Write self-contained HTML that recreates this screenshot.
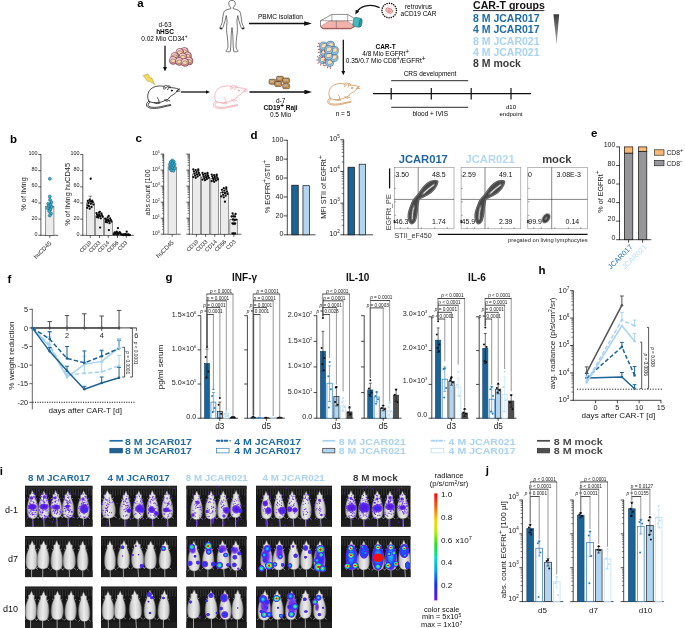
<!DOCTYPE html>
<html><head><meta charset="utf-8"><title>figure</title>
<style>
html,body{margin:0;padding:0;background:#fff;}
body{width:685px;height:628px;overflow:hidden;font-family:"Liberation Sans",sans-serif;}
svg{display:block;font-family:"Liberation Sans",sans-serif;}
</style></head><body>
<svg width="685" height="628" viewBox="0 0 685 628">
<defs>
<linearGradient id="tri" x1="0" y1="0" x2="0" y2="1"><stop offset="0" stop-color="#3a3a3a"/><stop offset="1" stop-color="#b5b5b5"/></linearGradient>
<linearGradient id="cbar" x1="0" y1="0" x2="0" y2="1">
<stop offset="0" stop-color="#ff0000"/><stop offset="0.12" stop-color="#ff5a00"/><stop offset="0.25" stop-color="#ffd000"/><stop offset="0.36" stop-color="#b4f000"/><stop offset="0.48" stop-color="#20e020"/><stop offset="0.6" stop-color="#00e0c0"/><stop offset="0.72" stop-color="#00a0ff"/><stop offset="0.85" stop-color="#1030ff"/><stop offset="1" stop-color="#6a10e0"/></linearGradient>
<marker id="ah" preserveAspectRatio="none" viewBox="0 0 10 10" refX="6.15" refY="5" markerWidth="7.8" markerHeight="4.6" orient="auto-start-reverse" markerUnits="userSpaceOnUse"><path d="M0,0 L10,5 L0,10 z" fill="#111"/></marker>
<g id="mouse" fill="none" stroke-linecap="round" stroke-linejoin="round">
<path d="M2.6,15.6 C0.8,17 -0.4,19 0.6,20.8 C2.2,23.4 9,23.6 15,22.2 C18.6,21.4 22,20.4 24.6,20 M3.8,16.8 C2.2,18 1.4,19.4 2,20.4 C3.4,22.2 9,22.4 14.6,21.2 C18.2,20.4 21.6,19.6 24.4,19.2"/>
<path d="M2.8,15.9 C0.6,12.6 1.2,7 4.4,3.8 C7.4,0.9 12.4,0.2 16,0.6 C17.2,0.8 18,1.1 18.6,1.5"/>
<path d="M17.8,4 C16.6,1.8 18.2,-0.4 20.2,0 C22.2,0.4 22.8,2.8 21.4,4.4 M19,3.2 C18.8,2.2 19.6,1.4 20.4,1.8"/>
<path d="M21.8,0.6 C23.2,-0.2 24.8,1 24,2.4"/>
<path d="M22.6,2.2 C26,2 29.8,2.8 32.4,3.6 C32.9,4 32.7,4.6 32,4.8 C30.6,5.6 30.4,6.6 29.6,7.4 C28.2,8.8 26.4,9.6 25,10.4 C24,11 23.2,11.8 22.8,12.6"/>
<path d="M30.4,5.4 L33.4,3.4 M30.6,6 L33.8,5.6"/>
<path d="M22.8,12.6 C22.4,13.6 21.6,14.2 20.4,14.4 L23.6,15.4 M20.4,14.4 L18,14.6 L21,16"/>
<path d="M2.8,15.9 C5,17.6 9,17.5 12.6,17 C14.4,16.8 16.4,16.4 18,15.6 M12.6,17 C13.2,15 12.4,13.2 11,12.2 M8,17.5 L11,18.2 L13.8,17.7"/>
<circle cx="25.6" cy="5.2" r="0.75" stroke-width="0.5" fill="currentColor"/>
</g>
<linearGradient id="mg" x1="0" y1="0" x2="1" y2="0"><stop offset="0" stop-color="#969696"/><stop offset="0.2" stop-color="#d0d0d0"/><stop offset="0.5" stop-color="#ececec"/><stop offset="0.8" stop-color="#d0d0d0"/><stop offset="1" stop-color="#969696"/></linearGradient>
<radialGradient id="gv"><stop offset="0" stop-color="#5218e6" stop-opacity="0.95"/><stop offset="0.55" stop-color="#6424ea" stop-opacity="0.85"/><stop offset="1" stop-color="#7a3cf0" stop-opacity="0"/></radialGradient>
<radialGradient id="gb"><stop offset="0" stop-color="#1648ff"/><stop offset="0.45" stop-color="#3626f2" stop-opacity="0.97"/><stop offset="0.75" stop-color="#5a22ea" stop-opacity="0.85"/><stop offset="1" stop-color="#6a2be8" stop-opacity="0"/></radialGradient>
<radialGradient id="gc"><stop offset="0" stop-color="#38ecff"/><stop offset="0.28" stop-color="#1a98ff"/><stop offset="0.55" stop-color="#2238ff"/><stop offset="0.8" stop-color="#5a22ea" stop-opacity="0.85"/><stop offset="1" stop-color="#6a2be8" stop-opacity="0"/></radialGradient>
<radialGradient id="gg"><stop offset="0" stop-color="#f4f020"/><stop offset="0.18" stop-color="#48e23c"/><stop offset="0.38" stop-color="#1ed4e4"/><stop offset="0.62" stop-color="#2048ff"/><stop offset="0.82" stop-color="#5a22ea" stop-opacity="0.85"/><stop offset="1" stop-color="#6a2be8" stop-opacity="0"/></radialGradient>
<radialGradient id="gr"><stop offset="0" stop-color="#ff0808"/><stop offset="0.2" stop-color="#ff2c00"/><stop offset="0.32" stop-color="#f4e41c"/><stop offset="0.45" stop-color="#34e048"/><stop offset="0.6" stop-color="#1ecaf0"/><stop offset="0.78" stop-color="#2444ff"/><stop offset="0.9" stop-color="#5a22ea" stop-opacity="0.85"/><stop offset="1" stop-color="#6a2be8" stop-opacity="0"/></radialGradient>
<filter id="bl" x="-5%" y="-5%" width="110%" height="110%"><feGaussianBlur stdDeviation="0.45"/></filter>
<g id="ms"><path d="M0,-0.8 C0.7,0.6 1.1,2 1.6,3.4 C2.6,2.9 3.6,3.9 2.9,5.4 C2.9,6.6 3,7.6 3.5,8.8 C4.5,10.6 5.3,13.6 5.6,17 C5.9,20.6 5.7,24.2 4.5,26.6 C3.5,28.4 1.4,28.9 0,28.9 C-1.4,28.9 -3.5,28.4 -4.5,26.6 C-5.7,24.2 -5.9,20.6 -5.6,17 C-5.3,13.6 -4.5,10.6 -3.5,8.8 C-3,7.6 -2.9,6.6 -2.9,5.4 C-3.6,3.9 -2.6,2.9 -1.6,3.4 C-1.1,2 -0.7,0.6 0,-0.8 Z" fill="url(#mg)" stroke="#707070" stroke-width="0.5"/><path d="M-4.2,27 L-6.2,28.8 M4.2,27 L6.2,28.8 M-3.3,8.8 L-4.9,7.4 M3.3,8.8 L4.9,7.4" stroke="#a8a8a8" stroke-width="0.7" fill="none"/><path d="M0,28.6 L0.3,41" stroke="#b4b4b4" stroke-width="0.85" fill="none"/></g>
<radialGradient id="gB"><stop offset="0" stop-color="#1a60ff"/><stop offset="0.6" stop-color="#2040ff"/><stop offset="0.85" stop-color="#4a24ee" stop-opacity="0.95"/><stop offset="1" stop-color="#6a2be8" stop-opacity="0"/></radialGradient>
<radialGradient id="gC"><stop offset="0" stop-color="#22c4f2"/><stop offset="0.45" stop-color="#1a8cff"/><stop offset="0.75" stop-color="#2444ff"/><stop offset="0.92" stop-color="#4a24ee" stop-opacity="0.9"/><stop offset="1" stop-color="#6a2be8" stop-opacity="0"/></radialGradient>
<filter id="bl2" x="-10%" y="-10%" width="120%" height="120%"><feGaussianBlur stdDeviation="0.3"/></filter>
<marker id="ahs" preserveAspectRatio="none" viewBox="0 0 10 10" refX="5" refY="5" markerWidth="4.6" markerHeight="4.1" orient="auto-start-reverse" markerUnits="userSpaceOnUse"><path d="M0,0 L10,5 L0,10 z" fill="#111"/></marker>
<radialGradient id="gV"><stop offset="0" stop-color="#4c16e4"/><stop offset="0.62" stop-color="#5a1ee8" stop-opacity="0.96"/><stop offset="0.85" stop-color="#6a2cec" stop-opacity="0.7"/><stop offset="1" stop-color="#7a3cf0" stop-opacity="0"/></radialGradient>

</defs>
<g opacity="0.999">
<text x="137.30" y="6.60" font-size="11.5" text-anchor="start" fill="#000" font-weight="bold">a</text>
<text x="10.00" y="142.60" font-size="11.5" text-anchor="start" fill="#000" font-weight="bold">b</text>
<text x="135.60" y="142.40" font-size="11.5" text-anchor="start" fill="#000" font-weight="bold">c</text>
<text x="250.50" y="139.40" font-size="11.5" text-anchor="start" fill="#000" font-weight="bold">d</text>
<text x="591.00" y="137.20" font-size="11.5" text-anchor="start" fill="#000" font-weight="bold">e</text>
<text x="7.60" y="283.20" font-size="11.5" text-anchor="start" fill="#000" font-weight="bold">f</text>
<text x="165.40" y="280.60" font-size="11.5" text-anchor="start" fill="#000" font-weight="bold">g</text>
<text x="538.40" y="273.60" font-size="11.5" text-anchor="start" fill="#000" font-weight="bold">h</text>
<text x="-0.30" y="474.60" font-size="11.5" text-anchor="start" fill="#000" font-weight="bold">i</text>
<text x="485.80" y="473.60" font-size="11.5" text-anchor="start" fill="#000" font-weight="bold">j</text>
<text x="165.00" y="27.20" font-size="6.5" text-anchor="middle" fill="#000">d-63</text>
<text x="165.00" y="34.20" font-size="6.5" text-anchor="middle" fill="#000" font-weight="bold">hHSC</text>
<text x="164.40" y="41.20" font-size="6.5" text-anchor="middle" fill="#000">0.02 Mio CD34<tspan baseline-shift="2.6" font-size="4.8">+</tspan></text>
<line x1="165.00" y1="45.80" x2="165.00" y2="69.20" stroke="#111" stroke-width="1.3" marker-end="url(#ahs)"/>
<circle cx="184.50" cy="51.40" r="3.9" fill="#e98e9b" stroke="#3a2226" stroke-width="0.5"/>
<circle cx="184.00" cy="50.90" r="2.9" fill="#f6c9ce"/>
<ellipse cx="184.30" cy="51.70" rx="2.5" ry="1.85" fill="#f1d4aa" stroke="#4a3524" stroke-width="0.4"/>
<circle cx="179.90" cy="52.30" r="3.9" fill="#e98e9b" stroke="#3a2226" stroke-width="0.5"/>
<circle cx="179.40" cy="51.80" r="2.9" fill="#f6c9ce"/>
<ellipse cx="179.70" cy="52.60" rx="2.5" ry="1.85" fill="#f1d4aa" stroke="#4a3524" stroke-width="0.4"/>
<circle cx="187.60" cy="55.90" r="3.9" fill="#e98e9b" stroke="#3a2226" stroke-width="0.5"/>
<circle cx="187.10" cy="55.40" r="2.9" fill="#f6c9ce"/>
<ellipse cx="187.40" cy="56.20" rx="2.5" ry="1.85" fill="#f1d4aa" stroke="#4a3524" stroke-width="0.4"/>
<circle cx="174.80" cy="56.40" r="3.9" fill="#e98e9b" stroke="#3a2226" stroke-width="0.5"/>
<circle cx="174.30" cy="55.90" r="2.9" fill="#f6c9ce"/>
<ellipse cx="174.60" cy="56.70" rx="2.5" ry="1.85" fill="#f1d4aa" stroke="#4a3524" stroke-width="0.4"/>
<circle cx="183.00" cy="56.90" r="3.9" fill="#e98e9b" stroke="#3a2226" stroke-width="0.5"/>
<circle cx="182.50" cy="56.40" r="2.9" fill="#f6c9ce"/>
<ellipse cx="182.80" cy="57.20" rx="2.5" ry="1.85" fill="#f1d4aa" stroke="#4a3524" stroke-width="0.4"/>
<circle cx="189.10" cy="61.00" r="3.9" fill="#e98e9b" stroke="#3a2226" stroke-width="0.5"/>
<circle cx="188.60" cy="60.50" r="2.9" fill="#f6c9ce"/>
<ellipse cx="188.90" cy="61.30" rx="2.5" ry="1.85" fill="#f1d4aa" stroke="#4a3524" stroke-width="0.4"/>
<circle cx="173.30" cy="60.50" r="3.9" fill="#e98e9b" stroke="#3a2226" stroke-width="0.5"/>
<circle cx="172.80" cy="60.00" r="2.9" fill="#f6c9ce"/>
<ellipse cx="173.10" cy="60.80" rx="2.5" ry="1.85" fill="#f1d4aa" stroke="#4a3524" stroke-width="0.4"/>
<circle cx="179.40" cy="61.50" r="3.9" fill="#e98e9b" stroke="#3a2226" stroke-width="0.5"/>
<circle cx="178.90" cy="61.00" r="2.9" fill="#f6c9ce"/>
<ellipse cx="179.20" cy="61.80" rx="2.5" ry="1.85" fill="#f1d4aa" stroke="#4a3524" stroke-width="0.4"/>
<circle cx="185.00" cy="62.50" r="3.9" fill="#e98e9b" stroke="#3a2226" stroke-width="0.5"/>
<circle cx="184.50" cy="62.00" r="2.9" fill="#f6c9ce"/>
<ellipse cx="184.80" cy="62.80" rx="2.5" ry="1.85" fill="#f1d4aa" stroke="#4a3524" stroke-width="0.4"/>
<path d="M143.2,75.6 L147.9,73.9 L150.5,78.2 L151.8,77.8 L154.5,84.5 L149.3,81 L147.9,81.6 Z" fill="#f7dc55" stroke="#8a7420" stroke-width="0.4"/>
<use href="#mouse" x="0" y="0" transform="translate(146.2,85.4)" stroke="#111" stroke-width="0.75" color="#111"/>
<line x1="181.00" y1="92.00" x2="207.80" y2="92.00" stroke="#111" stroke-width="1.3" marker-end="url(#ahs)"/>
<use href="#mouse" transform="translate(213.2,85.4)" stroke="#f2a3ab" stroke-width="0.75" color="#f2a3ab"/>
<line x1="249.50" y1="92.00" x2="309.20" y2="92.00" stroke="#111" stroke-width="1.3" marker-end="url(#ah)"/>
<use href="#mouse" transform="translate(327.4,83) scale(0.96)" stroke="#c98c4e" stroke-width="0.75" color="#c98c4e"/>
<rect x="276.60" y="76.30" width="6.80" height="5.00" fill="#e09a4e" stroke="#2e2012" stroke-width="0.5" rx="1.2"/>
<rect x="277.10" y="76.70" width="4.80" height="3.40" fill="#f6d6ac" stroke="#3a2a18" stroke-width="0.35" rx="0.9"/>
<rect x="278.10" y="77.50" width="2.80" height="1.80" fill="#ecc190" stroke="#4a3620" stroke-width="0.3" rx="0.6"/>
<rect x="282.70" y="78.00" width="6.80" height="5.00" fill="#e09a4e" stroke="#2e2012" stroke-width="0.5" rx="1.2"/>
<rect x="283.20" y="78.40" width="4.80" height="3.40" fill="#f6d6ac" stroke="#3a2a18" stroke-width="0.35" rx="0.9"/>
<rect x="284.20" y="79.20" width="2.80" height="1.80" fill="#ecc190" stroke="#4a3620" stroke-width="0.3" rx="0.6"/>
<rect x="269.10" y="79.30" width="6.80" height="5.00" fill="#e09a4e" stroke="#2e2012" stroke-width="0.5" rx="1.2"/>
<rect x="269.60" y="79.70" width="4.80" height="3.40" fill="#f6d6ac" stroke="#3a2a18" stroke-width="0.35" rx="0.9"/>
<rect x="270.60" y="80.50" width="2.80" height="1.80" fill="#ecc190" stroke="#4a3620" stroke-width="0.3" rx="0.6"/>
<rect x="274.80" y="81.50" width="6.80" height="5.00" fill="#e09a4e" stroke="#2e2012" stroke-width="0.5" rx="1.2"/>
<rect x="275.30" y="81.90" width="4.80" height="3.40" fill="#f6d6ac" stroke="#3a2a18" stroke-width="0.35" rx="0.9"/>
<rect x="276.30" y="82.70" width="2.80" height="1.80" fill="#ecc190" stroke="#4a3620" stroke-width="0.3" rx="0.6"/>
<rect x="282.70" y="83.70" width="6.80" height="5.00" fill="#e09a4e" stroke="#2e2012" stroke-width="0.5" rx="1.2"/>
<rect x="283.20" y="84.10" width="4.80" height="3.40" fill="#f6d6ac" stroke="#3a2a18" stroke-width="0.35" rx="0.9"/>
<rect x="284.20" y="84.90" width="2.80" height="1.80" fill="#ecc190" stroke="#4a3620" stroke-width="0.3" rx="0.6"/>
<text x="280.60" y="103.40" font-size="6.5" text-anchor="middle" fill="#000">d-7</text>
<text x="280.60" y="110.30" font-size="6.5" text-anchor="middle" fill="#000" font-weight="bold">CD19<tspan baseline-shift="2.0" font-size="6.4">+</tspan> Raji</text>
<text x="280.60" y="117.40" font-size="6.5" text-anchor="middle" fill="#000">0.5 Mio</text>
<g transform="translate(232 0) scale(1.26 1.0) translate(-232 0)">
<path d="M232,0.4 C230.2,0.4 229.3,1.8 229.4,3.6 C229.5,5.4 230.2,6.8 231,7.4 L231,8.6 C229.4,9.4 226.6,9.8 225.8,11.4 C224.8,14 224.6,19 224.2,22.6 C224,24.4 222.6,26.4 222.4,27.6 C222.3,28.6 223.2,29.6 224,29 C224.8,28 225,26.6 225.4,25.2 C226.2,22.4 227,18.6 227.4,15.6 C227.8,18 228.2,20.4 228,23 C227.6,27.4 227.6,32 228.2,36 C228.6,39.6 228.8,43.4 228.8,47 C228.8,48.6 227.6,50 227.2,51 C227,51.8 229.6,52 230.6,51.6 C231,48 231.2,44 231.2,40 C231.2,36 231.6,31 232,27.6 C232.4,31 232.8,36 232.8,40 C232.8,44 233,48 233.4,51.6 C234.4,52 237,51.8 236.8,51 C236.4,50 235.2,48.6 235.2,47 C235.2,43.4 235.4,39.6 235.8,36 C236.4,32 236.4,27.4 236,23 C235.8,20.4 236.2,18 236.6,15.6 C237,18.6 237.8,22.4 238.6,25.2 C239,26.6 239.2,28 240,29 C240.8,29.6 241.7,28.6 241.6,27.6 C241.4,26.4 240,24.4 239.8,22.6 C239.4,19 239.2,14 238.2,11.4 C237.4,9.8 234.6,9.4 233,8.6 L233,7.4 C233.8,6.8 234.5,5.4 234.6,3.6 C234.7,1.8 233.8,0.4 232,0.4 Z" fill="#fff" stroke="#222" stroke-width="0.55"/>
<circle cx="223.20" cy="28.30" r="0.9" fill="#222" stroke="none" stroke-width="0.4"/>
<circle cx="240.80" cy="28.30" r="0.9" fill="#222" stroke="none" stroke-width="0.4"/>
</g>
<text x="280.50" y="18.70" font-size="6.6" text-anchor="middle" fill="#000">PBMC isolation</text>
<line x1="249.00" y1="23.50" x2="308.90" y2="23.50" stroke="#111" stroke-width="1.3" marker-end="url(#ah)"/>
<path d="M320.5,20.7 L331.9,14.4 L347.7,14.4 L355.2,18.9 L354.7,26.3 L350.6,28.4 L323.1,28.4 L320.5,26.6 Z" fill="#fff" stroke="#333" stroke-width="0.55"/>
<path d="M320.9,26.3 L328.4,21.4 L347.7,21.4 L354.1,25.4 L350.6,28.2 L323.1,28.2 Z" fill="#f2b3ad" stroke="#b8605c" stroke-width="0.45"/>
<path d="M320.5,26.9 L323.1,28.8 L350.6,28.8 L354.7,26.6" fill="none" stroke="#8c2f2f" stroke-width="0.7"/>
<path d="M320.5,20.7 L352.6,20.7 M331.9,14.4 L331.9,21.4 M336.3,20.7 L336.3,28.6 M347.7,14.4 L347.7,21.4" fill="none" stroke="#444" stroke-width="0.45"/>
<g transform="rotate(10 357.4 22.4)"><rect x="353.2" y="17.8" width="8" height="9.2" rx="2" fill="#45b9bd" stroke="#1d5e63" stroke-width="0.55"/><ellipse cx="360.6" cy="22.4" rx="1.5" ry="4.2" fill="#2e979d" stroke="#1d5e63" stroke-width="0.45"/></g>
<path d="M379.6,7.6 C370,3.2 360.2,5.8 356.4,12.6" fill="none" stroke="#111" stroke-width="1.3" marker-end="url(#ahs)"/>
<circle cx="389.20" cy="10.50" r="6.9" fill="#fdf4f4" stroke="none" stroke-width="0.4"/>
<circle cx="389.2" cy="10.5" r="7.3" fill="none" stroke="#1a1a1a" stroke-width="1.5" stroke-dasharray="0.1 2.19" stroke-linecap="round"/>
<ellipse cx="389.2" cy="10.6" rx="3.6" ry="2.3" fill="#f7d3d3" stroke="#b24a4a" stroke-width="0.5" transform="rotate(28 389.2 10.6)"/>
<path d="M387.2,9.6 L391,11.8 M388.2,8.8 L391.6,10.8 M387.6,10.8 L389.8,12.2" fill="none" stroke="#b03a3a" stroke-width="0.4"/>
<text x="418.50" y="9.00" font-size="6.5" text-anchor="middle" fill="#000">retrovirus</text>
<text x="418.50" y="15.90" font-size="6.5" text-anchor="middle" fill="#000">aCD19 CAR</text>
<line x1="343.30" y1="39.80" x2="343.30" y2="73.00" stroke="#111" stroke-width="1.3" marker-end="url(#ahs)"/>
<line x1="323.51" y1="63.64" x2="323.82" y2="65.41" stroke="#b5302a" stroke-width="0.55"/>
<circle cx="323.82" cy="65.41" r="0.5" fill="#b5302a" stroke="none" stroke-width="0.4"/>
<line x1="321.26" y1="63.40" x2="320.59" y2="65.07" stroke="#b5302a" stroke-width="0.55"/>
<circle cx="320.59" cy="65.07" r="0.5" fill="#b5302a" stroke="none" stroke-width="0.4"/>
<line x1="319.48" y1="62.01" x2="318.03" y2="63.07" stroke="#b5302a" stroke-width="0.55"/>
<circle cx="318.03" cy="63.07" r="0.5" fill="#b5302a" stroke="none" stroke-width="0.4"/>
<line x1="318.71" y1="59.89" x2="316.91" y2="60.01" stroke="#b5302a" stroke-width="0.55"/>
<circle cx="316.91" cy="60.01" r="0.5" fill="#b5302a" stroke="none" stroke-width="0.4"/>
<line x1="319.18" y1="57.68" x2="317.59" y2="56.83" stroke="#b5302a" stroke-width="0.55"/>
<circle cx="317.59" cy="56.83" r="0.5" fill="#b5302a" stroke="none" stroke-width="0.4"/>
<circle cx="322.80" cy="59.60" r="4.1" fill="#93c4e8" stroke="#26557e" stroke-width="0.5"/>
<ellipse cx="323.10" cy="59.40" rx="2.79" ry="2.13" fill="#f3e0bf" stroke="#5a4a32" stroke-width="0.35" transform="rotate(-20 322.8 59.6)"/>
<line x1="330.31" y1="66.44" x2="330.62" y2="68.21" stroke="#b5302a" stroke-width="0.55"/>
<circle cx="330.62" cy="68.21" r="0.5" fill="#b5302a" stroke="none" stroke-width="0.4"/>
<line x1="328.06" y1="66.20" x2="327.39" y2="67.87" stroke="#b5302a" stroke-width="0.55"/>
<circle cx="327.39" cy="67.87" r="0.5" fill="#b5302a" stroke="none" stroke-width="0.4"/>
<line x1="326.28" y1="64.81" x2="324.83" y2="65.87" stroke="#b5302a" stroke-width="0.55"/>
<circle cx="324.83" cy="65.87" r="0.5" fill="#b5302a" stroke="none" stroke-width="0.4"/>
<line x1="325.51" y1="62.69" x2="323.71" y2="62.81" stroke="#b5302a" stroke-width="0.55"/>
<circle cx="323.71" cy="62.81" r="0.5" fill="#b5302a" stroke="none" stroke-width="0.4"/>
<line x1="325.98" y1="60.48" x2="324.39" y2="59.63" stroke="#b5302a" stroke-width="0.55"/>
<circle cx="324.39" cy="59.63" r="0.5" fill="#b5302a" stroke="none" stroke-width="0.4"/>
<circle cx="329.60" cy="62.40" r="4.1" fill="#93c4e8" stroke="#26557e" stroke-width="0.5"/>
<ellipse cx="329.90" cy="62.20" rx="2.79" ry="2.13" fill="#f3e0bf" stroke="#5a4a32" stroke-width="0.35" transform="rotate(-20 329.6 62.4)"/>
<line x1="324.91" y1="56.04" x2="325.22" y2="57.81" stroke="#b5302a" stroke-width="0.55"/>
<circle cx="325.22" cy="57.81" r="0.5" fill="#b5302a" stroke="none" stroke-width="0.4"/>
<line x1="322.66" y1="55.80" x2="321.99" y2="57.47" stroke="#b5302a" stroke-width="0.55"/>
<circle cx="321.99" cy="57.47" r="0.5" fill="#b5302a" stroke="none" stroke-width="0.4"/>
<line x1="320.88" y1="54.41" x2="319.43" y2="55.47" stroke="#b5302a" stroke-width="0.55"/>
<circle cx="319.43" cy="55.47" r="0.5" fill="#b5302a" stroke="none" stroke-width="0.4"/>
<line x1="320.11" y1="52.29" x2="318.31" y2="52.41" stroke="#b5302a" stroke-width="0.55"/>
<circle cx="318.31" cy="52.41" r="0.5" fill="#b5302a" stroke="none" stroke-width="0.4"/>
<line x1="320.58" y1="50.08" x2="318.99" y2="49.23" stroke="#b5302a" stroke-width="0.55"/>
<circle cx="318.99" cy="49.23" r="0.5" fill="#b5302a" stroke="none" stroke-width="0.4"/>
<circle cx="324.20" cy="52.00" r="4.1" fill="#93c4e8" stroke="#26557e" stroke-width="0.5"/>
<ellipse cx="324.50" cy="51.80" rx="2.79" ry="2.13" fill="#f3e0bf" stroke="#5a4a32" stroke-width="0.35" transform="rotate(-20 324.2 52.0)"/>
<circle cx="334.00" cy="57.60" r="4.1" fill="#93c4e8" stroke="#26557e" stroke-width="0.5"/>
<ellipse cx="334.30" cy="57.40" rx="2.79" ry="2.13" fill="#f3e0bf" stroke="#5a4a32" stroke-width="0.35" transform="rotate(-20 334.0 57.6)"/>
<circle cx="328.60" cy="55.80" r="4.1" fill="#93c4e8" stroke="#26557e" stroke-width="0.5"/>
<ellipse cx="328.90" cy="55.60" rx="2.79" ry="2.13" fill="#f3e0bf" stroke="#5a4a32" stroke-width="0.35" transform="rotate(-20 328.6 55.8)"/>
<line x1="324.31" y1="50.04" x2="324.62" y2="51.81" stroke="#b5302a" stroke-width="0.55"/>
<circle cx="324.62" cy="51.81" r="0.5" fill="#b5302a" stroke="none" stroke-width="0.4"/>
<line x1="322.06" y1="49.80" x2="321.39" y2="51.47" stroke="#b5302a" stroke-width="0.55"/>
<circle cx="321.39" cy="51.47" r="0.5" fill="#b5302a" stroke="none" stroke-width="0.4"/>
<line x1="320.28" y1="48.41" x2="318.83" y2="49.47" stroke="#b5302a" stroke-width="0.55"/>
<circle cx="318.83" cy="49.47" r="0.5" fill="#b5302a" stroke="none" stroke-width="0.4"/>
<line x1="319.51" y1="46.29" x2="317.71" y2="46.41" stroke="#b5302a" stroke-width="0.55"/>
<circle cx="317.71" cy="46.41" r="0.5" fill="#b5302a" stroke="none" stroke-width="0.4"/>
<line x1="319.98" y1="44.08" x2="318.39" y2="43.23" stroke="#b5302a" stroke-width="0.55"/>
<circle cx="318.39" cy="43.23" r="0.5" fill="#b5302a" stroke="none" stroke-width="0.4"/>
<circle cx="323.60" cy="46.00" r="4.1" fill="#93c4e8" stroke="#26557e" stroke-width="0.5"/>
<ellipse cx="323.90" cy="45.80" rx="2.79" ry="2.13" fill="#f3e0bf" stroke="#5a4a32" stroke-width="0.35" transform="rotate(-20 323.6 46.0)"/>
<circle cx="330.40" cy="45.20" r="4.1" fill="#93c4e8" stroke="#26557e" stroke-width="0.5"/>
<ellipse cx="330.70" cy="45.00" rx="2.79" ry="2.13" fill="#f3e0bf" stroke="#5a4a32" stroke-width="0.35" transform="rotate(-20 330.4 45.2)"/>
<circle cx="334.40" cy="50.40" r="4.1" fill="#93c4e8" stroke="#26557e" stroke-width="0.5"/>
<ellipse cx="334.70" cy="50.20" rx="2.79" ry="2.13" fill="#f3e0bf" stroke="#5a4a32" stroke-width="0.35" transform="rotate(-20 334.4 50.4)"/>
<circle cx="328.80" cy="49.60" r="4.1" fill="#93c4e8" stroke="#26557e" stroke-width="0.5"/>
<ellipse cx="329.10" cy="49.40" rx="2.79" ry="2.13" fill="#f3e0bf" stroke="#5a4a32" stroke-width="0.35" transform="rotate(-20 328.8 49.6)"/>
<text x="385.60" y="49.40" font-size="6.5" text-anchor="middle" fill="#000" font-weight="bold">CAR-T</text>
<text x="385.60" y="56.30" font-size="6.5" text-anchor="middle" fill="#000">4/8 Mio EGFRt<tspan baseline-shift="2.0" font-size="6.4">+</tspan></text>
<text x="385.60" y="63.20" font-size="6.5" text-anchor="middle" fill="#000">0.35/0.7 Mio CD8<tspan baseline-shift="2.0" font-size="6.4">+</tspan>/EGFRt<tspan baseline-shift="2.0" font-size="6.4">+</tspan></text>
<text x="343.00" y="115.60" font-size="6.5" text-anchor="middle" fill="#000">n = 5</text>
<line x1="373.00" y1="93.60" x2="531.00" y2="93.60" stroke="#111" stroke-width="1.3"/>
<line x1="391.20" y1="88.00" x2="391.20" y2="99.40" stroke="#111" stroke-width="1.2"/>
<line x1="431.30" y1="88.00" x2="431.30" y2="99.40" stroke="#111" stroke-width="1.2"/>
<line x1="471.20" y1="88.00" x2="471.20" y2="99.40" stroke="#111" stroke-width="1.2"/>
<line x1="511.00" y1="88.00" x2="511.00" y2="99.40" stroke="#111" stroke-width="1.2"/>
<line x1="391.20" y1="80.70" x2="468.20" y2="80.70" stroke="#111" stroke-width="0.9"/>
<line x1="391.20" y1="107.30" x2="468.20" y2="107.30" stroke="#111" stroke-width="0.9"/>
<text x="430.00" y="76.40" font-size="6.5" text-anchor="middle" fill="#000">CRS development</text>
<text x="430.20" y="116.30" font-size="6.5" text-anchor="middle" fill="#000">blood + IVIS</text>
<text x="511.00" y="108.80" font-size="6" text-anchor="middle" fill="#000">d10</text>
<text x="511.00" y="115.80" font-size="6" text-anchor="middle" fill="#000">endpoint</text>
<text x="473.00" y="8.80" font-size="10.6" text-anchor="start" fill="#111" font-weight="bold">CAR-T groups</text>
<line x1="473.00" y1="10.60" x2="544.40" y2="10.60" stroke="#111" stroke-width="0.9"/>
<text x="473.00" y="22.00" font-size="10.5" text-anchor="start" fill="#1f6ca3" font-weight="bold">8 M JCAR017</text>
<text x="473.00" y="33.40" font-size="10.5" text-anchor="start" fill="#1f6ca3" font-weight="bold">4 M JCAR017</text>
<text x="473.00" y="44.80" font-size="10.5" text-anchor="start" fill="#a9d3f0" font-weight="bold">8 M JCAR021</text>
<text x="473.00" y="56.10" font-size="10.5" text-anchor="start" fill="#a9d3f0" font-weight="bold">4 M JCAR021</text>
<text x="473.00" y="67.30" font-size="10.5" text-anchor="start" fill="#3c3c3c" font-weight="bold">8 M mock</text>
<path d="M553.4,14.2 L559.2,14.2 L556.6,44.8 Z" fill="url(#tri)" stroke="none" stroke-width="0.8"/>
<line x1="40.90" y1="154.20" x2="40.90" y2="235.60" stroke="#1a1a1a" stroke-width="0.7"/>
<line x1="38.30" y1="235.30" x2="40.90" y2="235.30" stroke="#1a1a1a" stroke-width="0.7"/>
<text x="37.50" y="235.74" font-size="5.4" text-anchor="end" fill="#1a1a1a">0</text>
<line x1="38.30" y1="219.14" x2="40.90" y2="219.14" stroke="#1a1a1a" stroke-width="0.7"/>
<text x="37.50" y="219.58" font-size="5.4" text-anchor="end" fill="#1a1a1a">20</text>
<line x1="38.30" y1="202.98" x2="40.90" y2="202.98" stroke="#1a1a1a" stroke-width="0.7"/>
<text x="37.50" y="203.42" font-size="5.4" text-anchor="end" fill="#1a1a1a">40</text>
<line x1="38.30" y1="186.82" x2="40.90" y2="186.82" stroke="#1a1a1a" stroke-width="0.7"/>
<text x="37.50" y="187.26" font-size="5.4" text-anchor="end" fill="#1a1a1a">60</text>
<line x1="38.30" y1="170.66" x2="40.90" y2="170.66" stroke="#1a1a1a" stroke-width="0.7"/>
<text x="37.50" y="171.10" font-size="5.4" text-anchor="end" fill="#1a1a1a">80</text>
<line x1="38.30" y1="154.50" x2="40.90" y2="154.50" stroke="#1a1a1a" stroke-width="0.7"/>
<text x="37.50" y="154.94" font-size="5.4" text-anchor="end" fill="#1a1a1a">100</text>
<line x1="40.60" y1="235.30" x2="58.20" y2="235.30" stroke="#1a1a1a" stroke-width="0.7"/>
<line x1="49.80" y1="235.30" x2="49.80" y2="237.90" stroke="#1a1a1a" stroke-width="0.7"/>
<rect x="45.65" y="206.21" width="8.30" height="29.09" fill="#ebebeb" stroke="#333" stroke-width="0.5"/>
<line x1="49.80" y1="203.38" x2="49.80" y2="208.64" stroke="#222" stroke-width="0.5"/>
<line x1="48.20" y1="203.38" x2="51.40" y2="203.38" stroke="#222" stroke-width="0.5"/>
<line x1="48.20" y1="208.64" x2="51.40" y2="208.64" stroke="#222" stroke-width="0.5"/>
<circle cx="49.80" cy="178.74" r="1.55" fill="#2fb4d6" stroke="#174a5c" stroke-width="0.45"/>
<circle cx="49.80" cy="196.52" r="1.55" fill="#2fb4d6" stroke="#174a5c" stroke-width="0.45"/>
<circle cx="50.00" cy="199.75" r="1.55" fill="#2fb4d6" stroke="#174a5c" stroke-width="0.45"/>
<circle cx="51.40" cy="202.17" r="1.55" fill="#2fb4d6" stroke="#174a5c" stroke-width="0.45"/>
<circle cx="48.20" cy="203.79" r="1.55" fill="#2fb4d6" stroke="#174a5c" stroke-width="0.45"/>
<circle cx="50.60" cy="205.00" r="1.55" fill="#2fb4d6" stroke="#174a5c" stroke-width="0.45"/>
<circle cx="48.60" cy="206.21" r="1.55" fill="#2fb4d6" stroke="#174a5c" stroke-width="0.45"/>
<circle cx="51.60" cy="207.02" r="1.55" fill="#2fb4d6" stroke="#174a5c" stroke-width="0.45"/>
<circle cx="47.90" cy="208.23" r="1.55" fill="#2fb4d6" stroke="#174a5c" stroke-width="0.45"/>
<circle cx="50.20" cy="209.44" r="1.55" fill="#2fb4d6" stroke="#174a5c" stroke-width="0.45"/>
<circle cx="49.20" cy="211.06" r="1.55" fill="#2fb4d6" stroke="#174a5c" stroke-width="0.45"/>
<circle cx="51.00" cy="213.48" r="1.55" fill="#2fb4d6" stroke="#174a5c" stroke-width="0.45"/>
<circle cx="49.80" cy="215.50" r="1.55" fill="#2fb4d6" stroke="#174a5c" stroke-width="0.45"/>
<text x="51.80" y="243.60" font-size="6.0" text-anchor="end" fill="#1a1a1a" transform="rotate(-45 51.80 243.60)">huCD45</text>
<text x="26.00" y="194.00" font-size="7.4" text-anchor="middle" fill="#1a1a1a" transform="rotate(-90 26.00 194.00)">% of living</text>
<line x1="82.80" y1="154.20" x2="82.80" y2="235.60" stroke="#1a1a1a" stroke-width="0.7"/>
<line x1="80.20" y1="235.30" x2="82.80" y2="235.30" stroke="#1a1a1a" stroke-width="0.7"/>
<text x="79.40" y="235.74" font-size="5.4" text-anchor="end" fill="#1a1a1a">0</text>
<line x1="80.20" y1="219.14" x2="82.80" y2="219.14" stroke="#1a1a1a" stroke-width="0.7"/>
<text x="79.40" y="219.58" font-size="5.4" text-anchor="end" fill="#1a1a1a">20</text>
<line x1="80.20" y1="202.98" x2="82.80" y2="202.98" stroke="#1a1a1a" stroke-width="0.7"/>
<text x="79.40" y="203.42" font-size="5.4" text-anchor="end" fill="#1a1a1a">40</text>
<line x1="80.20" y1="186.82" x2="82.80" y2="186.82" stroke="#1a1a1a" stroke-width="0.7"/>
<text x="79.40" y="187.26" font-size="5.4" text-anchor="end" fill="#1a1a1a">60</text>
<line x1="80.20" y1="170.66" x2="82.80" y2="170.66" stroke="#1a1a1a" stroke-width="0.7"/>
<text x="79.40" y="171.10" font-size="5.4" text-anchor="end" fill="#1a1a1a">80</text>
<line x1="80.20" y1="154.50" x2="82.80" y2="154.50" stroke="#1a1a1a" stroke-width="0.7"/>
<text x="79.40" y="154.94" font-size="5.4" text-anchor="end" fill="#1a1a1a">100</text>
<line x1="82.50" y1="235.30" x2="133.90" y2="235.30" stroke="#1a1a1a" stroke-width="0.7"/>
<rect x="86.35" y="202.98" width="7.90" height="32.32" fill="#ebebeb" stroke="#333" stroke-width="0.5"/>
<line x1="90.30" y1="235.30" x2="90.30" y2="237.90" stroke="#1a1a1a" stroke-width="0.7"/>
<line x1="90.30" y1="196.11" x2="90.30" y2="202.98" stroke="#222" stroke-width="0.5"/>
<line x1="88.50" y1="196.11" x2="92.10" y2="196.11" stroke="#222" stroke-width="0.5"/>
<circle cx="90.70" cy="178.74" r="1.15" fill="#0c0c0c" stroke="none" stroke-width="0.4"/>
<circle cx="89.68" cy="199.75" r="1.15" fill="#0c0c0c" stroke="none" stroke-width="0.4"/>
<circle cx="92.16" cy="200.56" r="1.15" fill="#0c0c0c" stroke="none" stroke-width="0.4"/>
<circle cx="87.82" cy="200.96" r="1.15" fill="#0c0c0c" stroke="none" stroke-width="0.4"/>
<circle cx="90.30" cy="201.36" r="1.15" fill="#0c0c0c" stroke="none" stroke-width="0.4"/>
<circle cx="92.78" cy="202.17" r="1.15" fill="#0c0c0c" stroke="none" stroke-width="0.4"/>
<circle cx="88.44" cy="202.98" r="1.15" fill="#0c0c0c" stroke="none" stroke-width="0.4"/>
<circle cx="90.92" cy="203.79" r="1.15" fill="#0c0c0c" stroke="none" stroke-width="0.4"/>
<circle cx="93.40" cy="204.60" r="1.15" fill="#0c0c0c" stroke="none" stroke-width="0.4"/>
<circle cx="89.06" cy="206.21" r="1.15" fill="#0c0c0c" stroke="none" stroke-width="0.4"/>
<circle cx="91.54" cy="207.02" r="1.15" fill="#0c0c0c" stroke="none" stroke-width="0.4"/>
<circle cx="87.20" cy="207.83" r="1.15" fill="#0c0c0c" stroke="none" stroke-width="0.4"/>
<circle cx="89.68" cy="208.64" r="1.15" fill="#0c0c0c" stroke="none" stroke-width="0.4"/>
<circle cx="92.16" cy="201.77" r="1.15" fill="#0c0c0c" stroke="none" stroke-width="0.4"/>
<circle cx="87.82" cy="205.40" r="1.15" fill="#0c0c0c" stroke="none" stroke-width="0.4"/>
<text x="91.80" y="243.00" font-size="5.6" text-anchor="end" fill="#1a1a1a" transform="rotate(-45 91.80 243.00)">CD19</text>
<rect x="95.55" y="215.91" width="7.90" height="19.39" fill="#ebebeb" stroke="#333" stroke-width="0.5"/>
<line x1="99.50" y1="235.30" x2="99.50" y2="237.90" stroke="#1a1a1a" stroke-width="0.7"/>
<circle cx="99.90" cy="211.87" r="1.15" fill="#0c0c0c" stroke="none" stroke-width="0.4"/>
<circle cx="98.88" cy="212.68" r="1.15" fill="#0c0c0c" stroke="none" stroke-width="0.4"/>
<circle cx="101.36" cy="213.48" r="1.15" fill="#0c0c0c" stroke="none" stroke-width="0.4"/>
<circle cx="97.02" cy="214.29" r="1.15" fill="#0c0c0c" stroke="none" stroke-width="0.4"/>
<circle cx="99.50" cy="214.70" r="1.15" fill="#0c0c0c" stroke="none" stroke-width="0.4"/>
<circle cx="101.98" cy="215.10" r="1.15" fill="#0c0c0c" stroke="none" stroke-width="0.4"/>
<circle cx="97.64" cy="215.91" r="1.15" fill="#0c0c0c" stroke="none" stroke-width="0.4"/>
<circle cx="100.12" cy="216.31" r="1.15" fill="#0c0c0c" stroke="none" stroke-width="0.4"/>
<circle cx="102.60" cy="216.72" r="1.15" fill="#0c0c0c" stroke="none" stroke-width="0.4"/>
<circle cx="98.26" cy="217.52" r="1.15" fill="#0c0c0c" stroke="none" stroke-width="0.4"/>
<circle cx="100.74" cy="218.33" r="1.15" fill="#0c0c0c" stroke="none" stroke-width="0.4"/>
<circle cx="96.40" cy="213.08" r="1.15" fill="#0c0c0c" stroke="none" stroke-width="0.4"/>
<circle cx="98.88" cy="215.50" r="1.15" fill="#0c0c0c" stroke="none" stroke-width="0.4"/>
<circle cx="100.10" cy="227.62" r="1.15" fill="#0c0c0c" stroke="none" stroke-width="0.4"/>
<circle cx="97.02" cy="217.12" r="1.15" fill="#0c0c0c" stroke="none" stroke-width="0.4"/>
<text x="101.00" y="243.00" font-size="5.6" text-anchor="end" fill="#1a1a1a" transform="rotate(-45 101.00 243.00)">CD33</text>
<rect x="104.35" y="220.76" width="7.90" height="14.54" fill="#ebebeb" stroke="#333" stroke-width="0.5"/>
<line x1="108.30" y1="235.30" x2="108.30" y2="237.90" stroke="#1a1a1a" stroke-width="0.7"/>
<circle cx="108.70" cy="215.91" r="1.15" fill="#0c0c0c" stroke="none" stroke-width="0.4"/>
<circle cx="107.68" cy="217.52" r="1.15" fill="#0c0c0c" stroke="none" stroke-width="0.4"/>
<circle cx="110.16" cy="218.33" r="1.15" fill="#0c0c0c" stroke="none" stroke-width="0.4"/>
<circle cx="105.82" cy="219.14" r="1.15" fill="#0c0c0c" stroke="none" stroke-width="0.4"/>
<circle cx="108.30" cy="219.54" r="1.15" fill="#0c0c0c" stroke="none" stroke-width="0.4"/>
<circle cx="110.78" cy="219.95" r="1.15" fill="#0c0c0c" stroke="none" stroke-width="0.4"/>
<circle cx="106.44" cy="220.76" r="1.15" fill="#0c0c0c" stroke="none" stroke-width="0.4"/>
<circle cx="108.92" cy="221.16" r="1.15" fill="#0c0c0c" stroke="none" stroke-width="0.4"/>
<circle cx="111.40" cy="221.56" r="1.15" fill="#0c0c0c" stroke="none" stroke-width="0.4"/>
<circle cx="107.06" cy="222.37" r="1.15" fill="#0c0c0c" stroke="none" stroke-width="0.4"/>
<circle cx="109.54" cy="223.18" r="1.15" fill="#0c0c0c" stroke="none" stroke-width="0.4"/>
<circle cx="105.20" cy="218.74" r="1.15" fill="#0c0c0c" stroke="none" stroke-width="0.4"/>
<circle cx="107.68" cy="220.35" r="1.15" fill="#0c0c0c" stroke="none" stroke-width="0.4"/>
<circle cx="108.90" cy="230.05" r="1.15" fill="#0c0c0c" stroke="none" stroke-width="0.4"/>
<circle cx="105.82" cy="221.97" r="1.15" fill="#0c0c0c" stroke="none" stroke-width="0.4"/>
<text x="109.80" y="243.00" font-size="5.6" text-anchor="end" fill="#1a1a1a" transform="rotate(-45 109.80 243.00)">CD14</text>
<rect x="113.55" y="232.88" width="7.90" height="2.42" fill="#ebebeb" stroke="#333" stroke-width="0.5"/>
<line x1="117.50" y1="235.30" x2="117.50" y2="237.90" stroke="#1a1a1a" stroke-width="0.7"/>
<circle cx="117.90" cy="228.03" r="1.15" fill="#0c0c0c" stroke="none" stroke-width="0.4"/>
<circle cx="116.78" cy="231.66" r="1.15" fill="#0c0c0c" stroke="none" stroke-width="0.4"/>
<circle cx="119.66" cy="232.07" r="1.15" fill="#0c0c0c" stroke="none" stroke-width="0.4"/>
<circle cx="114.62" cy="232.47" r="1.15" fill="#0c0c0c" stroke="none" stroke-width="0.4"/>
<circle cx="117.50" cy="232.88" r="1.15" fill="#0c0c0c" stroke="none" stroke-width="0.4"/>
<circle cx="120.38" cy="233.28" r="1.15" fill="#0c0c0c" stroke="none" stroke-width="0.4"/>
<circle cx="115.34" cy="233.68" r="1.15" fill="#0c0c0c" stroke="none" stroke-width="0.4"/>
<circle cx="118.22" cy="234.09" r="1.15" fill="#0c0c0c" stroke="none" stroke-width="0.4"/>
<circle cx="121.10" cy="234.49" r="1.15" fill="#0c0c0c" stroke="none" stroke-width="0.4"/>
<circle cx="116.06" cy="232.71" r="1.15" fill="#0c0c0c" stroke="none" stroke-width="0.4"/>
<circle cx="118.94" cy="233.52" r="1.15" fill="#0c0c0c" stroke="none" stroke-width="0.4"/>
<circle cx="113.90" cy="234.33" r="1.15" fill="#0c0c0c" stroke="none" stroke-width="0.4"/>
<circle cx="116.78" cy="234.65" r="1.15" fill="#0c0c0c" stroke="none" stroke-width="0.4"/>
<circle cx="119.66" cy="233.04" r="1.15" fill="#0c0c0c" stroke="none" stroke-width="0.4"/>
<circle cx="114.62" cy="233.85" r="1.15" fill="#0c0c0c" stroke="none" stroke-width="0.4"/>
<text x="119.00" y="243.00" font-size="5.6" text-anchor="end" fill="#1a1a1a" transform="rotate(-45 119.00 243.00)">CD56</text>
<rect x="122.35" y="234.49" width="7.90" height="0.81" fill="#ebebeb" stroke="#333" stroke-width="0.5"/>
<line x1="126.30" y1="235.30" x2="126.30" y2="237.90" stroke="#1a1a1a" stroke-width="0.7"/>
<circle cx="126.70" cy="231.66" r="1.15" fill="#0c0c0c" stroke="none" stroke-width="0.4"/>
<circle cx="125.58" cy="234.09" r="1.15" fill="#0c0c0c" stroke="none" stroke-width="0.4"/>
<circle cx="128.46" cy="234.33" r="1.15" fill="#0c0c0c" stroke="none" stroke-width="0.4"/>
<circle cx="123.42" cy="234.49" r="1.15" fill="#0c0c0c" stroke="none" stroke-width="0.4"/>
<circle cx="126.30" cy="234.65" r="1.15" fill="#0c0c0c" stroke="none" stroke-width="0.4"/>
<circle cx="129.18" cy="234.82" r="1.15" fill="#0c0c0c" stroke="none" stroke-width="0.4"/>
<circle cx="124.14" cy="234.90" r="1.15" fill="#0c0c0c" stroke="none" stroke-width="0.4"/>
<circle cx="127.02" cy="234.98" r="1.15" fill="#0c0c0c" stroke="none" stroke-width="0.4"/>
<circle cx="129.90" cy="235.06" r="1.15" fill="#0c0c0c" stroke="none" stroke-width="0.4"/>
<circle cx="124.86" cy="234.41" r="1.15" fill="#0c0c0c" stroke="none" stroke-width="0.4"/>
<circle cx="127.74" cy="234.57" r="1.15" fill="#0c0c0c" stroke="none" stroke-width="0.4"/>
<circle cx="122.70" cy="234.73" r="1.15" fill="#0c0c0c" stroke="none" stroke-width="0.4"/>
<circle cx="125.58" cy="234.90" r="1.15" fill="#0c0c0c" stroke="none" stroke-width="0.4"/>
<circle cx="128.46" cy="235.06" r="1.15" fill="#0c0c0c" stroke="none" stroke-width="0.4"/>
<circle cx="123.42" cy="235.14" r="1.15" fill="#0c0c0c" stroke="none" stroke-width="0.4"/>
<text x="127.80" y="243.00" font-size="5.6" text-anchor="end" fill="#1a1a1a" transform="rotate(-45 127.80 243.00)">CD3</text>
<text x="69.60" y="194.40" font-size="7.4" text-anchor="middle" fill="#1a1a1a" transform="rotate(-90 69.60 194.40)">% of living huCD45</text>
<line x1="163.70" y1="153.80" x2="163.70" y2="234.50" stroke="#1a1a1a" stroke-width="0.7"/>
<line x1="160.70" y1="234.20" x2="163.70" y2="234.20" stroke="#1a1a1a" stroke-width="0.7"/>
<text x="159.80" y="234.87" font-size="5.2" text-anchor="end" fill="#1a1a1a">10<tspan baseline-shift="2.184" font-size="3.3">0</tspan></text>
<line x1="161.90" y1="229.38" x2="163.70" y2="229.38" stroke="#1a1a1a" stroke-width="0.48999999999999994"/>
<line x1="161.90" y1="226.56" x2="163.70" y2="226.56" stroke="#1a1a1a" stroke-width="0.48999999999999994"/>
<line x1="161.90" y1="224.55" x2="163.70" y2="224.55" stroke="#1a1a1a" stroke-width="0.48999999999999994"/>
<line x1="161.90" y1="223.00" x2="163.70" y2="223.00" stroke="#1a1a1a" stroke-width="0.48999999999999994"/>
<line x1="161.90" y1="221.73" x2="163.70" y2="221.73" stroke="#1a1a1a" stroke-width="0.48999999999999994"/>
<line x1="161.90" y1="220.66" x2="163.70" y2="220.66" stroke="#1a1a1a" stroke-width="0.48999999999999994"/>
<line x1="161.90" y1="219.73" x2="163.70" y2="219.73" stroke="#1a1a1a" stroke-width="0.48999999999999994"/>
<line x1="161.90" y1="218.91" x2="163.70" y2="218.91" stroke="#1a1a1a" stroke-width="0.48999999999999994"/>
<line x1="160.70" y1="218.18" x2="163.70" y2="218.18" stroke="#1a1a1a" stroke-width="0.7"/>
<text x="159.80" y="218.85" font-size="5.2" text-anchor="end" fill="#1a1a1a">10<tspan baseline-shift="2.184" font-size="3.3">1</tspan></text>
<line x1="161.90" y1="213.36" x2="163.70" y2="213.36" stroke="#1a1a1a" stroke-width="0.48999999999999994"/>
<line x1="161.90" y1="210.54" x2="163.70" y2="210.54" stroke="#1a1a1a" stroke-width="0.48999999999999994"/>
<line x1="161.90" y1="208.53" x2="163.70" y2="208.53" stroke="#1a1a1a" stroke-width="0.48999999999999994"/>
<line x1="161.90" y1="206.98" x2="163.70" y2="206.98" stroke="#1a1a1a" stroke-width="0.48999999999999994"/>
<line x1="161.90" y1="205.71" x2="163.70" y2="205.71" stroke="#1a1a1a" stroke-width="0.48999999999999994"/>
<line x1="161.90" y1="204.64" x2="163.70" y2="204.64" stroke="#1a1a1a" stroke-width="0.48999999999999994"/>
<line x1="161.90" y1="203.71" x2="163.70" y2="203.71" stroke="#1a1a1a" stroke-width="0.48999999999999994"/>
<line x1="161.90" y1="202.89" x2="163.70" y2="202.89" stroke="#1a1a1a" stroke-width="0.48999999999999994"/>
<line x1="160.70" y1="202.16" x2="163.70" y2="202.16" stroke="#1a1a1a" stroke-width="0.7"/>
<text x="159.80" y="202.83" font-size="5.2" text-anchor="end" fill="#1a1a1a">10<tspan baseline-shift="2.184" font-size="3.3">2</tspan></text>
<line x1="161.90" y1="197.34" x2="163.70" y2="197.34" stroke="#1a1a1a" stroke-width="0.48999999999999994"/>
<line x1="161.90" y1="194.52" x2="163.70" y2="194.52" stroke="#1a1a1a" stroke-width="0.48999999999999994"/>
<line x1="161.90" y1="192.51" x2="163.70" y2="192.51" stroke="#1a1a1a" stroke-width="0.48999999999999994"/>
<line x1="161.90" y1="190.96" x2="163.70" y2="190.96" stroke="#1a1a1a" stroke-width="0.48999999999999994"/>
<line x1="161.90" y1="189.69" x2="163.70" y2="189.69" stroke="#1a1a1a" stroke-width="0.48999999999999994"/>
<line x1="161.90" y1="188.62" x2="163.70" y2="188.62" stroke="#1a1a1a" stroke-width="0.48999999999999994"/>
<line x1="161.90" y1="187.69" x2="163.70" y2="187.69" stroke="#1a1a1a" stroke-width="0.48999999999999994"/>
<line x1="161.90" y1="186.87" x2="163.70" y2="186.87" stroke="#1a1a1a" stroke-width="0.48999999999999994"/>
<line x1="160.70" y1="186.14" x2="163.70" y2="186.14" stroke="#1a1a1a" stroke-width="0.7"/>
<text x="159.80" y="186.81" font-size="5.2" text-anchor="end" fill="#1a1a1a">10<tspan baseline-shift="2.184" font-size="3.3">3</tspan></text>
<line x1="161.90" y1="181.32" x2="163.70" y2="181.32" stroke="#1a1a1a" stroke-width="0.48999999999999994"/>
<line x1="161.90" y1="178.50" x2="163.70" y2="178.50" stroke="#1a1a1a" stroke-width="0.48999999999999994"/>
<line x1="161.90" y1="176.49" x2="163.70" y2="176.49" stroke="#1a1a1a" stroke-width="0.48999999999999994"/>
<line x1="161.90" y1="174.94" x2="163.70" y2="174.94" stroke="#1a1a1a" stroke-width="0.48999999999999994"/>
<line x1="161.90" y1="173.67" x2="163.70" y2="173.67" stroke="#1a1a1a" stroke-width="0.48999999999999994"/>
<line x1="161.90" y1="172.60" x2="163.70" y2="172.60" stroke="#1a1a1a" stroke-width="0.48999999999999994"/>
<line x1="161.90" y1="171.67" x2="163.70" y2="171.67" stroke="#1a1a1a" stroke-width="0.48999999999999994"/>
<line x1="161.90" y1="170.85" x2="163.70" y2="170.85" stroke="#1a1a1a" stroke-width="0.48999999999999994"/>
<line x1="160.70" y1="170.12" x2="163.70" y2="170.12" stroke="#1a1a1a" stroke-width="0.7"/>
<text x="159.80" y="170.79" font-size="5.2" text-anchor="end" fill="#1a1a1a">10<tspan baseline-shift="2.184" font-size="3.3">4</tspan></text>
<line x1="161.90" y1="165.30" x2="163.70" y2="165.30" stroke="#1a1a1a" stroke-width="0.48999999999999994"/>
<line x1="161.90" y1="162.48" x2="163.70" y2="162.48" stroke="#1a1a1a" stroke-width="0.48999999999999994"/>
<line x1="161.90" y1="160.47" x2="163.70" y2="160.47" stroke="#1a1a1a" stroke-width="0.48999999999999994"/>
<line x1="161.90" y1="158.92" x2="163.70" y2="158.92" stroke="#1a1a1a" stroke-width="0.48999999999999994"/>
<line x1="161.90" y1="157.65" x2="163.70" y2="157.65" stroke="#1a1a1a" stroke-width="0.48999999999999994"/>
<line x1="161.90" y1="156.58" x2="163.70" y2="156.58" stroke="#1a1a1a" stroke-width="0.48999999999999994"/>
<line x1="161.90" y1="155.65" x2="163.70" y2="155.65" stroke="#1a1a1a" stroke-width="0.48999999999999994"/>
<line x1="161.90" y1="154.83" x2="163.70" y2="154.83" stroke="#1a1a1a" stroke-width="0.48999999999999994"/>
<line x1="160.70" y1="154.10" x2="163.70" y2="154.10" stroke="#1a1a1a" stroke-width="0.7"/>
<text x="159.80" y="154.77" font-size="5.2" text-anchor="end" fill="#1a1a1a">10<tspan baseline-shift="2.184" font-size="3.3">5</tspan></text>
<line x1="163.40" y1="234.20" x2="180.70" y2="234.20" stroke="#1a1a1a" stroke-width="0.7"/>
<line x1="172.20" y1="234.20" x2="172.20" y2="236.80" stroke="#1a1a1a" stroke-width="0.7"/>
<rect x="168.05" y="166.80" width="8.30" height="67.40" fill="#ebebeb" stroke="#333" stroke-width="0.5"/>
<circle cx="172.20" cy="160.40" r="1.5" fill="#2fb4d6" stroke="#174a5c" stroke-width="0.45"/>
<circle cx="170.60" cy="162.00" r="1.5" fill="#2fb4d6" stroke="#174a5c" stroke-width="0.45"/>
<circle cx="173.80" cy="161.60" r="1.5" fill="#2fb4d6" stroke="#174a5c" stroke-width="0.45"/>
<circle cx="169.80" cy="164.40" r="1.5" fill="#2fb4d6" stroke="#174a5c" stroke-width="0.45"/>
<circle cx="172.40" cy="163.60" r="1.5" fill="#2fb4d6" stroke="#174a5c" stroke-width="0.45"/>
<circle cx="174.60" cy="164.20" r="1.5" fill="#2fb4d6" stroke="#174a5c" stroke-width="0.45"/>
<circle cx="170.80" cy="166.60" r="1.5" fill="#2fb4d6" stroke="#174a5c" stroke-width="0.45"/>
<circle cx="173.40" cy="166.20" r="1.5" fill="#2fb4d6" stroke="#174a5c" stroke-width="0.45"/>
<circle cx="170.00" cy="168.40" r="1.5" fill="#2fb4d6" stroke="#174a5c" stroke-width="0.45"/>
<circle cx="172.40" cy="168.00" r="1.5" fill="#2fb4d6" stroke="#174a5c" stroke-width="0.45"/>
<circle cx="174.60" cy="168.60" r="1.5" fill="#2fb4d6" stroke="#174a5c" stroke-width="0.45"/>
<circle cx="171.40" cy="170.20" r="1.5" fill="#2fb4d6" stroke="#174a5c" stroke-width="0.45"/>
<circle cx="173.40" cy="170.80" r="1.5" fill="#2fb4d6" stroke="#174a5c" stroke-width="0.45"/>
<text x="174.20" y="242.80" font-size="6.0" text-anchor="end" fill="#1a1a1a" transform="rotate(-45 174.20 242.80)">huCD45</text>
<text x="150.40" y="192.40" font-size="7.0" text-anchor="middle" fill="#1a1a1a" transform="rotate(-90 150.40 192.40)">abs.count [100</text>
<line x1="189.30" y1="153.80" x2="189.30" y2="234.50" stroke="#1a1a1a" stroke-width="0.7"/>
<line x1="186.30" y1="234.20" x2="189.30" y2="234.20" stroke="#1a1a1a" stroke-width="0.7"/>
<line x1="187.50" y1="229.38" x2="189.30" y2="229.38" stroke="#1a1a1a" stroke-width="0.48999999999999994"/>
<line x1="187.50" y1="226.56" x2="189.30" y2="226.56" stroke="#1a1a1a" stroke-width="0.48999999999999994"/>
<line x1="187.50" y1="224.55" x2="189.30" y2="224.55" stroke="#1a1a1a" stroke-width="0.48999999999999994"/>
<line x1="187.50" y1="223.00" x2="189.30" y2="223.00" stroke="#1a1a1a" stroke-width="0.48999999999999994"/>
<line x1="187.50" y1="221.73" x2="189.30" y2="221.73" stroke="#1a1a1a" stroke-width="0.48999999999999994"/>
<line x1="187.50" y1="220.66" x2="189.30" y2="220.66" stroke="#1a1a1a" stroke-width="0.48999999999999994"/>
<line x1="187.50" y1="219.73" x2="189.30" y2="219.73" stroke="#1a1a1a" stroke-width="0.48999999999999994"/>
<line x1="187.50" y1="218.91" x2="189.30" y2="218.91" stroke="#1a1a1a" stroke-width="0.48999999999999994"/>
<line x1="186.30" y1="218.18" x2="189.30" y2="218.18" stroke="#1a1a1a" stroke-width="0.7"/>
<line x1="187.50" y1="213.36" x2="189.30" y2="213.36" stroke="#1a1a1a" stroke-width="0.48999999999999994"/>
<line x1="187.50" y1="210.54" x2="189.30" y2="210.54" stroke="#1a1a1a" stroke-width="0.48999999999999994"/>
<line x1="187.50" y1="208.53" x2="189.30" y2="208.53" stroke="#1a1a1a" stroke-width="0.48999999999999994"/>
<line x1="187.50" y1="206.98" x2="189.30" y2="206.98" stroke="#1a1a1a" stroke-width="0.48999999999999994"/>
<line x1="187.50" y1="205.71" x2="189.30" y2="205.71" stroke="#1a1a1a" stroke-width="0.48999999999999994"/>
<line x1="187.50" y1="204.64" x2="189.30" y2="204.64" stroke="#1a1a1a" stroke-width="0.48999999999999994"/>
<line x1="187.50" y1="203.71" x2="189.30" y2="203.71" stroke="#1a1a1a" stroke-width="0.48999999999999994"/>
<line x1="187.50" y1="202.89" x2="189.30" y2="202.89" stroke="#1a1a1a" stroke-width="0.48999999999999994"/>
<line x1="186.30" y1="202.16" x2="189.30" y2="202.16" stroke="#1a1a1a" stroke-width="0.7"/>
<line x1="187.50" y1="197.34" x2="189.30" y2="197.34" stroke="#1a1a1a" stroke-width="0.48999999999999994"/>
<line x1="187.50" y1="194.52" x2="189.30" y2="194.52" stroke="#1a1a1a" stroke-width="0.48999999999999994"/>
<line x1="187.50" y1="192.51" x2="189.30" y2="192.51" stroke="#1a1a1a" stroke-width="0.48999999999999994"/>
<line x1="187.50" y1="190.96" x2="189.30" y2="190.96" stroke="#1a1a1a" stroke-width="0.48999999999999994"/>
<line x1="187.50" y1="189.69" x2="189.30" y2="189.69" stroke="#1a1a1a" stroke-width="0.48999999999999994"/>
<line x1="187.50" y1="188.62" x2="189.30" y2="188.62" stroke="#1a1a1a" stroke-width="0.48999999999999994"/>
<line x1="187.50" y1="187.69" x2="189.30" y2="187.69" stroke="#1a1a1a" stroke-width="0.48999999999999994"/>
<line x1="187.50" y1="186.87" x2="189.30" y2="186.87" stroke="#1a1a1a" stroke-width="0.48999999999999994"/>
<line x1="186.30" y1="186.14" x2="189.30" y2="186.14" stroke="#1a1a1a" stroke-width="0.7"/>
<line x1="187.50" y1="181.32" x2="189.30" y2="181.32" stroke="#1a1a1a" stroke-width="0.48999999999999994"/>
<line x1="187.50" y1="178.50" x2="189.30" y2="178.50" stroke="#1a1a1a" stroke-width="0.48999999999999994"/>
<line x1="187.50" y1="176.49" x2="189.30" y2="176.49" stroke="#1a1a1a" stroke-width="0.48999999999999994"/>
<line x1="187.50" y1="174.94" x2="189.30" y2="174.94" stroke="#1a1a1a" stroke-width="0.48999999999999994"/>
<line x1="187.50" y1="173.67" x2="189.30" y2="173.67" stroke="#1a1a1a" stroke-width="0.48999999999999994"/>
<line x1="187.50" y1="172.60" x2="189.30" y2="172.60" stroke="#1a1a1a" stroke-width="0.48999999999999994"/>
<line x1="187.50" y1="171.67" x2="189.30" y2="171.67" stroke="#1a1a1a" stroke-width="0.48999999999999994"/>
<line x1="187.50" y1="170.85" x2="189.30" y2="170.85" stroke="#1a1a1a" stroke-width="0.48999999999999994"/>
<line x1="186.30" y1="170.12" x2="189.30" y2="170.12" stroke="#1a1a1a" stroke-width="0.7"/>
<line x1="187.50" y1="165.30" x2="189.30" y2="165.30" stroke="#1a1a1a" stroke-width="0.48999999999999994"/>
<line x1="187.50" y1="162.48" x2="189.30" y2="162.48" stroke="#1a1a1a" stroke-width="0.48999999999999994"/>
<line x1="187.50" y1="160.47" x2="189.30" y2="160.47" stroke="#1a1a1a" stroke-width="0.48999999999999994"/>
<line x1="187.50" y1="158.92" x2="189.30" y2="158.92" stroke="#1a1a1a" stroke-width="0.48999999999999994"/>
<line x1="187.50" y1="157.65" x2="189.30" y2="157.65" stroke="#1a1a1a" stroke-width="0.48999999999999994"/>
<line x1="187.50" y1="156.58" x2="189.30" y2="156.58" stroke="#1a1a1a" stroke-width="0.48999999999999994"/>
<line x1="187.50" y1="155.65" x2="189.30" y2="155.65" stroke="#1a1a1a" stroke-width="0.48999999999999994"/>
<line x1="187.50" y1="154.83" x2="189.30" y2="154.83" stroke="#1a1a1a" stroke-width="0.48999999999999994"/>
<line x1="186.30" y1="154.10" x2="189.30" y2="154.10" stroke="#1a1a1a" stroke-width="0.7"/>
<line x1="189.00" y1="234.20" x2="241.40" y2="234.20" stroke="#1a1a1a" stroke-width="0.7"/>
<rect x="192.45" y="174.00" width="7.90" height="60.20" fill="#ebebeb" stroke="#333" stroke-width="0.5"/>
<line x1="196.40" y1="234.20" x2="196.40" y2="236.80" stroke="#1a1a1a" stroke-width="0.7"/>
<circle cx="193.30" cy="169.40" r="1.15" fill="#0c0c0c" stroke="none" stroke-width="0.4"/>
<circle cx="195.78" cy="170.10" r="1.15" fill="#0c0c0c" stroke="none" stroke-width="0.4"/>
<circle cx="198.26" cy="170.80" r="1.15" fill="#0c0c0c" stroke="none" stroke-width="0.4"/>
<circle cx="193.92" cy="171.50" r="1.15" fill="#0c0c0c" stroke="none" stroke-width="0.4"/>
<circle cx="196.40" cy="172.20" r="1.15" fill="#0c0c0c" stroke="none" stroke-width="0.4"/>
<circle cx="198.88" cy="172.90" r="1.15" fill="#0c0c0c" stroke="none" stroke-width="0.4"/>
<circle cx="194.54" cy="173.60" r="1.15" fill="#0c0c0c" stroke="none" stroke-width="0.4"/>
<circle cx="197.02" cy="174.30" r="1.15" fill="#0c0c0c" stroke="none" stroke-width="0.4"/>
<circle cx="199.50" cy="175.00" r="1.15" fill="#0c0c0c" stroke="none" stroke-width="0.4"/>
<circle cx="195.16" cy="175.70" r="1.15" fill="#0c0c0c" stroke="none" stroke-width="0.4"/>
<circle cx="197.64" cy="176.40" r="1.15" fill="#0c0c0c" stroke="none" stroke-width="0.4"/>
<circle cx="193.30" cy="177.10" r="1.15" fill="#0c0c0c" stroke="none" stroke-width="0.4"/>
<circle cx="195.78" cy="177.80" r="1.15" fill="#0c0c0c" stroke="none" stroke-width="0.4"/>
<circle cx="198.26" cy="169.40" r="1.15" fill="#0c0c0c" stroke="none" stroke-width="0.4"/>
<text x="198.80" y="242.00" font-size="5.6" text-anchor="end" fill="#1a1a1a" transform="rotate(-45 198.80 242.00)">CD19</text>
<rect x="201.65" y="177.00" width="7.90" height="57.20" fill="#ebebeb" stroke="#333" stroke-width="0.5"/>
<line x1="205.60" y1="234.20" x2="205.60" y2="236.80" stroke="#1a1a1a" stroke-width="0.7"/>
<circle cx="202.50" cy="173.00" r="1.15" fill="#0c0c0c" stroke="none" stroke-width="0.4"/>
<circle cx="204.98" cy="173.60" r="1.15" fill="#0c0c0c" stroke="none" stroke-width="0.4"/>
<circle cx="207.46" cy="174.20" r="1.15" fill="#0c0c0c" stroke="none" stroke-width="0.4"/>
<circle cx="203.12" cy="174.80" r="1.15" fill="#0c0c0c" stroke="none" stroke-width="0.4"/>
<circle cx="205.60" cy="175.40" r="1.15" fill="#0c0c0c" stroke="none" stroke-width="0.4"/>
<circle cx="208.08" cy="176.00" r="1.15" fill="#0c0c0c" stroke="none" stroke-width="0.4"/>
<circle cx="203.74" cy="176.60" r="1.15" fill="#0c0c0c" stroke="none" stroke-width="0.4"/>
<circle cx="206.22" cy="177.20" r="1.15" fill="#0c0c0c" stroke="none" stroke-width="0.4"/>
<circle cx="208.70" cy="177.80" r="1.15" fill="#0c0c0c" stroke="none" stroke-width="0.4"/>
<circle cx="204.36" cy="178.40" r="1.15" fill="#0c0c0c" stroke="none" stroke-width="0.4"/>
<circle cx="206.84" cy="179.00" r="1.15" fill="#0c0c0c" stroke="none" stroke-width="0.4"/>
<circle cx="202.50" cy="179.60" r="1.15" fill="#0c0c0c" stroke="none" stroke-width="0.4"/>
<circle cx="204.98" cy="180.20" r="1.15" fill="#0c0c0c" stroke="none" stroke-width="0.4"/>
<circle cx="207.46" cy="173.00" r="1.15" fill="#0c0c0c" stroke="none" stroke-width="0.4"/>
<text x="208.00" y="242.00" font-size="5.6" text-anchor="end" fill="#1a1a1a" transform="rotate(-45 208.00 242.00)">CD33</text>
<rect x="210.85" y="178.60" width="7.90" height="55.60" fill="#ebebeb" stroke="#333" stroke-width="0.5"/>
<line x1="214.80" y1="234.20" x2="214.80" y2="236.80" stroke="#1a1a1a" stroke-width="0.7"/>
<circle cx="211.70" cy="174.60" r="1.15" fill="#0c0c0c" stroke="none" stroke-width="0.4"/>
<circle cx="214.18" cy="175.20" r="1.15" fill="#0c0c0c" stroke="none" stroke-width="0.4"/>
<circle cx="216.66" cy="175.80" r="1.15" fill="#0c0c0c" stroke="none" stroke-width="0.4"/>
<circle cx="212.32" cy="176.40" r="1.15" fill="#0c0c0c" stroke="none" stroke-width="0.4"/>
<circle cx="214.80" cy="177.00" r="1.15" fill="#0c0c0c" stroke="none" stroke-width="0.4"/>
<circle cx="217.28" cy="177.60" r="1.15" fill="#0c0c0c" stroke="none" stroke-width="0.4"/>
<circle cx="212.94" cy="178.20" r="1.15" fill="#0c0c0c" stroke="none" stroke-width="0.4"/>
<circle cx="215.42" cy="178.80" r="1.15" fill="#0c0c0c" stroke="none" stroke-width="0.4"/>
<circle cx="217.90" cy="179.40" r="1.15" fill="#0c0c0c" stroke="none" stroke-width="0.4"/>
<circle cx="213.56" cy="180.00" r="1.15" fill="#0c0c0c" stroke="none" stroke-width="0.4"/>
<circle cx="216.04" cy="180.60" r="1.15" fill="#0c0c0c" stroke="none" stroke-width="0.4"/>
<circle cx="211.70" cy="181.20" r="1.15" fill="#0c0c0c" stroke="none" stroke-width="0.4"/>
<circle cx="214.18" cy="181.80" r="1.15" fill="#0c0c0c" stroke="none" stroke-width="0.4"/>
<circle cx="216.66" cy="174.60" r="1.15" fill="#0c0c0c" stroke="none" stroke-width="0.4"/>
<text x="217.20" y="242.00" font-size="5.6" text-anchor="end" fill="#1a1a1a" transform="rotate(-45 217.20 242.00)">CD14</text>
<rect x="220.45" y="192.30" width="7.90" height="41.90" fill="#ebebeb" stroke="#333" stroke-width="0.5"/>
<line x1="224.40" y1="234.20" x2="224.40" y2="236.80" stroke="#1a1a1a" stroke-width="0.7"/>
<circle cx="225.00" cy="201.70" r="1.15" fill="#0c0c0c" stroke="none" stroke-width="0.4"/>
<circle cx="223.78" cy="188.13" r="1.15" fill="#0c0c0c" stroke="none" stroke-width="0.4"/>
<circle cx="226.26" cy="188.97" r="1.15" fill="#0c0c0c" stroke="none" stroke-width="0.4"/>
<circle cx="221.92" cy="189.80" r="1.15" fill="#0c0c0c" stroke="none" stroke-width="0.4"/>
<circle cx="224.40" cy="190.63" r="1.15" fill="#0c0c0c" stroke="none" stroke-width="0.4"/>
<circle cx="226.88" cy="191.47" r="1.15" fill="#0c0c0c" stroke="none" stroke-width="0.4"/>
<circle cx="222.54" cy="192.30" r="1.15" fill="#0c0c0c" stroke="none" stroke-width="0.4"/>
<circle cx="225.02" cy="193.13" r="1.15" fill="#0c0c0c" stroke="none" stroke-width="0.4"/>
<circle cx="227.50" cy="193.97" r="1.15" fill="#0c0c0c" stroke="none" stroke-width="0.4"/>
<circle cx="223.16" cy="194.80" r="1.15" fill="#0c0c0c" stroke="none" stroke-width="0.4"/>
<circle cx="225.64" cy="195.63" r="1.15" fill="#0c0c0c" stroke="none" stroke-width="0.4"/>
<circle cx="221.30" cy="196.47" r="1.15" fill="#0c0c0c" stroke="none" stroke-width="0.4"/>
<circle cx="223.78" cy="197.30" r="1.15" fill="#0c0c0c" stroke="none" stroke-width="0.4"/>
<circle cx="226.26" cy="187.30" r="1.15" fill="#0c0c0c" stroke="none" stroke-width="0.4"/>
<text x="226.80" y="242.00" font-size="5.6" text-anchor="end" fill="#1a1a1a" transform="rotate(-45 226.80 242.00)">CD56</text>
<rect x="229.85" y="219.30" width="7.90" height="14.90" fill="#ebebeb" stroke="#333" stroke-width="0.5"/>
<line x1="233.80" y1="234.20" x2="233.80" y2="236.80" stroke="#1a1a1a" stroke-width="0.7"/>
<circle cx="232.60" cy="213.30" r="1.15" fill="#0c0c0c" stroke="none" stroke-width="0.4"/>
<circle cx="235.60" cy="213.90" r="1.15" fill="#0c0c0c" stroke="none" stroke-width="0.4"/>
<circle cx="233.20" cy="216.30" r="1.15" fill="#0c0c0c" stroke="none" stroke-width="0.4"/>
<circle cx="235.00" cy="216.50" r="1.15" fill="#0c0c0c" stroke="none" stroke-width="0.4"/>
<circle cx="232.80" cy="219.50" r="1.15" fill="#0c0c0c" stroke="none" stroke-width="0.4"/>
<circle cx="234.60" cy="219.90" r="1.15" fill="#0c0c0c" stroke="none" stroke-width="0.4"/>
<circle cx="232.40" cy="223.30" r="1.15" fill="#0c0c0c" stroke="none" stroke-width="0.4"/>
<circle cx="233.80" cy="223.70" r="1.15" fill="#0c0c0c" stroke="none" stroke-width="0.4"/>
<circle cx="235.20" cy="223.50" r="1.15" fill="#0c0c0c" stroke="none" stroke-width="0.4"/>
<circle cx="232.40" cy="233.30" r="1.15" fill="#0c0c0c" stroke="none" stroke-width="0.4"/>
<circle cx="233.80" cy="233.50" r="1.15" fill="#0c0c0c" stroke="none" stroke-width="0.4"/>
<circle cx="235.20" cy="233.30" r="1.15" fill="#0c0c0c" stroke="none" stroke-width="0.4"/>
<circle cx="231.60" cy="216.50" r="1.15" fill="#0c0c0c" stroke="none" stroke-width="0.4"/>
<circle cx="236.00" cy="219.70" r="1.15" fill="#0c0c0c" stroke="none" stroke-width="0.4"/>
<line x1="233.80" y1="214.60" x2="233.80" y2="224.60" stroke="#111" stroke-width="0.5"/>
<line x1="232.00" y1="214.60" x2="235.60" y2="214.60" stroke="#111" stroke-width="0.5"/>
<line x1="232.00" y1="224.60" x2="235.60" y2="224.60" stroke="#111" stroke-width="0.5"/>
<text x="236.20" y="242.00" font-size="5.6" text-anchor="end" fill="#1a1a1a" transform="rotate(-45 236.20 242.00)">CD3</text>
<line x1="287.30" y1="139.90" x2="287.30" y2="235.10" stroke="#1a1a1a" stroke-width="0.8"/>
<line x1="283.70" y1="234.80" x2="287.30" y2="234.80" stroke="#1a1a1a" stroke-width="0.8"/>
<text x="283.40" y="236.42" font-size="7" text-anchor="end" fill="#1a1a1a">0</text>
<line x1="283.70" y1="215.88" x2="287.30" y2="215.88" stroke="#1a1a1a" stroke-width="0.8"/>
<text x="283.40" y="217.50" font-size="7" text-anchor="end" fill="#1a1a1a">20</text>
<line x1="283.70" y1="196.96" x2="287.30" y2="196.96" stroke="#1a1a1a" stroke-width="0.8"/>
<text x="283.40" y="198.58" font-size="7" text-anchor="end" fill="#1a1a1a">40</text>
<line x1="283.70" y1="178.04" x2="287.30" y2="178.04" stroke="#1a1a1a" stroke-width="0.8"/>
<text x="283.40" y="179.66" font-size="7" text-anchor="end" fill="#1a1a1a">60</text>
<line x1="283.70" y1="159.12" x2="287.30" y2="159.12" stroke="#1a1a1a" stroke-width="0.8"/>
<text x="283.40" y="160.74" font-size="7" text-anchor="end" fill="#1a1a1a">80</text>
<line x1="283.70" y1="140.20" x2="287.30" y2="140.20" stroke="#1a1a1a" stroke-width="0.8"/>
<text x="283.40" y="141.82" font-size="7" text-anchor="end" fill="#1a1a1a">100</text>
<line x1="287.00" y1="234.80" x2="315.50" y2="234.80" stroke="#1a1a1a" stroke-width="0.8"/>
<rect x="291.75" y="185.20" width="6.50" height="49.60" fill="#1d6396" stroke="#111" stroke-width="0.7"/>
<rect x="302.95" y="185.70" width="6.50" height="49.10" fill="#b2d6f1" stroke="#111" stroke-width="0.7"/>
<text x="269.80" y="186.60" font-size="7.2" text-anchor="middle" fill="#1a1a1a" transform="rotate(-90 269.80 186.60)">% EGFRt<tspan baseline-shift="3.0" font-size="6.4">+</tspan>/STII<tspan baseline-shift="3.0" font-size="6.4">+</tspan></text>
<line x1="343.70" y1="139.50" x2="343.70" y2="235.10" stroke="#1a1a1a" stroke-width="0.8"/>
<line x1="340.30" y1="234.80" x2="343.70" y2="234.80" stroke="#1a1a1a" stroke-width="0.8"/>
<text x="339.80" y="235.59" font-size="7.2" text-anchor="end" fill="#1a1a1a">10<tspan baseline-shift="3.024" font-size="4.6">2</tspan></text>
<line x1="341.66" y1="225.27" x2="343.70" y2="225.27" stroke="#1a1a1a" stroke-width="0.5599999999999999"/>
<line x1="341.66" y1="219.69" x2="343.70" y2="219.69" stroke="#1a1a1a" stroke-width="0.5599999999999999"/>
<line x1="341.66" y1="215.73" x2="343.70" y2="215.73" stroke="#1a1a1a" stroke-width="0.5599999999999999"/>
<line x1="341.66" y1="212.67" x2="343.70" y2="212.67" stroke="#1a1a1a" stroke-width="0.5599999999999999"/>
<line x1="341.66" y1="210.16" x2="343.70" y2="210.16" stroke="#1a1a1a" stroke-width="0.5599999999999999"/>
<line x1="341.66" y1="208.04" x2="343.70" y2="208.04" stroke="#1a1a1a" stroke-width="0.5599999999999999"/>
<line x1="341.66" y1="206.20" x2="343.70" y2="206.20" stroke="#1a1a1a" stroke-width="0.5599999999999999"/>
<line x1="341.66" y1="204.58" x2="343.70" y2="204.58" stroke="#1a1a1a" stroke-width="0.5599999999999999"/>
<line x1="340.30" y1="203.13" x2="343.70" y2="203.13" stroke="#1a1a1a" stroke-width="0.8"/>
<text x="339.80" y="203.93" font-size="7.2" text-anchor="end" fill="#1a1a1a">10<tspan baseline-shift="3.024" font-size="4.6">3</tspan></text>
<line x1="341.66" y1="193.60" x2="343.70" y2="193.60" stroke="#1a1a1a" stroke-width="0.5599999999999999"/>
<line x1="341.66" y1="188.02" x2="343.70" y2="188.02" stroke="#1a1a1a" stroke-width="0.5599999999999999"/>
<line x1="341.66" y1="184.07" x2="343.70" y2="184.07" stroke="#1a1a1a" stroke-width="0.5599999999999999"/>
<line x1="341.66" y1="181.00" x2="343.70" y2="181.00" stroke="#1a1a1a" stroke-width="0.5599999999999999"/>
<line x1="341.66" y1="178.49" x2="343.70" y2="178.49" stroke="#1a1a1a" stroke-width="0.5599999999999999"/>
<line x1="341.66" y1="176.37" x2="343.70" y2="176.37" stroke="#1a1a1a" stroke-width="0.5599999999999999"/>
<line x1="341.66" y1="174.54" x2="343.70" y2="174.54" stroke="#1a1a1a" stroke-width="0.5599999999999999"/>
<line x1="341.66" y1="172.92" x2="343.70" y2="172.92" stroke="#1a1a1a" stroke-width="0.5599999999999999"/>
<line x1="340.30" y1="171.47" x2="343.70" y2="171.47" stroke="#1a1a1a" stroke-width="0.8"/>
<text x="339.80" y="172.26" font-size="7.2" text-anchor="end" fill="#1a1a1a">10<tspan baseline-shift="3.024" font-size="4.6">4</tspan></text>
<line x1="341.66" y1="161.93" x2="343.70" y2="161.93" stroke="#1a1a1a" stroke-width="0.5599999999999999"/>
<line x1="341.66" y1="156.36" x2="343.70" y2="156.36" stroke="#1a1a1a" stroke-width="0.5599999999999999"/>
<line x1="341.66" y1="152.40" x2="343.70" y2="152.40" stroke="#1a1a1a" stroke-width="0.5599999999999999"/>
<line x1="341.66" y1="149.33" x2="343.70" y2="149.33" stroke="#1a1a1a" stroke-width="0.5599999999999999"/>
<line x1="341.66" y1="146.83" x2="343.70" y2="146.83" stroke="#1a1a1a" stroke-width="0.5599999999999999"/>
<line x1="341.66" y1="144.71" x2="343.70" y2="144.71" stroke="#1a1a1a" stroke-width="0.5599999999999999"/>
<line x1="341.66" y1="142.87" x2="343.70" y2="142.87" stroke="#1a1a1a" stroke-width="0.5599999999999999"/>
<line x1="341.66" y1="141.25" x2="343.70" y2="141.25" stroke="#1a1a1a" stroke-width="0.5599999999999999"/>
<line x1="340.30" y1="139.80" x2="343.70" y2="139.80" stroke="#1a1a1a" stroke-width="0.8"/>
<text x="339.80" y="140.59" font-size="7.2" text-anchor="end" fill="#1a1a1a">10<tspan baseline-shift="3.024" font-size="4.6">5</tspan></text>
<line x1="343.40" y1="234.80" x2="373.10" y2="234.80" stroke="#1a1a1a" stroke-width="0.8"/>
<rect x="347.95" y="167.20" width="6.50" height="67.60" fill="#1d6396" stroke="#111" stroke-width="0.7"/>
<rect x="359.15" y="164.20" width="6.50" height="70.60" fill="#b2d6f1" stroke="#111" stroke-width="0.7"/>
<text x="326.20" y="187.00" font-size="7.2" text-anchor="middle" fill="#1a1a1a" transform="rotate(-90 326.20 187.00)">MFI STII of EGFRt<tspan baseline-shift="3.0" font-size="6.4">+</tspan></text>
<rect x="394.30" y="167.50" width="59.70" height="61.30" fill="#fff" stroke="#8a8a8a" stroke-width="0.6"/>
<line x1="418.20" y1="167.50" x2="418.20" y2="228.80" stroke="#222" stroke-width="0.55"/>
<line x1="394.30" y1="199.40" x2="454.00" y2="199.40" stroke="#222" stroke-width="0.55"/>
<text x="423.30" y="162.80" font-size="11.2" text-anchor="middle" fill="#1f66a0" font-weight="bold">JCAR017</text>
<text x="395.40" y="177.40" font-size="7.0" text-anchor="start" fill="#111">3.50</text>
<text x="445.70" y="177.40" font-size="7.0" text-anchor="end" fill="#111">48.5</text>
<text x="394.80" y="224.00" font-size="7.0" text-anchor="start" fill="#111">46.3</text>
<text x="445.70" y="224.00" font-size="7.0" text-anchor="end" fill="#111">1.74</text>
<line x1="400.30" y1="227.00" x2="400.30" y2="228.80" stroke="#555" stroke-width="0.5"/>
<line x1="394.30" y1="222.80" x2="396.10" y2="222.80" stroke="#555" stroke-width="0.5"/>
<line x1="407.80" y1="227.00" x2="407.80" y2="228.80" stroke="#555" stroke-width="0.5"/>
<line x1="394.30" y1="215.30" x2="396.10" y2="215.30" stroke="#555" stroke-width="0.5"/>
<line x1="421.30" y1="227.00" x2="421.30" y2="228.80" stroke="#555" stroke-width="0.5"/>
<line x1="394.30" y1="201.80" x2="396.10" y2="201.80" stroke="#555" stroke-width="0.5"/>
<line x1="434.80" y1="227.00" x2="434.80" y2="228.80" stroke="#555" stroke-width="0.5"/>
<line x1="394.30" y1="188.30" x2="396.10" y2="188.30" stroke="#555" stroke-width="0.5"/>
<line x1="447.30" y1="227.00" x2="447.30" y2="228.80" stroke="#555" stroke-width="0.5"/>
<line x1="394.30" y1="175.80" x2="396.10" y2="175.80" stroke="#555" stroke-width="0.5"/>
<rect x="393.70" y="219.90" width="1.40" height="3.20" fill="#222" stroke="none" stroke-width="0.6"/>
<g transform="translate(394.30,167.50)" filter="url(#bl2)">
<path d="M43.1,13.3 C40,12.4 35.5,13.8 32.5,16.1 C29.5,18.4 27.6,21.4 25.8,23.9 C24,26.4 22.4,28.4 20.8,30.1 C19,32 17.9,33.8 17.4,35.6 C16.2,39 14.6,42.4 14.1,45.7 C13.6,48.6 13.8,51.4 14.7,53.5 C15.4,55.4 16.4,56.3 17.4,56.3 C19,56.3 20.6,54.6 21.3,52.4 C22.2,49.6 22.8,46.4 23,43.4 C23.2,40.6 23.6,37.8 24.1,35.6 C24.3,34.2 24.5,32.8 24.9,31.7 C26,30.6 27.6,30.2 29.1,29.5 C32,28.2 34.6,26.8 36.9,25 C39.4,23 41.4,20.4 42.5,17.8 C43.4,15.8 44,13.8 43.1,13.3 Z" fill="#474747" stroke="#8e8e8e" stroke-width="1.3" stroke-linejoin="round"/>
<path d="M43.1,13.3 C40,12.4 35.5,13.8 32.5,16.1 C29.5,18.4 27.6,21.4 25.8,23.9 C24,26.4 22.4,28.4 20.8,30.1 C19,32 17.9,33.8 17.4,35.6 C16.2,39 14.6,42.4 14.1,45.7 C13.6,48.6 13.8,51.4 14.7,53.5 C15.4,55.4 16.4,56.3 17.4,56.3 C19,56.3 20.6,54.6 21.3,52.4 C22.2,49.6 22.8,46.4 23,43.4 C23.2,40.6 23.6,37.8 24.1,35.6 C24.3,34.2 24.5,32.8 24.9,31.7 C26,30.6 27.6,30.2 29.1,29.5 C32,28.2 34.6,26.8 36.9,25 C39.4,23 41.4,20.4 42.5,17.8 C43.4,15.8 44,13.8 43.1,13.3 Z" fill="none" stroke="#2c2c2c" stroke-width="0.5"/>
<path d="M28.4,26.6 C31.4,23.4 35.6,20 39.6,17.2" fill="none" stroke="#6e6e6e" stroke-width="2.6" stroke-linecap="round"/>
<path d="M29.6,25.6 C32.4,22.8 36,19.8 39.2,17.6" fill="none" stroke="#e2e2e2" stroke-width="1.1" stroke-linecap="round"/>
<path d="M19.6,38.6 C18.4,43 17.6,47.6 17.8,52" fill="none" stroke="#6e6e6e" stroke-width="2.4" stroke-linecap="round"/>
<path d="M19.2,40.4 C18.4,44 17.9,47.8 18,51.2" fill="none" stroke="#dcdcdc" stroke-width="0.9" stroke-linecap="round"/>
</g>
<rect x="461.10" y="167.50" width="59.70" height="61.30" fill="#fff" stroke="#8a8a8a" stroke-width="0.6"/>
<line x1="485.00" y1="167.50" x2="485.00" y2="228.80" stroke="#222" stroke-width="0.55"/>
<line x1="461.10" y1="199.40" x2="520.80" y2="199.40" stroke="#222" stroke-width="0.55"/>
<text x="490.10" y="162.80" font-size="11.2" text-anchor="middle" fill="#b4d8f2" font-weight="bold">JCAR021</text>
<text x="462.20" y="177.40" font-size="7.0" text-anchor="start" fill="#111">2.59</text>
<text x="512.50" y="177.40" font-size="7.0" text-anchor="end" fill="#111">49.1</text>
<text x="461.60" y="224.00" font-size="7.0" text-anchor="start" fill="#111">45.9</text>
<text x="512.50" y="224.00" font-size="7.0" text-anchor="end" fill="#111">2.39</text>
<line x1="467.10" y1="227.00" x2="467.10" y2="228.80" stroke="#555" stroke-width="0.5"/>
<line x1="461.10" y1="222.80" x2="462.90" y2="222.80" stroke="#555" stroke-width="0.5"/>
<line x1="474.60" y1="227.00" x2="474.60" y2="228.80" stroke="#555" stroke-width="0.5"/>
<line x1="461.10" y1="215.30" x2="462.90" y2="215.30" stroke="#555" stroke-width="0.5"/>
<line x1="488.10" y1="227.00" x2="488.10" y2="228.80" stroke="#555" stroke-width="0.5"/>
<line x1="461.10" y1="201.80" x2="462.90" y2="201.80" stroke="#555" stroke-width="0.5"/>
<line x1="501.60" y1="227.00" x2="501.60" y2="228.80" stroke="#555" stroke-width="0.5"/>
<line x1="461.10" y1="188.30" x2="462.90" y2="188.30" stroke="#555" stroke-width="0.5"/>
<line x1="514.10" y1="227.00" x2="514.10" y2="228.80" stroke="#555" stroke-width="0.5"/>
<line x1="461.10" y1="175.80" x2="462.90" y2="175.80" stroke="#555" stroke-width="0.5"/>
<rect x="460.50" y="219.90" width="1.40" height="3.20" fill="#222" stroke="none" stroke-width="0.6"/>
<g transform="translate(461.10,167.50)" filter="url(#bl2)">
<path d="M43.1,13.3 C40,12.4 35.5,13.8 32.5,16.1 C29.5,18.4 27.6,21.4 25.8,23.9 C24,26.4 22.4,28.4 20.8,30.1 C19,32 17.9,33.8 17.4,35.6 C16.2,39 14.6,42.4 14.1,45.7 C13.6,48.6 13.8,51.4 14.7,53.5 C15.4,55.4 16.4,56.3 17.4,56.3 C19,56.3 20.6,54.6 21.3,52.4 C22.2,49.6 22.8,46.4 23,43.4 C23.2,40.6 23.6,37.8 24.1,35.6 C24.3,34.2 24.5,32.8 24.9,31.7 C26,30.6 27.6,30.2 29.1,29.5 C32,28.2 34.6,26.8 36.9,25 C39.4,23 41.4,20.4 42.5,17.8 C43.4,15.8 44,13.8 43.1,13.3 Z" fill="#474747" stroke="#8e8e8e" stroke-width="1.3" stroke-linejoin="round"/>
<path d="M43.1,13.3 C40,12.4 35.5,13.8 32.5,16.1 C29.5,18.4 27.6,21.4 25.8,23.9 C24,26.4 22.4,28.4 20.8,30.1 C19,32 17.9,33.8 17.4,35.6 C16.2,39 14.6,42.4 14.1,45.7 C13.6,48.6 13.8,51.4 14.7,53.5 C15.4,55.4 16.4,56.3 17.4,56.3 C19,56.3 20.6,54.6 21.3,52.4 C22.2,49.6 22.8,46.4 23,43.4 C23.2,40.6 23.6,37.8 24.1,35.6 C24.3,34.2 24.5,32.8 24.9,31.7 C26,30.6 27.6,30.2 29.1,29.5 C32,28.2 34.6,26.8 36.9,25 C39.4,23 41.4,20.4 42.5,17.8 C43.4,15.8 44,13.8 43.1,13.3 Z" fill="none" stroke="#2c2c2c" stroke-width="0.5"/>
<path d="M28.4,26.6 C31.4,23.4 35.6,20 39.6,17.2" fill="none" stroke="#6e6e6e" stroke-width="2.6" stroke-linecap="round"/>
<path d="M29.6,25.6 C32.4,22.8 36,19.8 39.2,17.6" fill="none" stroke="#e2e2e2" stroke-width="1.1" stroke-linecap="round"/>
<path d="M19.6,38.6 C18.4,43 17.6,47.6 17.8,52" fill="none" stroke="#6e6e6e" stroke-width="2.4" stroke-linecap="round"/>
<path d="M19.2,40.4 C18.4,44 17.9,47.8 18,51.2" fill="none" stroke="#dcdcdc" stroke-width="0.9" stroke-linecap="round"/>
</g>
<rect x="527.80" y="167.50" width="59.70" height="61.30" fill="#fff" stroke="#8a8a8a" stroke-width="0.6"/>
<line x1="551.70" y1="167.50" x2="551.70" y2="228.80" stroke="#222" stroke-width="0.55"/>
<line x1="527.80" y1="199.40" x2="587.50" y2="199.40" stroke="#222" stroke-width="0.55"/>
<text x="556.80" y="162.80" font-size="11.2" text-anchor="middle" fill="#3d3d3d" font-weight="bold">mock</text>
<text x="528.10" y="177.40" font-size="7.0" text-anchor="start" fill="#111">0</text>
<text x="581.00" y="177.40" font-size="7.0" text-anchor="end" fill="#111">3.08E-3</text>
<text x="528.30" y="224.00" font-size="7.0" text-anchor="start" fill="#111">99.9</text>
<text x="579.20" y="224.00" font-size="7.0" text-anchor="end" fill="#111">0.14</text>
<line x1="533.80" y1="227.00" x2="533.80" y2="228.80" stroke="#555" stroke-width="0.5"/>
<line x1="527.80" y1="222.80" x2="529.60" y2="222.80" stroke="#555" stroke-width="0.5"/>
<line x1="541.30" y1="227.00" x2="541.30" y2="228.80" stroke="#555" stroke-width="0.5"/>
<line x1="527.80" y1="215.30" x2="529.60" y2="215.30" stroke="#555" stroke-width="0.5"/>
<line x1="554.80" y1="227.00" x2="554.80" y2="228.80" stroke="#555" stroke-width="0.5"/>
<line x1="527.80" y1="201.80" x2="529.60" y2="201.80" stroke="#555" stroke-width="0.5"/>
<line x1="568.30" y1="227.00" x2="568.30" y2="228.80" stroke="#555" stroke-width="0.5"/>
<line x1="527.80" y1="188.30" x2="529.60" y2="188.30" stroke="#555" stroke-width="0.5"/>
<line x1="580.80" y1="227.00" x2="580.80" y2="228.80" stroke="#555" stroke-width="0.5"/>
<line x1="527.80" y1="175.80" x2="529.60" y2="175.80" stroke="#555" stroke-width="0.5"/>
<rect x="527.20" y="219.90" width="1.40" height="3.20" fill="#222" stroke="none" stroke-width="0.6"/>
<g transform="rotate(-55 546.1 218.3)" filter="url(#bl2)">
<ellipse cx="546.1" cy="218.3" rx="5.6" ry="3.8" fill="#9a9a9a"/>
<ellipse cx="546.1" cy="218.3" rx="5.0" ry="3.3" fill="#555"/>
<ellipse cx="546.1" cy="218.3" rx="4.2" ry="2.7" fill="#3a3a3a"/>
<ellipse cx="546.1" cy="218.3" rx="2.4" ry="1.3" fill="#666"/>
<ellipse cx="546.1" cy="218.3" rx="1.2" ry="0.6" fill="#9a9a9a"/>
</g>
<line x1="389.60" y1="168.40" x2="389.60" y2="188.40" stroke="#111" stroke-width="1.3"/>
<text x="390.60" y="212.20" font-size="7.3" text-anchor="middle" fill="#444" transform="rotate(-90 390.60 212.20)">EGFRt_PE</text>
<text x="394.60" y="237.90" font-size="7.1" text-anchor="start" fill="#333">STII_eF450</text>
<line x1="437.80" y1="234.40" x2="587.60" y2="234.40" stroke="#111" stroke-width="1.3"/>
<text x="587.60" y="241.60" font-size="5.8" text-anchor="end" fill="#222">pregated on living lymphocytes</text>
<line x1="619.50" y1="146.60" x2="619.50" y2="240.00" stroke="#1a1a1a" stroke-width="0.8"/>
<line x1="616.10" y1="239.70" x2="619.50" y2="239.70" stroke="#1a1a1a" stroke-width="0.8"/>
<text x="615.40" y="239.82" font-size="7" text-anchor="end" fill="#1a1a1a">0</text>
<line x1="616.10" y1="221.14" x2="619.50" y2="221.14" stroke="#1a1a1a" stroke-width="0.8"/>
<text x="615.40" y="221.26" font-size="7" text-anchor="end" fill="#1a1a1a">20</text>
<line x1="616.10" y1="202.58" x2="619.50" y2="202.58" stroke="#1a1a1a" stroke-width="0.8"/>
<text x="615.40" y="202.70" font-size="7" text-anchor="end" fill="#1a1a1a">40</text>
<line x1="616.10" y1="184.02" x2="619.50" y2="184.02" stroke="#1a1a1a" stroke-width="0.8"/>
<text x="615.40" y="184.14" font-size="7" text-anchor="end" fill="#1a1a1a">60</text>
<line x1="616.10" y1="165.46" x2="619.50" y2="165.46" stroke="#1a1a1a" stroke-width="0.8"/>
<text x="615.40" y="165.58" font-size="7" text-anchor="end" fill="#1a1a1a">80</text>
<line x1="616.10" y1="146.90" x2="619.50" y2="146.90" stroke="#1a1a1a" stroke-width="0.8"/>
<text x="615.40" y="147.02" font-size="7" text-anchor="end" fill="#1a1a1a">100</text>
<line x1="619.20" y1="239.70" x2="651.40" y2="239.70" stroke="#1a1a1a" stroke-width="0.8"/>
<rect x="624.40" y="153.10" width="8.40" height="86.60" fill="#96969a" stroke="#111" stroke-width="0.7"/>
<rect x="624.40" y="146.90" width="8.40" height="6.20" fill="#fbb872" stroke="#111" stroke-width="0.7"/>
<rect x="638.40" y="151.30" width="8.40" height="88.40" fill="#96969a" stroke="#111" stroke-width="0.7"/>
<rect x="638.40" y="146.90" width="8.40" height="4.40" fill="#fbb872" stroke="#111" stroke-width="0.7"/>
<line x1="628.60" y1="239.70" x2="628.60" y2="242.70" stroke="#1a1a1a" stroke-width="0.8"/>
<line x1="642.60" y1="239.70" x2="642.60" y2="242.70" stroke="#1a1a1a" stroke-width="0.8"/>
<text x="633.20" y="247.40" font-size="7.4" text-anchor="end" fill="#2574b0" transform="rotate(-45 633.20 247.40)">JCAR017</text>
<text x="647.20" y="247.40" font-size="7.4" text-anchor="end" fill="#bcdcf5" transform="rotate(-45 647.20 247.40)">JCAR021</text>
<text x="603.40" y="191.60" font-size="7.2" text-anchor="middle" fill="#1a1a1a" transform="rotate(-90 603.40 191.60)">% of EGFRt<tspan baseline-shift="3.0" font-size="6.4">+</tspan></text>
<rect x="654.60" y="149.80" width="9.40" height="5.40" fill="#fbb872" stroke="#111" stroke-width="0.6"/>
<text x="666.40" y="155.20" font-size="6.8" text-anchor="start" fill="#1a1a1a">CD8<tspan baseline-shift="2.6" font-size="5.6">+</tspan></text>
<rect x="654.60" y="160.40" width="9.40" height="5.40" fill="#96969a" stroke="#111" stroke-width="0.6"/>
<text x="666.40" y="165.80" font-size="6.8" text-anchor="start" fill="#1a1a1a">CD8<tspan baseline-shift="2.8" font-size="6.5">-</tspan></text>
<line x1="32.30" y1="308.80" x2="32.30" y2="409.40" stroke="#555" stroke-width="0.9"/>
<line x1="29.40" y1="309.30" x2="32.30" y2="309.30" stroke="#333" stroke-width="0.8"/>
<text x="28.00" y="311.90" font-size="7.3" text-anchor="end" fill="#1a1a1a">5</text>
<line x1="29.40" y1="327.90" x2="32.30" y2="327.90" stroke="#333" stroke-width="0.8"/>
<text x="28.00" y="330.50" font-size="7.3" text-anchor="end" fill="#1a1a1a">0</text>
<line x1="29.40" y1="346.50" x2="32.30" y2="346.50" stroke="#333" stroke-width="0.8"/>
<text x="28.00" y="349.10" font-size="7.3" text-anchor="end" fill="#1a1a1a">-5</text>
<line x1="29.40" y1="365.10" x2="32.30" y2="365.10" stroke="#333" stroke-width="0.8"/>
<text x="28.00" y="367.70" font-size="7.3" text-anchor="end" fill="#1a1a1a">-10</text>
<line x1="29.40" y1="383.70" x2="32.30" y2="383.70" stroke="#333" stroke-width="0.8"/>
<text x="28.00" y="386.30" font-size="7.3" text-anchor="end" fill="#1a1a1a">-15</text>
<line x1="29.40" y1="402.30" x2="32.30" y2="402.30" stroke="#333" stroke-width="0.8"/>
<text x="28.00" y="404.90" font-size="7.3" text-anchor="end" fill="#1a1a1a">-20</text>
<line x1="32.30" y1="327.90" x2="136.60" y2="327.90" stroke="#444" stroke-width="1.0"/>
<line x1="67.00" y1="327.90" x2="67.00" y2="330.90" stroke="#333" stroke-width="0.8"/>
<text x="67.00" y="338.10" font-size="7.3" text-anchor="middle" fill="#1a1a1a">2</text>
<line x1="101.70" y1="327.90" x2="101.70" y2="330.90" stroke="#333" stroke-width="0.8"/>
<text x="101.70" y="338.10" font-size="7.3" text-anchor="middle" fill="#1a1a1a">4</text>
<line x1="136.40" y1="327.90" x2="136.40" y2="330.90" stroke="#333" stroke-width="0.8"/>
<text x="136.40" y="338.10" font-size="7.3" text-anchor="middle" fill="#1a1a1a">6</text>
<line x1="49.65" y1="327.90" x2="49.65" y2="329.90" stroke="#444" stroke-width="0.7"/>
<line x1="84.35" y1="327.90" x2="84.35" y2="329.90" stroke="#444" stroke-width="0.7"/>
<line x1="119.05" y1="327.90" x2="119.05" y2="329.90" stroke="#444" stroke-width="0.7"/>
<line x1="32.6" y1="402.30" x2="135" y2="402.30" stroke="#111" stroke-width="1.1" stroke-dasharray="1.1 1.3"/>
<text x="85.20" y="413.20" font-size="8.1" text-anchor="middle" fill="#1a1a1a">days after CAR-T [d]</text>
<text x="14.40" y="355.60" font-size="8.1" text-anchor="middle" fill="#1a1a1a" transform="rotate(-90 14.40 355.60)">% weight reduction</text>
<line x1="32.30" y1="327.90" x2="119.05" y2="327.90" stroke="#4d4d4d" stroke-width="1.5"/>
<line x1="49.65" y1="321.58" x2="49.65" y2="327.90" stroke="#4d4d4d" stroke-width="1.0"/>
<line x1="47.45" y1="321.58" x2="51.85" y2="321.58" stroke="#4d4d4d" stroke-width="1.0"/>
<circle cx="49.65" cy="327.90" r="1.3" fill="#4d4d4d" stroke="none" stroke-width="0.4"/>
<line x1="67.00" y1="315.62" x2="67.00" y2="327.90" stroke="#4d4d4d" stroke-width="1.0"/>
<line x1="64.80" y1="315.62" x2="69.20" y2="315.62" stroke="#4d4d4d" stroke-width="1.0"/>
<circle cx="67.00" cy="327.90" r="1.3" fill="#4d4d4d" stroke="none" stroke-width="0.4"/>
<line x1="84.35" y1="313.76" x2="84.35" y2="327.90" stroke="#4d4d4d" stroke-width="1.0"/>
<line x1="82.15" y1="313.76" x2="86.55" y2="313.76" stroke="#4d4d4d" stroke-width="1.0"/>
<circle cx="84.35" cy="327.90" r="1.3" fill="#4d4d4d" stroke="none" stroke-width="0.4"/>
<line x1="101.70" y1="316.00" x2="101.70" y2="327.90" stroke="#4d4d4d" stroke-width="1.0"/>
<line x1="99.50" y1="316.00" x2="103.90" y2="316.00" stroke="#4d4d4d" stroke-width="1.0"/>
<circle cx="101.70" cy="327.90" r="1.3" fill="#4d4d4d" stroke="none" stroke-width="0.4"/>
<line x1="119.05" y1="310.42" x2="119.05" y2="327.90" stroke="#4d4d4d" stroke-width="1.0"/>
<line x1="116.85" y1="310.42" x2="121.25" y2="310.42" stroke="#4d4d4d" stroke-width="1.0"/>
<circle cx="119.05" cy="327.90" r="1.3" fill="#4d4d4d" stroke="none" stroke-width="0.4"/>
<polyline points="32.30,327.90 49.65,344.64 67.00,375.14 84.35,373.28 101.70,371.80 119.05,365.84" fill="none" stroke="#a9d3f0" stroke-width="1.5" stroke-linejoin="round" stroke-dasharray="4.5 2.2"/>
<line x1="49.65" y1="332.36" x2="49.65" y2="344.64" stroke="#a9d3f0" stroke-width="1.0"/>
<line x1="47.65" y1="332.36" x2="51.65" y2="332.36" stroke="#a9d3f0" stroke-width="1.0"/>
<circle cx="49.65" cy="344.64" r="1.3" fill="#a9d3f0" stroke="none" stroke-width="0.4"/>
<line x1="67.00" y1="371.42" x2="67.00" y2="375.14" stroke="#a9d3f0" stroke-width="1.0"/>
<line x1="65.00" y1="371.42" x2="69.00" y2="371.42" stroke="#a9d3f0" stroke-width="1.0"/>
<circle cx="67.00" cy="375.14" r="1.3" fill="#a9d3f0" stroke="none" stroke-width="0.4"/>
<line x1="84.35" y1="362.12" x2="84.35" y2="373.28" stroke="#a9d3f0" stroke-width="1.0"/>
<line x1="82.35" y1="362.12" x2="86.35" y2="362.12" stroke="#a9d3f0" stroke-width="1.0"/>
<circle cx="84.35" cy="373.28" r="1.3" fill="#a9d3f0" stroke="none" stroke-width="0.4"/>
<line x1="101.70" y1="362.12" x2="101.70" y2="371.80" stroke="#a9d3f0" stroke-width="1.0"/>
<line x1="99.70" y1="362.12" x2="103.70" y2="362.12" stroke="#a9d3f0" stroke-width="1.0"/>
<circle cx="101.70" cy="371.80" r="1.3" fill="#a9d3f0" stroke="none" stroke-width="0.4"/>
<line x1="119.05" y1="355.43" x2="119.05" y2="365.84" stroke="#a9d3f0" stroke-width="1.0"/>
<line x1="117.05" y1="355.43" x2="121.05" y2="355.43" stroke="#a9d3f0" stroke-width="1.0"/>
<circle cx="119.05" cy="365.84" r="1.3" fill="#a9d3f0" stroke="none" stroke-width="0.4"/>
<polyline points="32.30,327.90 49.65,346.50 67.00,377.38 84.35,364.36 101.70,361.38 119.05,347.62" fill="none" stroke="#a9d3f0" stroke-width="1.5" stroke-linejoin="round"/>
<line x1="49.65" y1="336.83" x2="49.65" y2="346.50" stroke="#a9d3f0" stroke-width="1.0"/>
<line x1="47.65" y1="336.83" x2="51.65" y2="336.83" stroke="#a9d3f0" stroke-width="1.0"/>
<circle cx="49.65" cy="346.50" r="1.3" fill="#a9d3f0" stroke="none" stroke-width="0.4"/>
<line x1="67.00" y1="373.66" x2="67.00" y2="377.38" stroke="#a9d3f0" stroke-width="1.0"/>
<line x1="65.00" y1="373.66" x2="69.00" y2="373.66" stroke="#a9d3f0" stroke-width="1.0"/>
<circle cx="67.00" cy="377.38" r="1.3" fill="#a9d3f0" stroke="none" stroke-width="0.4"/>
<line x1="84.35" y1="356.17" x2="84.35" y2="364.36" stroke="#a9d3f0" stroke-width="1.0"/>
<line x1="82.35" y1="356.17" x2="86.35" y2="356.17" stroke="#a9d3f0" stroke-width="1.0"/>
<circle cx="84.35" cy="364.36" r="1.3" fill="#a9d3f0" stroke="none" stroke-width="0.4"/>
<line x1="101.70" y1="351.71" x2="101.70" y2="361.38" stroke="#a9d3f0" stroke-width="1.0"/>
<line x1="99.70" y1="351.71" x2="103.70" y2="351.71" stroke="#a9d3f0" stroke-width="1.0"/>
<circle cx="101.70" cy="361.38" r="1.3" fill="#a9d3f0" stroke="none" stroke-width="0.4"/>
<line x1="119.05" y1="338.69" x2="119.05" y2="347.62" stroke="#a9d3f0" stroke-width="1.0"/>
<line x1="117.05" y1="338.69" x2="121.05" y2="338.69" stroke="#a9d3f0" stroke-width="1.0"/>
<circle cx="119.05" cy="347.62" r="1.3" fill="#a9d3f0" stroke="none" stroke-width="0.4"/>
<polyline points="32.30,327.90 49.65,339.06 67.00,358.40 84.35,362.87 101.70,356.17 119.05,348.36" fill="none" stroke="#1d6396" stroke-width="1.5" stroke-linejoin="round" stroke-dasharray="4.5 2.2"/>
<line x1="49.65" y1="331.62" x2="49.65" y2="339.06" stroke="#1d6396" stroke-width="1.0"/>
<line x1="47.65" y1="331.62" x2="51.65" y2="331.62" stroke="#1d6396" stroke-width="1.0"/>
<circle cx="49.65" cy="339.06" r="1.3" fill="#1d6396" stroke="none" stroke-width="0.4"/>
<line x1="67.00" y1="346.50" x2="67.00" y2="358.40" stroke="#1d6396" stroke-width="1.0"/>
<line x1="65.00" y1="346.50" x2="69.00" y2="346.50" stroke="#1d6396" stroke-width="1.0"/>
<circle cx="67.00" cy="358.40" r="1.3" fill="#1d6396" stroke="none" stroke-width="0.4"/>
<line x1="84.35" y1="350.96" x2="84.35" y2="362.87" stroke="#1d6396" stroke-width="1.0"/>
<line x1="82.35" y1="350.96" x2="86.35" y2="350.96" stroke="#1d6396" stroke-width="1.0"/>
<circle cx="84.35" cy="362.87" r="1.3" fill="#1d6396" stroke="none" stroke-width="0.4"/>
<line x1="101.70" y1="350.22" x2="101.70" y2="356.17" stroke="#1d6396" stroke-width="1.0"/>
<line x1="99.70" y1="350.22" x2="103.70" y2="350.22" stroke="#1d6396" stroke-width="1.0"/>
<circle cx="101.70" cy="356.17" r="1.3" fill="#1d6396" stroke="none" stroke-width="0.4"/>
<line x1="119.05" y1="340.18" x2="119.05" y2="348.36" stroke="#1d6396" stroke-width="1.0"/>
<line x1="117.05" y1="340.18" x2="121.05" y2="340.18" stroke="#1d6396" stroke-width="1.0"/>
<circle cx="119.05" cy="348.36" r="1.3" fill="#1d6396" stroke="none" stroke-width="0.4"/>
<polyline points="32.30,327.90 49.65,351.34 67.00,370.68 84.35,389.28 101.70,382.96 119.05,377.75" fill="none" stroke="#1d6396" stroke-width="1.5" stroke-linejoin="round"/>
<line x1="49.65" y1="347.62" x2="49.65" y2="351.34" stroke="#1d6396" stroke-width="1.0"/>
<line x1="47.65" y1="347.62" x2="51.65" y2="347.62" stroke="#1d6396" stroke-width="1.0"/>
<circle cx="49.65" cy="351.34" r="1.3" fill="#1d6396" stroke="none" stroke-width="0.4"/>
<line x1="67.00" y1="366.22" x2="67.00" y2="370.68" stroke="#1d6396" stroke-width="1.0"/>
<line x1="65.00" y1="366.22" x2="69.00" y2="366.22" stroke="#1d6396" stroke-width="1.0"/>
<circle cx="67.00" cy="370.68" r="1.3" fill="#1d6396" stroke="none" stroke-width="0.4"/>
<line x1="84.35" y1="386.30" x2="84.35" y2="389.28" stroke="#1d6396" stroke-width="1.0"/>
<line x1="82.35" y1="386.30" x2="86.35" y2="386.30" stroke="#1d6396" stroke-width="1.0"/>
<circle cx="84.35" cy="389.28" r="1.3" fill="#1d6396" stroke="none" stroke-width="0.4"/>
<line x1="101.70" y1="377.00" x2="101.70" y2="382.96" stroke="#1d6396" stroke-width="1.0"/>
<line x1="99.70" y1="377.00" x2="103.70" y2="377.00" stroke="#1d6396" stroke-width="1.0"/>
<circle cx="101.70" cy="382.96" r="1.3" fill="#1d6396" stroke="none" stroke-width="0.4"/>
<line x1="119.05" y1="367.33" x2="119.05" y2="377.75" stroke="#1d6396" stroke-width="1.0"/>
<line x1="117.05" y1="367.33" x2="121.05" y2="367.33" stroke="#1d6396" stroke-width="1.0"/>
<circle cx="119.05" cy="377.75" r="1.3" fill="#1d6396" stroke="none" stroke-width="0.4"/>
<circle cx="32.30" cy="327.90" r="1.5" fill="#1d6396" stroke="none" stroke-width="0.4"/>
<line x1="119.05" y1="338.69" x2="119.05" y2="347.62" stroke="#a9d3f0" stroke-width="1.0"/>
<line x1="117.05" y1="338.69" x2="121.05" y2="338.69" stroke="#a9d3f0" stroke-width="1.0"/>
<circle cx="119.05" cy="347.62" r="1.4" fill="#a9d3f0" stroke="none" stroke-width="0.4"/>
<path d="M122.2,347.3 L124.6,347.3 L124.6,377 L122.2,377" fill="none" stroke="#111" stroke-width="0.7"/>
<path d="M130,328.2 L132.4,328.2 L132.4,377 L130,377" fill="none" stroke="#111" stroke-width="0.7"/>
<text x="126.20" y="362.70" font-size="4.8" text-anchor="middle" fill="#222" transform="rotate(90 126.20 362.70)"><tspan font-style="italic">p</tspan> = 0.0001</text>
<text x="134.20" y="353.10" font-size="4.8" text-anchor="middle" fill="#222" transform="rotate(90 134.20 353.10)"><tspan font-style="italic">p</tspan> &lt; 0.0001</text>
<text x="244.60" y="281.40" font-size="10" text-anchor="middle" fill="#111" font-weight="bold">INF-γ</text>
<text x="162.60" y="367.00" font-size="8.1" text-anchor="middle" fill="#1a1a1a" transform="rotate(-90 162.60 367.00)">pg/ml serum</text>
<line x1="200.80" y1="315.40" x2="200.80" y2="418.50" stroke="#1a1a1a" stroke-width="0.8"/>
<line x1="197.60" y1="418.20" x2="200.80" y2="418.20" stroke="#1a1a1a" stroke-width="0.8"/>
<text x="196.20" y="419.40" font-size="7.2" text-anchor="end" fill="#1a1a1a">0.0</text>
<line x1="197.60" y1="384.03" x2="200.80" y2="384.03" stroke="#1a1a1a" stroke-width="0.8"/>
<text x="196.20" y="385.23" font-size="7.2" text-anchor="end" fill="#1a1a1a">5.0×10<tspan baseline-shift="2.6" font-size="4.1">5</tspan></text>
<line x1="197.60" y1="349.87" x2="200.80" y2="349.87" stroke="#1a1a1a" stroke-width="0.8"/>
<text x="196.20" y="351.07" font-size="7.2" text-anchor="end" fill="#1a1a1a">1.0×10<tspan baseline-shift="2.6" font-size="4.1">6</tspan></text>
<line x1="197.60" y1="315.70" x2="200.80" y2="315.70" stroke="#1a1a1a" stroke-width="0.8"/>
<text x="196.20" y="316.90" font-size="7.2" text-anchor="end" fill="#1a1a1a">1.5×10<tspan baseline-shift="2.6" font-size="4.1">6</tspan></text>
<line x1="200.50" y1="418.20" x2="238.00" y2="418.20" stroke="#1a1a1a" stroke-width="0.8"/>
<rect x="204.55" y="363.60" width="4.90" height="54.60" fill="#1d6396" stroke="#174f7a" stroke-width="0.7"/>
<line x1="207.00" y1="349.00" x2="207.00" y2="378.00" stroke="#111" stroke-width="0.6"/>
<line x1="205.50" y1="349.00" x2="208.50" y2="349.00" stroke="#111" stroke-width="0.6"/>
<line x1="205.50" y1="378.00" x2="208.50" y2="378.00" stroke="#111" stroke-width="0.6"/>
<circle cx="207.00" cy="346.90" r="1.0" fill="#0a0a0a" stroke="none" stroke-width="0.4"/>
<circle cx="205.70" cy="356.90" r="1.0" fill="#0a0a0a" stroke="none" stroke-width="0.4"/>
<circle cx="208.30" cy="371.40" r="1.0" fill="#0a0a0a" stroke="none" stroke-width="0.4"/>
<circle cx="206.35" cy="377.40" r="1.0" fill="#0a0a0a" stroke="none" stroke-width="0.4"/>
<rect x="210.95" y="402.10" width="4.90" height="16.10" fill="#fff" stroke="#2b7bb9" stroke-width="0.7"/>
<line x1="213.40" y1="392.50" x2="213.40" y2="411.50" stroke="#2b7bb9" stroke-width="0.6"/>
<line x1="211.90" y1="392.50" x2="214.90" y2="392.50" stroke="#2b7bb9" stroke-width="0.6"/>
<line x1="211.90" y1="411.50" x2="214.90" y2="411.50" stroke="#2b7bb9" stroke-width="0.6"/>
<circle cx="213.40" cy="389.20" r="1.0" fill="#2b7bb9" stroke="none" stroke-width="0.4"/>
<circle cx="212.10" cy="395.90" r="1.0" fill="#2b7bb9" stroke="none" stroke-width="0.4"/>
<circle cx="214.70" cy="408.10" r="1.0" fill="#2b7bb9" stroke="none" stroke-width="0.4"/>
<circle cx="212.75" cy="412.20" r="1.0" fill="#2b7bb9" stroke="none" stroke-width="0.4"/>
<rect x="217.45" y="411.50" width="4.90" height="6.70" fill="#b2d6f1" stroke="#222" stroke-width="0.7"/>
<line x1="219.90" y1="402.10" x2="219.90" y2="417.70" stroke="#111" stroke-width="0.6"/>
<line x1="218.40" y1="402.10" x2="221.40" y2="402.10" stroke="#111" stroke-width="0.6"/>
<line x1="218.40" y1="417.70" x2="221.40" y2="417.70" stroke="#111" stroke-width="0.6"/>
<circle cx="219.90" cy="398.10" r="1.0" fill="#0a0a0a" stroke="none" stroke-width="0.4"/>
<circle cx="218.60" cy="404.80" r="1.0" fill="#0a0a0a" stroke="none" stroke-width="0.4"/>
<circle cx="221.20" cy="413.70" r="1.0" fill="#0a0a0a" stroke="none" stroke-width="0.4"/>
<rect x="223.85" y="413.30" width="4.90" height="4.90" fill="#fff" stroke="#b7dbf5" stroke-width="0.7"/>
<line x1="226.30" y1="411.00" x2="226.30" y2="416.00" stroke="#b7dbf5" stroke-width="0.6"/>
<line x1="224.80" y1="411.00" x2="227.80" y2="411.00" stroke="#b7dbf5" stroke-width="0.6"/>
<line x1="224.80" y1="416.00" x2="227.80" y2="416.00" stroke="#b7dbf5" stroke-width="0.6"/>
<circle cx="226.30" cy="411.00" r="1.0" fill="#b7dbf5" stroke="none" stroke-width="0.4"/>
<circle cx="225.00" cy="414.00" r="1.0" fill="#b7dbf5" stroke="none" stroke-width="0.4"/>
<circle cx="227.60" cy="415.50" r="1.0" fill="#b7dbf5" stroke="none" stroke-width="0.4"/>
<circle cx="225.65" cy="416.50" r="1.0" fill="#b7dbf5" stroke="none" stroke-width="0.4"/>
<rect x="230.55" y="417.60" width="4.90" height="0.60" fill="#4f4f4f" stroke="#333" stroke-width="0.7"/>
<circle cx="233.00" cy="417.00" r="1.0" fill="#0a0a0a" stroke="none" stroke-width="0.4"/>
<circle cx="231.70" cy="417.20" r="1.0" fill="#0a0a0a" stroke="none" stroke-width="0.4"/>
<circle cx="234.30" cy="417.30" r="1.0" fill="#0a0a0a" stroke="none" stroke-width="0.4"/>
<line x1="213.40" y1="314.50" x2="213.40" y2="388.00" stroke="#6a6a6a" stroke-width="0.7"/>
<line x1="207.25" y1="314.50" x2="207.25" y2="348.00" stroke="#444" stroke-width="0.6"/>
<line x1="206.95" y1="314.50" x2="213.75" y2="314.50" stroke="#111" stroke-width="0.75"/>
<text x="211.52" y="313.40" font-size="4.7" text-anchor="middle" fill="#222"><tspan font-style="italic">p</tspan> = 0.0001</text>
<line x1="219.90" y1="307.60" x2="219.90" y2="397.00" stroke="#6a6a6a" stroke-width="0.7"/>
<line x1="206.75" y1="307.60" x2="206.75" y2="348.00" stroke="#444" stroke-width="0.6"/>
<line x1="206.45" y1="307.60" x2="220.25" y2="307.60" stroke="#111" stroke-width="0.75"/>
<text x="214.52" y="306.50" font-size="4.7" text-anchor="middle" fill="#222"><tspan font-style="italic">p</tspan> = 0.0001</text>
<line x1="226.30" y1="300.80" x2="226.30" y2="410.00" stroke="#6a6a6a" stroke-width="0.7"/>
<line x1="207.25" y1="300.80" x2="207.25" y2="348.00" stroke="#444" stroke-width="0.6"/>
<line x1="206.95" y1="300.80" x2="226.65" y2="300.80" stroke="#111" stroke-width="0.75"/>
<text x="217.97" y="299.70" font-size="4.7" text-anchor="middle" fill="#222"><tspan font-style="italic">p</tspan> = 0.0001</text>
<line x1="233.00" y1="294.00" x2="233.00" y2="416.00" stroke="#6a6a6a" stroke-width="0.7"/>
<line x1="206.75" y1="294.00" x2="206.75" y2="348.00" stroke="#444" stroke-width="0.6"/>
<line x1="206.45" y1="294.00" x2="233.35" y2="294.00" stroke="#111" stroke-width="0.75"/>
<text x="221.07" y="292.90" font-size="4.7" text-anchor="middle" fill="#222"><tspan font-style="italic">p</tspan> &lt; 0.0001</text>
<text x="219.80" y="429.20" font-size="8.2" text-anchor="middle" fill="#1a1a1a">d3</text>
<line x1="219.80" y1="418.20" x2="219.80" y2="420.80" stroke="#1a1a1a" stroke-width="0.8"/>
<line x1="247.40" y1="315.40" x2="247.40" y2="418.50" stroke="#1a1a1a" stroke-width="0.8"/>
<line x1="244.20" y1="418.20" x2="247.40" y2="418.20" stroke="#1a1a1a" stroke-width="0.8"/>
<line x1="244.20" y1="384.03" x2="247.40" y2="384.03" stroke="#1a1a1a" stroke-width="0.8"/>
<line x1="244.20" y1="349.87" x2="247.40" y2="349.87" stroke="#1a1a1a" stroke-width="0.8"/>
<line x1="244.20" y1="315.70" x2="247.40" y2="315.70" stroke="#1a1a1a" stroke-width="0.8"/>
<line x1="247.10" y1="418.20" x2="284.80" y2="418.20" stroke="#1a1a1a" stroke-width="0.8"/>
<rect x="250.95" y="417.50" width="4.90" height="0.70" fill="#1d6396" stroke="#174f7a" stroke-width="0.7"/>
<circle cx="253.40" cy="416.60" r="0.75" fill="#0a0a0a" stroke="none" stroke-width="0.4"/>
<circle cx="252.10" cy="417.00" r="0.75" fill="#0a0a0a" stroke="none" stroke-width="0.4"/>
<circle cx="254.70" cy="417.20" r="0.75" fill="#0a0a0a" stroke="none" stroke-width="0.4"/>
<circle cx="252.75" cy="417.10" r="0.75" fill="#0a0a0a" stroke="none" stroke-width="0.4"/>
<rect x="257.55" y="417.80" width="4.90" height="0.40" fill="#fff" stroke="#2b7bb9" stroke-width="0.7"/>
<circle cx="260.00" cy="417.30" r="0.75" fill="#2b7bb9" stroke="none" stroke-width="0.4"/>
<circle cx="258.70" cy="417.50" r="0.75" fill="#2b7bb9" stroke="none" stroke-width="0.4"/>
<rect x="264.05" y="417.80" width="4.90" height="0.40" fill="#b2d6f1" stroke="#222" stroke-width="0.7"/>
<circle cx="266.50" cy="417.40" r="0.75" fill="#0a0a0a" stroke="none" stroke-width="0.4"/>
<circle cx="265.20" cy="417.60" r="0.75" fill="#0a0a0a" stroke="none" stroke-width="0.4"/>
<rect x="270.75" y="417.80" width="4.90" height="0.40" fill="#fff" stroke="#b7dbf5" stroke-width="0.7"/>
<circle cx="273.20" cy="417.50" r="0.75" fill="#b7dbf5" stroke="none" stroke-width="0.4"/>
<circle cx="271.90" cy="417.60" r="0.75" fill="#b7dbf5" stroke="none" stroke-width="0.4"/>
<rect x="277.25" y="417.60" width="4.90" height="0.60" fill="#4f4f4f" stroke="#333" stroke-width="0.7"/>
<circle cx="279.70" cy="417.10" r="0.75" fill="#0a0a0a" stroke="none" stroke-width="0.4"/>
<circle cx="278.40" cy="417.40" r="0.75" fill="#0a0a0a" stroke="none" stroke-width="0.4"/>
<circle cx="281.00" cy="417.50" r="0.75" fill="#0a0a0a" stroke="none" stroke-width="0.4"/>
<line x1="260.00" y1="314.50" x2="260.00" y2="416.00" stroke="#6a6a6a" stroke-width="0.7"/>
<line x1="253.65" y1="314.50" x2="253.65" y2="415.50" stroke="#444" stroke-width="0.6"/>
<line x1="253.35" y1="314.50" x2="260.35" y2="314.50" stroke="#111" stroke-width="0.75"/>
<text x="258.02" y="313.40" font-size="4.7" text-anchor="middle" fill="#222"><tspan font-style="italic">p</tspan> = 0.0001</text>
<line x1="266.50" y1="307.60" x2="266.50" y2="309.40" stroke="#6a6a6a" stroke-width="0.7"/>
<line x1="253.15" y1="307.60" x2="253.15" y2="415.50" stroke="#444" stroke-width="0.6"/>
<line x1="252.85" y1="307.60" x2="266.85" y2="307.60" stroke="#111" stroke-width="0.75"/>
<text x="261.02" y="306.50" font-size="4.7" text-anchor="middle" fill="#222"><tspan font-style="italic">p</tspan> = 0.0001</text>
<line x1="273.20" y1="300.80" x2="273.20" y2="416.00" stroke="#6a6a6a" stroke-width="0.7"/>
<line x1="253.65" y1="300.80" x2="253.65" y2="415.50" stroke="#444" stroke-width="0.6"/>
<line x1="253.35" y1="300.80" x2="273.55" y2="300.80" stroke="#111" stroke-width="0.75"/>
<text x="264.62" y="299.70" font-size="4.7" text-anchor="middle" fill="#222"><tspan font-style="italic">p</tspan> = 0.0001</text>
<line x1="279.70" y1="294.00" x2="279.70" y2="416.00" stroke="#6a6a6a" stroke-width="0.7"/>
<line x1="253.15" y1="294.00" x2="253.15" y2="415.50" stroke="#444" stroke-width="0.6"/>
<line x1="252.85" y1="294.00" x2="280.05" y2="294.00" stroke="#111" stroke-width="0.75"/>
<text x="267.62" y="292.90" font-size="4.7" text-anchor="middle" fill="#222"><tspan font-style="italic">p</tspan> = 0.0001</text>
<text x="266.40" y="429.20" font-size="8.2" text-anchor="middle" fill="#1a1a1a">d5</text>
<line x1="266.40" y1="418.20" x2="266.40" y2="420.80" stroke="#1a1a1a" stroke-width="0.8"/>
<text x="357.60" y="281.40" font-size="10" text-anchor="middle" fill="#111" font-weight="bold">IL-10</text>
<line x1="316.80" y1="315.40" x2="316.80" y2="418.50" stroke="#1a1a1a" stroke-width="0.8"/>
<line x1="313.60" y1="418.20" x2="316.80" y2="418.20" stroke="#1a1a1a" stroke-width="0.8"/>
<text x="312.20" y="419.40" font-size="7.2" text-anchor="end" fill="#1a1a1a">0.0</text>
<line x1="313.60" y1="392.57" x2="316.80" y2="392.57" stroke="#1a1a1a" stroke-width="0.8"/>
<text x="312.20" y="393.77" font-size="7.2" text-anchor="end" fill="#1a1a1a">5.0×10<tspan baseline-shift="2.6" font-size="4.1">1</tspan></text>
<line x1="313.60" y1="366.95" x2="316.80" y2="366.95" stroke="#1a1a1a" stroke-width="0.8"/>
<text x="312.20" y="368.15" font-size="7.2" text-anchor="end" fill="#1a1a1a">1.0×10<tspan baseline-shift="2.6" font-size="4.1">2</tspan></text>
<line x1="313.60" y1="341.32" x2="316.80" y2="341.32" stroke="#1a1a1a" stroke-width="0.8"/>
<text x="312.20" y="342.52" font-size="7.2" text-anchor="end" fill="#1a1a1a">1.5×10<tspan baseline-shift="2.6" font-size="4.1">2</tspan></text>
<line x1="313.60" y1="315.70" x2="316.80" y2="315.70" stroke="#1a1a1a" stroke-width="0.8"/>
<text x="312.20" y="316.90" font-size="7.2" text-anchor="end" fill="#1a1a1a">2.0×10<tspan baseline-shift="2.6" font-size="4.1">2</tspan></text>
<line x1="316.50" y1="418.20" x2="353.50" y2="418.20" stroke="#1a1a1a" stroke-width="0.8"/>
<rect x="320.45" y="351.30" width="5.00" height="66.90" fill="#1d6396" stroke="#174f7a" stroke-width="0.7"/>
<line x1="322.95" y1="331.30" x2="322.95" y2="371.00" stroke="#111" stroke-width="0.6"/>
<line x1="321.45" y1="331.30" x2="324.45" y2="331.30" stroke="#111" stroke-width="0.6"/>
<line x1="321.45" y1="371.00" x2="324.45" y2="371.00" stroke="#111" stroke-width="0.6"/>
<circle cx="322.95" cy="317.90" r="1.0" fill="#0a0a0a" stroke="none" stroke-width="0.4"/>
<circle cx="321.65" cy="348.00" r="1.0" fill="#0a0a0a" stroke="none" stroke-width="0.4"/>
<circle cx="324.25" cy="358.00" r="1.0" fill="#0a0a0a" stroke="none" stroke-width="0.4"/>
<circle cx="322.30" cy="364.20" r="1.0" fill="#0a0a0a" stroke="none" stroke-width="0.4"/>
<circle cx="323.86" cy="370.30" r="1.0" fill="#0a0a0a" stroke="none" stroke-width="0.4"/>
<rect x="326.95" y="383.20" width="5.30" height="35.00" fill="#fff" stroke="#2b7bb9" stroke-width="0.7"/>
<line x1="329.60" y1="365.80" x2="329.60" y2="401.50" stroke="#2b7bb9" stroke-width="0.6"/>
<line x1="328.10" y1="365.80" x2="331.10" y2="365.80" stroke="#2b7bb9" stroke-width="0.6"/>
<line x1="328.10" y1="401.50" x2="331.10" y2="401.50" stroke="#2b7bb9" stroke-width="0.6"/>
<circle cx="329.60" cy="362.00" r="1.0" fill="#2b7bb9" stroke="none" stroke-width="0.4"/>
<circle cx="328.30" cy="376.30" r="1.0" fill="#2b7bb9" stroke="none" stroke-width="0.4"/>
<circle cx="330.90" cy="389.20" r="1.0" fill="#2b7bb9" stroke="none" stroke-width="0.4"/>
<circle cx="328.95" cy="407.50" r="1.0" fill="#2b7bb9" stroke="none" stroke-width="0.4"/>
<rect x="333.85" y="396.60" width="5.10" height="21.60" fill="#b2d6f1" stroke="#222" stroke-width="0.7"/>
<line x1="336.40" y1="387.00" x2="336.40" y2="406.00" stroke="#111" stroke-width="0.6"/>
<line x1="334.90" y1="387.00" x2="337.90" y2="387.00" stroke="#111" stroke-width="0.6"/>
<line x1="334.90" y1="406.00" x2="337.90" y2="406.00" stroke="#111" stroke-width="0.6"/>
<circle cx="336.40" cy="387.00" r="1.0" fill="#0a0a0a" stroke="none" stroke-width="0.4"/>
<circle cx="335.10" cy="402.00" r="1.0" fill="#0a0a0a" stroke="none" stroke-width="0.4"/>
<circle cx="337.70" cy="404.80" r="1.0" fill="#0a0a0a" stroke="none" stroke-width="0.4"/>
<circle cx="335.75" cy="387.40" r="1.0" fill="#0a0a0a" stroke="none" stroke-width="0.4"/>
<rect x="340.55" y="405.90" width="5.10" height="12.30" fill="#fff" stroke="#b7dbf5" stroke-width="0.7"/>
<line x1="343.10" y1="400.20" x2="343.10" y2="411.60" stroke="#b7dbf5" stroke-width="0.6"/>
<line x1="341.60" y1="400.20" x2="344.60" y2="400.20" stroke="#b7dbf5" stroke-width="0.6"/>
<line x1="341.60" y1="411.60" x2="344.60" y2="411.60" stroke="#b7dbf5" stroke-width="0.6"/>
<circle cx="343.10" cy="398.00" r="1.0" fill="#b7dbf5" stroke="none" stroke-width="0.4"/>
<circle cx="341.80" cy="402.20" r="1.0" fill="#b7dbf5" stroke="none" stroke-width="0.4"/>
<circle cx="344.40" cy="407.00" r="1.0" fill="#b7dbf5" stroke="none" stroke-width="0.4"/>
<circle cx="342.45" cy="410.40" r="1.0" fill="#b7dbf5" stroke="none" stroke-width="0.4"/>
<rect x="346.95" y="411.90" width="5.10" height="6.30" fill="#4f4f4f" stroke="#333" stroke-width="0.7"/>
<line x1="349.50" y1="408.00" x2="349.50" y2="415.60" stroke="#111" stroke-width="0.6"/>
<line x1="348.00" y1="408.00" x2="351.00" y2="408.00" stroke="#111" stroke-width="0.6"/>
<line x1="348.00" y1="415.60" x2="351.00" y2="415.60" stroke="#111" stroke-width="0.6"/>
<circle cx="349.50" cy="407.00" r="1.0" fill="#0a0a0a" stroke="none" stroke-width="0.4"/>
<circle cx="348.20" cy="412.60" r="1.0" fill="#0a0a0a" stroke="none" stroke-width="0.4"/>
<circle cx="350.80" cy="414.00" r="1.0" fill="#0a0a0a" stroke="none" stroke-width="0.4"/>
<line x1="329.60" y1="314.50" x2="329.60" y2="358.00" stroke="#6a6a6a" stroke-width="0.7"/>
<line x1="323.20" y1="314.50" x2="323.20" y2="316.40" stroke="#444" stroke-width="0.6"/>
<line x1="322.90" y1="314.50" x2="329.95" y2="314.50" stroke="#111" stroke-width="0.75"/>
<text x="327.60" y="313.40" font-size="4.7" text-anchor="middle" fill="#222"><tspan font-style="italic">p</tspan> = 0.0028</text>
<line x1="336.40" y1="307.60" x2="336.40" y2="384.70" stroke="#6a6a6a" stroke-width="0.7"/>
<line x1="322.70" y1="307.60" x2="322.70" y2="316.40" stroke="#444" stroke-width="0.6"/>
<line x1="322.40" y1="307.60" x2="336.75" y2="307.60" stroke="#111" stroke-width="0.75"/>
<text x="330.75" y="306.50" font-size="4.7" text-anchor="middle" fill="#222"><tspan font-style="italic">p</tspan> = 0.0001</text>
<line x1="343.10" y1="300.80" x2="343.10" y2="391.40" stroke="#6a6a6a" stroke-width="0.7"/>
<line x1="323.20" y1="300.80" x2="323.20" y2="316.40" stroke="#444" stroke-width="0.6"/>
<line x1="322.90" y1="300.80" x2="343.45" y2="300.80" stroke="#111" stroke-width="0.75"/>
<text x="334.35" y="299.70" font-size="4.7" text-anchor="middle" fill="#222"><tspan font-style="italic">p</tspan> = 0.0001</text>
<line x1="349.50" y1="294.00" x2="349.50" y2="404.80" stroke="#6a6a6a" stroke-width="0.7"/>
<line x1="322.70" y1="294.00" x2="322.70" y2="316.40" stroke="#444" stroke-width="0.6"/>
<line x1="322.40" y1="294.00" x2="349.85" y2="294.00" stroke="#111" stroke-width="0.75"/>
<text x="337.30" y="292.90" font-size="4.7" text-anchor="middle" fill="#222"><tspan font-style="italic">p</tspan> &lt; 0.0001</text>
<text x="336.20" y="429.20" font-size="8.2" text-anchor="middle" fill="#1a1a1a">d3</text>
<line x1="336.20" y1="418.20" x2="336.20" y2="420.80" stroke="#1a1a1a" stroke-width="0.8"/>
<line x1="364.20" y1="315.40" x2="364.20" y2="418.50" stroke="#1a1a1a" stroke-width="0.8"/>
<line x1="361.00" y1="418.20" x2="364.20" y2="418.20" stroke="#1a1a1a" stroke-width="0.8"/>
<line x1="361.00" y1="392.57" x2="364.20" y2="392.57" stroke="#1a1a1a" stroke-width="0.8"/>
<line x1="361.00" y1="366.95" x2="364.20" y2="366.95" stroke="#1a1a1a" stroke-width="0.8"/>
<line x1="361.00" y1="341.32" x2="364.20" y2="341.32" stroke="#1a1a1a" stroke-width="0.8"/>
<line x1="361.00" y1="315.70" x2="364.20" y2="315.70" stroke="#1a1a1a" stroke-width="0.8"/>
<line x1="363.90" y1="418.20" x2="401.50" y2="418.20" stroke="#1a1a1a" stroke-width="0.8"/>
<rect x="367.75" y="389.90" width="5.10" height="28.30" fill="#1d6396" stroke="#174f7a" stroke-width="0.7"/>
<line x1="370.30" y1="383.20" x2="370.30" y2="396.50" stroke="#111" stroke-width="0.6"/>
<line x1="368.80" y1="383.20" x2="371.80" y2="383.20" stroke="#111" stroke-width="0.6"/>
<line x1="368.80" y1="396.50" x2="371.80" y2="396.50" stroke="#111" stroke-width="0.6"/>
<circle cx="370.30" cy="380.30" r="1.0" fill="#0a0a0a" stroke="none" stroke-width="0.4"/>
<circle cx="369.00" cy="388.50" r="1.0" fill="#0a0a0a" stroke="none" stroke-width="0.4"/>
<circle cx="371.60" cy="392.50" r="1.0" fill="#0a0a0a" stroke="none" stroke-width="0.4"/>
<circle cx="369.65" cy="394.80" r="1.0" fill="#0a0a0a" stroke="none" stroke-width="0.4"/>
<rect x="374.15" y="397.00" width="5.10" height="21.20" fill="#fff" stroke="#2b7bb9" stroke-width="0.7"/>
<line x1="376.70" y1="392.00" x2="376.70" y2="402.00" stroke="#2b7bb9" stroke-width="0.6"/>
<line x1="375.20" y1="392.00" x2="378.20" y2="392.00" stroke="#2b7bb9" stroke-width="0.6"/>
<line x1="375.20" y1="402.00" x2="378.20" y2="402.00" stroke="#2b7bb9" stroke-width="0.6"/>
<circle cx="376.70" cy="392.10" r="1.0" fill="#2b7bb9" stroke="none" stroke-width="0.4"/>
<circle cx="375.40" cy="395.90" r="1.0" fill="#2b7bb9" stroke="none" stroke-width="0.4"/>
<circle cx="378.00" cy="399.20" r="1.0" fill="#2b7bb9" stroke="none" stroke-width="0.4"/>
<circle cx="376.05" cy="403.70" r="1.0" fill="#2b7bb9" stroke="none" stroke-width="0.4"/>
<rect x="380.65" y="408.10" width="5.10" height="10.10" fill="#b2d6f1" stroke="#222" stroke-width="0.7"/>
<line x1="383.20" y1="405.40" x2="383.20" y2="410.80" stroke="#111" stroke-width="0.6"/>
<line x1="381.70" y1="405.40" x2="384.70" y2="405.40" stroke="#111" stroke-width="0.6"/>
<line x1="381.70" y1="410.80" x2="384.70" y2="410.80" stroke="#111" stroke-width="0.6"/>
<circle cx="383.20" cy="405.50" r="1.0" fill="#0a0a0a" stroke="none" stroke-width="0.4"/>
<circle cx="381.90" cy="408.10" r="1.0" fill="#0a0a0a" stroke="none" stroke-width="0.4"/>
<circle cx="384.50" cy="409.20" r="1.0" fill="#0a0a0a" stroke="none" stroke-width="0.4"/>
<rect x="387.15" y="411.00" width="5.00" height="7.20" fill="#fff" stroke="#b7dbf5" stroke-width="0.7"/>
<line x1="389.65" y1="403.00" x2="389.65" y2="417.00" stroke="#b7dbf5" stroke-width="0.6"/>
<line x1="388.15" y1="403.00" x2="391.15" y2="403.00" stroke="#b7dbf5" stroke-width="0.6"/>
<line x1="388.15" y1="417.00" x2="391.15" y2="417.00" stroke="#b7dbf5" stroke-width="0.6"/>
<circle cx="389.65" cy="402.60" r="1.0" fill="#b7dbf5" stroke="none" stroke-width="0.4"/>
<circle cx="388.35" cy="407.00" r="1.0" fill="#b7dbf5" stroke="none" stroke-width="0.4"/>
<circle cx="390.95" cy="411.50" r="1.0" fill="#b7dbf5" stroke="none" stroke-width="0.4"/>
<circle cx="389.00" cy="414.80" r="1.0" fill="#b7dbf5" stroke="none" stroke-width="0.4"/>
<rect x="393.55" y="395.20" width="5.10" height="23.00" fill="#4f4f4f" stroke="#333" stroke-width="0.7"/>
<line x1="396.10" y1="389.20" x2="396.10" y2="401.20" stroke="#111" stroke-width="0.6"/>
<line x1="394.60" y1="389.20" x2="397.60" y2="389.20" stroke="#111" stroke-width="0.6"/>
<line x1="394.60" y1="401.20" x2="397.60" y2="401.20" stroke="#111" stroke-width="0.6"/>
<circle cx="396.10" cy="389.70" r="1.0" fill="#0a0a0a" stroke="none" stroke-width="0.4"/>
<circle cx="394.80" cy="394.80" r="1.0" fill="#0a0a0a" stroke="none" stroke-width="0.4"/>
<circle cx="397.40" cy="402.20" r="1.0" fill="#0a0a0a" stroke="none" stroke-width="0.4"/>
<line x1="383.20" y1="307.90" x2="383.20" y2="403.70" stroke="#6a6a6a" stroke-width="0.7"/>
<line x1="370.05" y1="307.90" x2="370.05" y2="378.00" stroke="#444" stroke-width="0.6"/>
<line x1="369.75" y1="307.90" x2="383.55" y2="307.90" stroke="#111" stroke-width="0.75"/>
<text x="377.82" y="306.80" font-size="4.7" text-anchor="middle" fill="#222"><tspan font-style="italic">p</tspan> = 0.0003</text>
<line x1="389.65" y1="300.50" x2="389.65" y2="401.50" stroke="#6a6a6a" stroke-width="0.7"/>
<line x1="370.55" y1="300.50" x2="370.55" y2="378.00" stroke="#444" stroke-width="0.6"/>
<line x1="370.25" y1="300.50" x2="390.00" y2="300.50" stroke="#111" stroke-width="0.75"/>
<text x="381.30" y="299.40" font-size="4.7" text-anchor="middle" fill="#222"><tspan font-style="italic">p</tspan> = 0.0001</text>
<text x="383.20" y="429.20" font-size="8.2" text-anchor="middle" fill="#1a1a1a">d5</text>
<line x1="383.20" y1="418.20" x2="383.20" y2="420.80" stroke="#1a1a1a" stroke-width="0.8"/>
<text x="477.00" y="281.40" font-size="10" text-anchor="middle" fill="#111" font-weight="bold">IL-6</text>
<line x1="431.80" y1="316.50" x2="431.80" y2="418.50" stroke="#1a1a1a" stroke-width="0.8"/>
<line x1="428.60" y1="418.20" x2="431.80" y2="418.20" stroke="#1a1a1a" stroke-width="0.8"/>
<text x="427.20" y="417.20" font-size="7.2" text-anchor="end" fill="#1a1a1a">0.0</text>
<line x1="428.60" y1="384.40" x2="431.80" y2="384.40" stroke="#1a1a1a" stroke-width="0.8"/>
<text x="427.20" y="383.40" font-size="7.2" text-anchor="end" fill="#1a1a1a">1.0×10<tspan baseline-shift="2.6" font-size="4.1">3</tspan></text>
<line x1="428.60" y1="350.60" x2="431.80" y2="350.60" stroke="#1a1a1a" stroke-width="0.8"/>
<text x="427.20" y="349.60" font-size="7.2" text-anchor="end" fill="#1a1a1a">2.0×10<tspan baseline-shift="2.6" font-size="4.1">3</tspan></text>
<line x1="428.60" y1="316.80" x2="431.80" y2="316.80" stroke="#1a1a1a" stroke-width="0.8"/>
<text x="427.20" y="315.80" font-size="7.2" text-anchor="end" fill="#1a1a1a">3.0×10<tspan baseline-shift="2.6" font-size="4.1">3</tspan></text>
<line x1="431.50" y1="418.20" x2="468.50" y2="418.20" stroke="#1a1a1a" stroke-width="0.8"/>
<rect x="435.45" y="340.20" width="5.30" height="78.00" fill="#1d6396" stroke="#174f7a" stroke-width="0.7"/>
<line x1="438.10" y1="327.90" x2="438.10" y2="352.40" stroke="#111" stroke-width="0.6"/>
<line x1="436.60" y1="327.90" x2="439.60" y2="327.90" stroke="#111" stroke-width="0.6"/>
<line x1="436.60" y1="352.40" x2="439.60" y2="352.40" stroke="#111" stroke-width="0.6"/>
<circle cx="438.10" cy="321.20" r="1.0" fill="#0a0a0a" stroke="none" stroke-width="0.4"/>
<circle cx="436.80" cy="334.60" r="1.0" fill="#0a0a0a" stroke="none" stroke-width="0.4"/>
<circle cx="439.40" cy="344.60" r="1.0" fill="#0a0a0a" stroke="none" stroke-width="0.4"/>
<circle cx="437.45" cy="348.00" r="1.0" fill="#0a0a0a" stroke="none" stroke-width="0.4"/>
<circle cx="439.01" cy="351.30" r="1.0" fill="#0a0a0a" stroke="none" stroke-width="0.4"/>
<rect x="442.15" y="379.20" width="5.30" height="39.00" fill="#fff" stroke="#2b7bb9" stroke-width="0.7"/>
<line x1="444.80" y1="366.90" x2="444.80" y2="391.40" stroke="#2b7bb9" stroke-width="0.6"/>
<line x1="443.30" y1="366.90" x2="446.30" y2="366.90" stroke="#2b7bb9" stroke-width="0.6"/>
<line x1="443.30" y1="391.40" x2="446.30" y2="391.40" stroke="#2b7bb9" stroke-width="0.6"/>
<circle cx="444.80" cy="368.50" r="1.0" fill="#2b7bb9" stroke="none" stroke-width="0.4"/>
<circle cx="443.50" cy="369.10" r="1.0" fill="#2b7bb9" stroke="none" stroke-width="0.4"/>
<circle cx="446.10" cy="388.10" r="1.0" fill="#2b7bb9" stroke="none" stroke-width="0.4"/>
<circle cx="444.15" cy="397.50" r="1.0" fill="#2b7bb9" stroke="none" stroke-width="0.4"/>
<rect x="448.85" y="381.40" width="5.30" height="36.80" fill="#b2d6f1" stroke="#222" stroke-width="0.7"/>
<line x1="451.50" y1="377.60" x2="451.50" y2="385.20" stroke="#111" stroke-width="0.6"/>
<line x1="450.00" y1="377.60" x2="453.00" y2="377.60" stroke="#111" stroke-width="0.6"/>
<line x1="450.00" y1="385.20" x2="453.00" y2="385.20" stroke="#111" stroke-width="0.6"/>
<circle cx="451.50" cy="377.00" r="1.0" fill="#0a0a0a" stroke="none" stroke-width="0.4"/>
<circle cx="450.20" cy="380.30" r="1.0" fill="#0a0a0a" stroke="none" stroke-width="0.4"/>
<circle cx="452.80" cy="382.50" r="1.0" fill="#0a0a0a" stroke="none" stroke-width="0.4"/>
<circle cx="450.85" cy="378.60" r="1.0" fill="#0a0a0a" stroke="none" stroke-width="0.4"/>
<rect x="455.55" y="387.00" width="5.30" height="31.20" fill="#fff" stroke="#b7dbf5" stroke-width="0.7"/>
<line x1="458.20" y1="378.00" x2="458.20" y2="396.00" stroke="#b7dbf5" stroke-width="0.6"/>
<line x1="456.70" y1="378.00" x2="459.70" y2="378.00" stroke="#b7dbf5" stroke-width="0.6"/>
<line x1="456.70" y1="396.00" x2="459.70" y2="396.00" stroke="#b7dbf5" stroke-width="0.6"/>
<circle cx="458.20" cy="371.80" r="1.0" fill="#b7dbf5" stroke="none" stroke-width="0.4"/>
<circle cx="456.90" cy="384.70" r="1.0" fill="#b7dbf5" stroke="none" stroke-width="0.4"/>
<circle cx="459.50" cy="395.90" r="1.0" fill="#b7dbf5" stroke="none" stroke-width="0.4"/>
<rect x="461.95" y="413.00" width="5.40" height="5.20" fill="#4f4f4f" stroke="#333" stroke-width="0.7"/>
<line x1="464.65" y1="409.40" x2="464.65" y2="416.40" stroke="#111" stroke-width="0.6"/>
<line x1="463.15" y1="409.40" x2="466.15" y2="409.40" stroke="#111" stroke-width="0.6"/>
<line x1="463.15" y1="416.40" x2="466.15" y2="416.40" stroke="#111" stroke-width="0.6"/>
<circle cx="464.65" cy="408.80" r="1.0" fill="#0a0a0a" stroke="none" stroke-width="0.4"/>
<circle cx="463.35" cy="412.60" r="1.0" fill="#0a0a0a" stroke="none" stroke-width="0.4"/>
<circle cx="465.95" cy="413.70" r="1.0" fill="#0a0a0a" stroke="none" stroke-width="0.4"/>
<line x1="444.80" y1="319.00" x2="444.80" y2="361.30" stroke="#6a6a6a" stroke-width="0.7"/>
<line x1="438.35" y1="319.00" x2="438.35" y2="320.00" stroke="#444" stroke-width="0.6"/>
<line x1="438.05" y1="319.00" x2="445.15" y2="319.00" stroke="#111" stroke-width="0.75"/>
<text x="442.78" y="317.90" font-size="4.7" text-anchor="middle" fill="#222"><tspan font-style="italic">p</tspan> &lt; 0.0001</text>
<line x1="451.50" y1="312.30" x2="451.50" y2="375.80" stroke="#6a6a6a" stroke-width="0.7"/>
<line x1="437.85" y1="312.30" x2="437.85" y2="320.00" stroke="#444" stroke-width="0.6"/>
<line x1="437.55" y1="312.30" x2="451.85" y2="312.30" stroke="#111" stroke-width="0.75"/>
<text x="445.88" y="311.20" font-size="4.7" text-anchor="middle" fill="#222"><tspan font-style="italic">p</tspan> = 0.0001</text>
<line x1="458.20" y1="305.20" x2="458.20" y2="364.70" stroke="#6a6a6a" stroke-width="0.7"/>
<line x1="438.35" y1="305.20" x2="438.35" y2="320.00" stroke="#444" stroke-width="0.6"/>
<line x1="438.05" y1="305.20" x2="458.55" y2="305.20" stroke="#111" stroke-width="0.75"/>
<text x="449.47" y="304.10" font-size="4.7" text-anchor="middle" fill="#222"><tspan font-style="italic">p</tspan> &lt; 0.0001</text>
<line x1="464.65" y1="298.50" x2="464.65" y2="407.00" stroke="#6a6a6a" stroke-width="0.7"/>
<line x1="437.85" y1="298.50" x2="437.85" y2="320.00" stroke="#444" stroke-width="0.6"/>
<line x1="437.55" y1="298.50" x2="465.00" y2="298.50" stroke="#111" stroke-width="0.75"/>
<text x="452.45" y="297.40" font-size="4.7" text-anchor="middle" fill="#222"><tspan font-style="italic">p</tspan> &lt; 0.0001</text>
<text x="451.40" y="429.20" font-size="8.2" text-anchor="middle" fill="#1a1a1a">d3</text>
<line x1="451.40" y1="418.20" x2="451.40" y2="420.80" stroke="#1a1a1a" stroke-width="0.8"/>
<line x1="479.20" y1="316.50" x2="479.20" y2="418.50" stroke="#1a1a1a" stroke-width="0.8"/>
<line x1="476.00" y1="418.20" x2="479.20" y2="418.20" stroke="#1a1a1a" stroke-width="0.8"/>
<line x1="476.00" y1="384.40" x2="479.20" y2="384.40" stroke="#1a1a1a" stroke-width="0.8"/>
<line x1="476.00" y1="350.60" x2="479.20" y2="350.60" stroke="#1a1a1a" stroke-width="0.8"/>
<line x1="476.00" y1="316.80" x2="479.20" y2="316.80" stroke="#1a1a1a" stroke-width="0.8"/>
<line x1="478.90" y1="418.20" x2="516.50" y2="418.20" stroke="#1a1a1a" stroke-width="0.8"/>
<rect x="482.75" y="348.40" width="5.10" height="69.80" fill="#1d6396" stroke="#174f7a" stroke-width="0.7"/>
<line x1="485.30" y1="333.50" x2="485.30" y2="363.40" stroke="#111" stroke-width="0.6"/>
<line x1="483.80" y1="333.50" x2="486.80" y2="333.50" stroke="#111" stroke-width="0.6"/>
<line x1="483.80" y1="363.40" x2="486.80" y2="363.40" stroke="#111" stroke-width="0.6"/>
<circle cx="485.30" cy="327.50" r="1.0" fill="#0a0a0a" stroke="none" stroke-width="0.4"/>
<circle cx="484.00" cy="344.60" r="1.0" fill="#0a0a0a" stroke="none" stroke-width="0.4"/>
<circle cx="486.60" cy="346.90" r="1.0" fill="#0a0a0a" stroke="none" stroke-width="0.4"/>
<circle cx="484.65" cy="361.30" r="1.0" fill="#0a0a0a" stroke="none" stroke-width="0.4"/>
<circle cx="486.21" cy="362.00" r="1.0" fill="#0a0a0a" stroke="none" stroke-width="0.4"/>
<rect x="489.15" y="399.20" width="5.10" height="19.00" fill="#fff" stroke="#2b7bb9" stroke-width="0.7"/>
<line x1="491.70" y1="386.30" x2="491.70" y2="412.00" stroke="#2b7bb9" stroke-width="0.6"/>
<line x1="490.20" y1="386.30" x2="493.20" y2="386.30" stroke="#2b7bb9" stroke-width="0.6"/>
<line x1="490.20" y1="412.00" x2="493.20" y2="412.00" stroke="#2b7bb9" stroke-width="0.6"/>
<circle cx="491.70" cy="387.00" r="1.0" fill="#2b7bb9" stroke="none" stroke-width="0.4"/>
<circle cx="490.40" cy="389.20" r="1.0" fill="#2b7bb9" stroke="none" stroke-width="0.4"/>
<circle cx="493.00" cy="395.90" r="1.0" fill="#2b7bb9" stroke="none" stroke-width="0.4"/>
<circle cx="491.05" cy="411.50" r="1.0" fill="#2b7bb9" stroke="none" stroke-width="0.4"/>
<circle cx="492.61" cy="413.70" r="1.0" fill="#2b7bb9" stroke="none" stroke-width="0.4"/>
<rect x="495.65" y="389.20" width="5.10" height="29.00" fill="#b2d6f1" stroke="#222" stroke-width="0.7"/>
<line x1="498.20" y1="384.60" x2="498.20" y2="393.80" stroke="#111" stroke-width="0.6"/>
<line x1="496.70" y1="384.60" x2="499.70" y2="384.60" stroke="#111" stroke-width="0.6"/>
<line x1="496.70" y1="393.80" x2="499.70" y2="393.80" stroke="#111" stroke-width="0.6"/>
<circle cx="498.20" cy="383.60" r="1.0" fill="#0a0a0a" stroke="none" stroke-width="0.4"/>
<circle cx="496.90" cy="388.10" r="1.0" fill="#0a0a0a" stroke="none" stroke-width="0.4"/>
<circle cx="499.50" cy="390.30" r="1.0" fill="#0a0a0a" stroke="none" stroke-width="0.4"/>
<circle cx="497.55" cy="392.50" r="1.0" fill="#0a0a0a" stroke="none" stroke-width="0.4"/>
<rect x="502.15" y="394.30" width="5.00" height="23.90" fill="#fff" stroke="#b7dbf5" stroke-width="0.7"/>
<line x1="504.65" y1="377.00" x2="504.65" y2="411.60" stroke="#b7dbf5" stroke-width="0.6"/>
<line x1="503.15" y1="377.00" x2="506.15" y2="377.00" stroke="#b7dbf5" stroke-width="0.6"/>
<line x1="503.15" y1="411.60" x2="506.15" y2="411.60" stroke="#b7dbf5" stroke-width="0.6"/>
<circle cx="504.65" cy="371.40" r="1.0" fill="#b7dbf5" stroke="none" stroke-width="0.4"/>
<circle cx="503.35" cy="387.00" r="1.0" fill="#b7dbf5" stroke="none" stroke-width="0.4"/>
<circle cx="505.95" cy="400.30" r="1.0" fill="#b7dbf5" stroke="none" stroke-width="0.4"/>
<circle cx="504.00" cy="411.50" r="1.0" fill="#b7dbf5" stroke="none" stroke-width="0.4"/>
<rect x="508.55" y="401.00" width="5.30" height="17.20" fill="#4f4f4f" stroke="#333" stroke-width="0.7"/>
<line x1="511.20" y1="394.80" x2="511.20" y2="407.20" stroke="#111" stroke-width="0.6"/>
<line x1="509.70" y1="394.80" x2="512.70" y2="394.80" stroke="#111" stroke-width="0.6"/>
<line x1="509.70" y1="407.20" x2="512.70" y2="407.20" stroke="#111" stroke-width="0.6"/>
<circle cx="511.20" cy="395.20" r="1.0" fill="#0a0a0a" stroke="none" stroke-width="0.4"/>
<circle cx="509.90" cy="402.60" r="1.0" fill="#0a0a0a" stroke="none" stroke-width="0.4"/>
<circle cx="512.50" cy="409.20" r="1.0" fill="#0a0a0a" stroke="none" stroke-width="0.4"/>
<line x1="491.70" y1="319.00" x2="491.70" y2="384.70" stroke="#6a6a6a" stroke-width="0.7"/>
<line x1="485.55" y1="319.00" x2="485.55" y2="326.00" stroke="#444" stroke-width="0.6"/>
<line x1="485.25" y1="319.00" x2="492.05" y2="319.00" stroke="#111" stroke-width="0.75"/>
<text x="489.82" y="317.90" font-size="4.7" text-anchor="middle" fill="#222"><tspan font-style="italic">p</tspan> = 0.0001</text>
<line x1="498.20" y1="312.30" x2="498.20" y2="381.40" stroke="#6a6a6a" stroke-width="0.7"/>
<line x1="485.05" y1="312.30" x2="485.05" y2="326.00" stroke="#444" stroke-width="0.6"/>
<line x1="484.75" y1="312.30" x2="498.55" y2="312.30" stroke="#111" stroke-width="0.75"/>
<text x="492.82" y="311.20" font-size="4.7" text-anchor="middle" fill="#222"><tspan font-style="italic">p</tspan> = 0.0001</text>
<line x1="504.65" y1="305.20" x2="504.65" y2="369.10" stroke="#6a6a6a" stroke-width="0.7"/>
<line x1="485.55" y1="305.20" x2="485.55" y2="326.00" stroke="#444" stroke-width="0.6"/>
<line x1="485.25" y1="305.20" x2="505.00" y2="305.20" stroke="#111" stroke-width="0.75"/>
<text x="496.30" y="304.10" font-size="4.7" text-anchor="middle" fill="#222"><tspan font-style="italic">p</tspan> = 0.0001</text>
<line x1="511.20" y1="298.50" x2="511.20" y2="391.40" stroke="#6a6a6a" stroke-width="0.7"/>
<line x1="485.05" y1="298.50" x2="485.05" y2="326.00" stroke="#444" stroke-width="0.6"/>
<line x1="484.75" y1="298.50" x2="511.55" y2="298.50" stroke="#111" stroke-width="0.75"/>
<text x="499.32" y="297.40" font-size="4.7" text-anchor="middle" fill="#222"><tspan font-style="italic">p</tspan> &lt; 0.0001</text>
<text x="498.20" y="429.20" font-size="8.2" text-anchor="middle" fill="#1a1a1a">d5</text>
<line x1="498.20" y1="418.20" x2="498.20" y2="420.80" stroke="#1a1a1a" stroke-width="0.8"/>
<line x1="109.50" y1="440.80" x2="122.80" y2="440.80" stroke="#1f6ca3" stroke-width="1.7"/>
<rect x="109.85" y="448.30" width="12.60" height="4.60" fill="#1d6396" stroke="#174f7a" stroke-width="0.7"/>
<text x="125.00" y="444.50" font-size="9.9" text-anchor="start" fill="#1f6ca3" font-weight="bold" textLength="67" lengthAdjust="spacingAndGlyphs">8 M JCAR017</text>
<text x="125.00" y="454.30" font-size="9.9" text-anchor="start" fill="#1f6ca3" font-weight="bold" textLength="67" lengthAdjust="spacingAndGlyphs">8 M JCAR017</text>
<path d="M217.0,440.8h2.4 M224.5,440.8h2.8" stroke="#1f6ca3" stroke-width="2" stroke-linecap="round" fill="none"/>
<circle cx="221.90" cy="440.80" r="1.35" fill="#1f6ca3" stroke="none" stroke-width="0.4"/>
<circle cx="230.10" cy="440.80" r="0.8" fill="#1f6ca3" stroke="none" stroke-width="0.4"/>
<rect x="216.45" y="448.30" width="12.60" height="4.60" fill="#fff" stroke="#2b7bb9" stroke-width="0.7"/>
<text x="234.20" y="444.50" font-size="9.9" text-anchor="start" fill="#1f6ca3" font-weight="bold" textLength="67" lengthAdjust="spacingAndGlyphs">4 M JCAR017</text>
<text x="234.20" y="454.30" font-size="9.9" text-anchor="start" fill="#1f6ca3" font-weight="bold" textLength="67" lengthAdjust="spacingAndGlyphs">4 M JCAR017</text>
<line x1="322.40" y1="440.80" x2="335.20" y2="440.80" stroke="#a9d3f0" stroke-width="1.7"/>
<rect x="322.75" y="448.30" width="12.10" height="4.60" fill="#b2d6f1" stroke="#333" stroke-width="0.7"/>
<text x="338.80" y="444.50" font-size="9.9" text-anchor="start" fill="#a9d3f0" font-weight="bold" textLength="67" lengthAdjust="spacingAndGlyphs">8 M JCAR021</text>
<text x="338.80" y="454.30" font-size="9.9" text-anchor="start" fill="#a9d3f0" font-weight="bold" textLength="67" lengthAdjust="spacingAndGlyphs">8 M JCAR021</text>
<path d="M431.7,440.8h2.4 M439.2,440.8h2.8" stroke="#a9d3f0" stroke-width="2" stroke-linecap="round" fill="none"/>
<circle cx="436.60" cy="440.80" r="1.35" fill="#a9d3f0" stroke="none" stroke-width="0.4"/>
<circle cx="444.80" cy="440.80" r="0.8" fill="#a9d3f0" stroke="none" stroke-width="0.4"/>
<rect x="431.15" y="448.30" width="12.60" height="4.60" fill="#fff" stroke="#b7dbf5" stroke-width="0.7"/>
<text x="448.60" y="444.50" font-size="9.9" text-anchor="start" fill="#a9d3f0" font-weight="bold" textLength="67" lengthAdjust="spacingAndGlyphs">4 M JCAR021</text>
<text x="448.60" y="454.30" font-size="9.9" text-anchor="start" fill="#a9d3f0" font-weight="bold" textLength="67" lengthAdjust="spacingAndGlyphs">4 M JCAR017</text>
<line x1="537.00" y1="440.80" x2="550.00" y2="440.80" stroke="#4a4a4a" stroke-width="1.7"/>
<rect x="537.35" y="448.30" width="12.30" height="4.60" fill="#4f4f4f" stroke="#333" stroke-width="0.7"/>
<text x="553.70" y="444.50" font-size="9.9" text-anchor="start" fill="#4a4a4a" font-weight="bold" textLength="49" lengthAdjust="spacingAndGlyphs">8 M mock</text>
<text x="553.70" y="454.30" font-size="9.9" text-anchor="start" fill="#4a4a4a" font-weight="bold" textLength="49" lengthAdjust="spacingAndGlyphs">8 M mock</text>
<line x1="573.30" y1="290.40" x2="573.30" y2="400.60" stroke="#1a1a1a" stroke-width="0.8"/>
<line x1="570.10" y1="400.30" x2="573.30" y2="400.30" stroke="#1a1a1a" stroke-width="0.8"/>
<text x="569.40" y="402.16" font-size="7.4" text-anchor="end" fill="#1a1a1a">10<tspan baseline-shift="3.108" font-size="4.6">3</tspan></text>
<line x1="571.38" y1="392.05" x2="573.30" y2="392.05" stroke="#1a1a1a" stroke-width="0.5599999999999999"/>
<line x1="571.38" y1="387.23" x2="573.30" y2="387.23" stroke="#1a1a1a" stroke-width="0.5599999999999999"/>
<line x1="571.38" y1="383.80" x2="573.30" y2="383.80" stroke="#1a1a1a" stroke-width="0.5599999999999999"/>
<line x1="571.38" y1="381.15" x2="573.30" y2="381.15" stroke="#1a1a1a" stroke-width="0.5599999999999999"/>
<line x1="571.38" y1="378.98" x2="573.30" y2="378.98" stroke="#1a1a1a" stroke-width="0.5599999999999999"/>
<line x1="571.38" y1="377.14" x2="573.30" y2="377.14" stroke="#1a1a1a" stroke-width="0.5599999999999999"/>
<line x1="571.38" y1="375.56" x2="573.30" y2="375.56" stroke="#1a1a1a" stroke-width="0.5599999999999999"/>
<line x1="571.38" y1="374.15" x2="573.30" y2="374.15" stroke="#1a1a1a" stroke-width="0.5599999999999999"/>
<line x1="570.10" y1="372.90" x2="573.30" y2="372.90" stroke="#1a1a1a" stroke-width="0.8"/>
<text x="569.40" y="374.76" font-size="7.4" text-anchor="end" fill="#1a1a1a">10<tspan baseline-shift="3.108" font-size="4.6">4</tspan></text>
<line x1="571.38" y1="364.65" x2="573.30" y2="364.65" stroke="#1a1a1a" stroke-width="0.5599999999999999"/>
<line x1="571.38" y1="359.83" x2="573.30" y2="359.83" stroke="#1a1a1a" stroke-width="0.5599999999999999"/>
<line x1="571.38" y1="356.40" x2="573.30" y2="356.40" stroke="#1a1a1a" stroke-width="0.5599999999999999"/>
<line x1="571.38" y1="353.75" x2="573.30" y2="353.75" stroke="#1a1a1a" stroke-width="0.5599999999999999"/>
<line x1="571.38" y1="351.58" x2="573.30" y2="351.58" stroke="#1a1a1a" stroke-width="0.5599999999999999"/>
<line x1="571.38" y1="349.74" x2="573.30" y2="349.74" stroke="#1a1a1a" stroke-width="0.5599999999999999"/>
<line x1="571.38" y1="348.16" x2="573.30" y2="348.16" stroke="#1a1a1a" stroke-width="0.5599999999999999"/>
<line x1="571.38" y1="346.75" x2="573.30" y2="346.75" stroke="#1a1a1a" stroke-width="0.5599999999999999"/>
<line x1="570.10" y1="345.50" x2="573.30" y2="345.50" stroke="#1a1a1a" stroke-width="0.8"/>
<text x="569.40" y="347.36" font-size="7.4" text-anchor="end" fill="#1a1a1a">10<tspan baseline-shift="3.108" font-size="4.6">5</tspan></text>
<line x1="571.38" y1="337.25" x2="573.30" y2="337.25" stroke="#1a1a1a" stroke-width="0.5599999999999999"/>
<line x1="571.38" y1="332.43" x2="573.30" y2="332.43" stroke="#1a1a1a" stroke-width="0.5599999999999999"/>
<line x1="571.38" y1="329.00" x2="573.30" y2="329.00" stroke="#1a1a1a" stroke-width="0.5599999999999999"/>
<line x1="571.38" y1="326.35" x2="573.30" y2="326.35" stroke="#1a1a1a" stroke-width="0.5599999999999999"/>
<line x1="571.38" y1="324.18" x2="573.30" y2="324.18" stroke="#1a1a1a" stroke-width="0.5599999999999999"/>
<line x1="571.38" y1="322.34" x2="573.30" y2="322.34" stroke="#1a1a1a" stroke-width="0.5599999999999999"/>
<line x1="571.38" y1="320.76" x2="573.30" y2="320.76" stroke="#1a1a1a" stroke-width="0.5599999999999999"/>
<line x1="571.38" y1="319.35" x2="573.30" y2="319.35" stroke="#1a1a1a" stroke-width="0.5599999999999999"/>
<line x1="570.10" y1="318.10" x2="573.30" y2="318.10" stroke="#1a1a1a" stroke-width="0.8"/>
<text x="569.40" y="319.96" font-size="7.4" text-anchor="end" fill="#1a1a1a">10<tspan baseline-shift="3.108" font-size="4.6">6</tspan></text>
<line x1="571.38" y1="309.85" x2="573.30" y2="309.85" stroke="#1a1a1a" stroke-width="0.5599999999999999"/>
<line x1="571.38" y1="305.03" x2="573.30" y2="305.03" stroke="#1a1a1a" stroke-width="0.5599999999999999"/>
<line x1="571.38" y1="301.60" x2="573.30" y2="301.60" stroke="#1a1a1a" stroke-width="0.5599999999999999"/>
<line x1="571.38" y1="298.95" x2="573.30" y2="298.95" stroke="#1a1a1a" stroke-width="0.5599999999999999"/>
<line x1="571.38" y1="296.78" x2="573.30" y2="296.78" stroke="#1a1a1a" stroke-width="0.5599999999999999"/>
<line x1="571.38" y1="294.94" x2="573.30" y2="294.94" stroke="#1a1a1a" stroke-width="0.5599999999999999"/>
<line x1="571.38" y1="293.36" x2="573.30" y2="293.36" stroke="#1a1a1a" stroke-width="0.5599999999999999"/>
<line x1="571.38" y1="291.95" x2="573.30" y2="291.95" stroke="#1a1a1a" stroke-width="0.5599999999999999"/>
<line x1="570.10" y1="290.70" x2="573.30" y2="290.70" stroke="#1a1a1a" stroke-width="0.8"/>
<text x="569.40" y="292.56" font-size="7.4" text-anchor="end" fill="#1a1a1a">10<tspan baseline-shift="3.108" font-size="4.6">7</tspan></text>
<line x1="573.00" y1="400.30" x2="661.20" y2="400.30" stroke="#1a1a1a" stroke-width="0.8"/>
<line x1="595.60" y1="400.30" x2="595.60" y2="403.30" stroke="#1a1a1a" stroke-width="0.8"/>
<text x="595.60" y="410.30" font-size="7.3" text-anchor="middle" fill="#1a1a1a">0</text>
<line x1="617.38" y1="400.30" x2="617.38" y2="403.30" stroke="#1a1a1a" stroke-width="0.8"/>
<text x="617.38" y="410.30" font-size="7.3" text-anchor="middle" fill="#1a1a1a">5</text>
<line x1="639.15" y1="400.30" x2="639.15" y2="403.30" stroke="#1a1a1a" stroke-width="0.8"/>
<text x="639.15" y="410.30" font-size="7.3" text-anchor="middle" fill="#1a1a1a">10</text>
<line x1="660.93" y1="400.30" x2="660.93" y2="403.30" stroke="#1a1a1a" stroke-width="0.8"/>
<text x="660.93" y="410.30" font-size="7.3" text-anchor="middle" fill="#1a1a1a">15</text>
<text x="618.40" y="418.00" font-size="8.1" text-anchor="middle" fill="#1a1a1a">days after CAR-T [d]</text>
<text x="554.80" y="343.40" font-size="8.1" text-anchor="middle" fill="#1a1a1a" transform="rotate(-90 554.80 343.40)">avg. radiance (p/s/cm<tspan baseline-shift="2.6" font-size="5">2</tspan>/sr)</text>
<line x1="577" y1="389.2" x2="662" y2="389.2" stroke="#111" stroke-width="0.9" stroke-dasharray="1.2 1.5"/>
<polyline points="586.70,378.00 621.90,377.00 634.60,388.80" fill="none" stroke="#1d6396" stroke-width="1.5" stroke-linejoin="round"/>
<line x1="586.70" y1="373.50" x2="586.70" y2="378.00" stroke="#1d6396" stroke-width="1.0"/>
<line x1="584.80" y1="373.50" x2="588.60" y2="373.50" stroke="#1d6396" stroke-width="1.0"/>
<circle cx="586.70" cy="378.00" r="1.3" fill="#1d6396" stroke="none" stroke-width="0.4"/>
<line x1="621.90" y1="372.50" x2="621.90" y2="377.00" stroke="#1d6396" stroke-width="1.0"/>
<line x1="620.00" y1="372.50" x2="623.80" y2="372.50" stroke="#1d6396" stroke-width="1.0"/>
<circle cx="621.90" cy="377.00" r="1.3" fill="#1d6396" stroke="none" stroke-width="0.4"/>
<line x1="634.60" y1="384.70" x2="634.60" y2="388.80" stroke="#1d6396" stroke-width="1.0"/>
<line x1="632.70" y1="384.70" x2="636.50" y2="384.70" stroke="#1d6396" stroke-width="1.0"/>
<circle cx="634.60" cy="388.80" r="1.3" fill="#1d6396" stroke="none" stroke-width="0.4"/>
<polyline points="586.70,378.00 621.90,346.90 634.60,375.40" fill="none" stroke="#1d6396" stroke-width="1.5" stroke-linejoin="round" stroke-dasharray="4 2.2"/>
<circle cx="586.70" cy="378.00" r="1.3" fill="#1d6396" stroke="none" stroke-width="0.4"/>
<line x1="621.90" y1="342.40" x2="621.90" y2="346.90" stroke="#1d6396" stroke-width="1.0"/>
<line x1="620.00" y1="342.40" x2="623.80" y2="342.40" stroke="#1d6396" stroke-width="1.0"/>
<circle cx="621.90" cy="346.90" r="1.3" fill="#1d6396" stroke="none" stroke-width="0.4"/>
<line x1="634.60" y1="366.50" x2="634.60" y2="375.40" stroke="#1d6396" stroke-width="1.0"/>
<line x1="632.70" y1="366.50" x2="636.50" y2="366.50" stroke="#1d6396" stroke-width="1.0"/>
<circle cx="634.60" cy="375.40" r="1.3" fill="#1d6396" stroke="none" stroke-width="0.4"/>
<polyline points="586.70,382.50 621.90,325.70 634.60,341.30" fill="none" stroke="#a9d3f0" stroke-width="1.5" stroke-linejoin="round"/>
<line x1="586.70" y1="376.00" x2="586.70" y2="382.50" stroke="#a9d3f0" stroke-width="1.0"/>
<line x1="584.80" y1="376.00" x2="588.60" y2="376.00" stroke="#a9d3f0" stroke-width="1.0"/>
<circle cx="586.70" cy="382.50" r="1.3" fill="#a9d3f0" stroke="none" stroke-width="0.4"/>
<circle cx="621.90" cy="325.70" r="1.3" fill="#a9d3f0" stroke="none" stroke-width="0.4"/>
<line x1="634.60" y1="333.50" x2="634.60" y2="341.30" stroke="#a9d3f0" stroke-width="1.0"/>
<line x1="632.70" y1="333.50" x2="636.50" y2="333.50" stroke="#a9d3f0" stroke-width="1.0"/>
<circle cx="634.60" cy="341.30" r="1.3" fill="#a9d3f0" stroke="none" stroke-width="0.4"/>
<polyline points="586.70,381.40 621.90,320.10 634.60,325.70" fill="none" stroke="#a9d3f0" stroke-width="1.5" stroke-linejoin="round" stroke-dasharray="4 2.2"/>
<circle cx="586.70" cy="381.40" r="1.3" fill="#a9d3f0" stroke="none" stroke-width="0.4"/>
<line x1="621.90" y1="312.30" x2="621.90" y2="320.10" stroke="#a9d3f0" stroke-width="1.0"/>
<line x1="620.00" y1="312.30" x2="623.80" y2="312.30" stroke="#a9d3f0" stroke-width="1.0"/>
<circle cx="621.90" cy="320.10" r="1.3" fill="#a9d3f0" stroke="none" stroke-width="0.4"/>
<line x1="634.60" y1="320.10" x2="634.60" y2="325.70" stroke="#a9d3f0" stroke-width="1.0"/>
<line x1="632.70" y1="320.10" x2="636.50" y2="320.10" stroke="#a9d3f0" stroke-width="1.0"/>
<circle cx="634.60" cy="325.70" r="1.3" fill="#a9d3f0" stroke="none" stroke-width="0.4"/>
<polyline points="586.70,372.50 621.90,305.20" fill="none" stroke="#555" stroke-width="1.6" stroke-linejoin="round"/>
<line x1="586.70" y1="366.90" x2="586.70" y2="372.50" stroke="#555" stroke-width="1.0"/>
<line x1="584.80" y1="366.90" x2="588.60" y2="366.90" stroke="#555" stroke-width="1.0"/>
<circle cx="586.70" cy="372.50" r="1.3" fill="#555" stroke="none" stroke-width="0.4"/>
<line x1="621.90" y1="296.00" x2="621.90" y2="305.20" stroke="#555" stroke-width="1.0"/>
<line x1="620.00" y1="296.00" x2="623.80" y2="296.00" stroke="#555" stroke-width="1.0"/>
<circle cx="621.90" cy="305.20" r="1.3" fill="#555" stroke="none" stroke-width="0.4"/>
<path d="M640.1,342.2 L641.7,342.2 L641.7,388.4 L640.1,388.4" fill="none" stroke="#111" stroke-width="0.7"/>
<path d="M646.9,327.4 L648.6,327.4 L648.6,388.4 L646.9,388.4" fill="none" stroke="#111" stroke-width="0.7"/>
<text x="643.80" y="364.70" font-size="4.7" text-anchor="middle" fill="#222" transform="rotate(90 643.80 364.70)"><tspan font-style="italic">p</tspan> = 0.0006</text>
<text x="650.80" y="357.00" font-size="4.7" text-anchor="middle" fill="#222" transform="rotate(90 650.80 357.00)"><tspan font-style="italic">p</tspan> = 0.008</text>
<text x="59.10" y="481.20" font-size="9.8" text-anchor="middle" fill="#1f6ca3" font-weight="bold">8 M JCAR017</text>
<text x="138.60" y="481.20" font-size="9.8" text-anchor="middle" fill="#1f6ca3" font-weight="bold">4 M JCAR017</text>
<text x="216.80" y="481.20" font-size="9.8" text-anchor="middle" fill="#a9d3f0" font-weight="bold">8 M JCAR021</text>
<text x="293.60" y="481.20" font-size="9.8" text-anchor="middle" fill="#a9d3f0" font-weight="bold">4 M JCAR021</text>
<text x="375.40" y="481.20" font-size="9.8" text-anchor="middle" fill="#3c3c3c" font-weight="bold">8 M mock</text>
<text x="18.00" y="512.90" font-size="9" text-anchor="end" fill="#111">d-1</text>
<text x="18.00" y="562.00" font-size="9" text-anchor="end" fill="#111">d7</text>
<text x="18.00" y="611.90" font-size="9" text-anchor="end" fill="#111">d10</text>
<clipPath id="cb1"><rect x="24.9" y="485.4" width="67.80" height="41.40"/></clipPath>
<g clip-path="url(#cb1)">
<rect x="24.90" y="485.40" width="67.80" height="41.40" fill="#161616" stroke="none" stroke-width="0.6"/>
<rect x="24.90" y="486.60" width="67.80" height="2.20" fill="#2c2c2c" stroke="none" stroke-width="0.6"/>
<path d="M26.3,488.8v6.2M28.9,488.8v6.8M31.5,488.8v7.4M34.1,488.8v6.2M36.7,488.8v6.8M39.3,488.8v7.4M41.9,488.8v6.2M44.5,488.8v6.8M47.1,488.8v7.4M49.7,488.8v6.2M52.3,488.8v6.8M54.9,488.8v7.4M57.5,488.8v6.2M60.1,488.8v6.8M62.7,488.8v7.4M65.3,488.8v6.2M67.9,488.8v6.8M70.5,488.8v7.4M73.1,488.8v6.2M75.7,488.8v6.8M78.3,488.8v7.4M80.9,488.8v6.2M83.5,488.8v6.8M86.1,488.8v7.4M88.7,488.8v6.2M91.3,488.8v6.8" fill="none" stroke="#333" stroke-width="1.1"/>
<rect x="24.90" y="519.80" width="67.80" height="7.00" fill="#1f1f1f" stroke="none" stroke-width="0.6"/>
<g filter="url(#bl)">
<use href="#ms" transform="translate(32.3,491.2) rotate(-0.9) scale(0.96,0.95)"/>
<use href="#ms" transform="translate(43.9,491.7) rotate(0.2) scale(0.98,0.92)"/>
<use href="#ms" transform="translate(55.6,491.2) rotate(-2.3) scale(0.99,0.92)"/>
<use href="#ms" transform="translate(67.9,491.4) rotate(-0.4) scale(1.03,0.92)"/>
<use href="#ms" transform="translate(83.7,491.6) rotate(0.6) scale(1.05,0.94)"/>
<path d="M33.2,506.3h0M33.8,502.4h0M33.2,509.2h0M30.4,517.8h0M33.9,514.4h0M30.6,501.8h0M31.3,505.9h0M34.1,508.2h0M31.0,500.4h0M30.8,514.5h0M30.0,508.2h0M33.5,496.9h0M32.4,515.1h0M32.0,501.3h0M33.7,506.2h0M28.2,512.0h0M34.2,512.7h0M36.3,509.0h0M32.6,498.2h0M34.0,502.6h0M31.0,498.4h0M29.6,503.1h0M28.2,508.2h0M36.3,510.4h0M33.3,501.8h0M29.2,513.0h0M35.4,507.6h0M33.0,509.4h0M36.8,510.6h0M33.8,510.2h0M27.9,514.9h0M35.0,510.0h0M34.7,494.8h0M31.8,513.2h0M28.6,517.1h0M33.8,505.6h0M33.2,510.8h0M32.6,514.0h0M30.4,503.9h0M35.2,506.8h0M29.8,512.8h0M36.4,503.7h0M28.4,505.7h0M31.9,504.7h0M36.2,499.9h0M35.8,498.4h0M30.1,510.7h0M35.5,512.2h0M33.3,507.5h0M32.7,510.3h0M31.8,508.4h0M33.9,506.6h0M34.4,510.3h0M31.1,504.2h0M32.3,512.6h0M31.4,509.1h0M29.2,508.2h0M33.4,508.2h0M31.1,510.9h0M33.1,503.2h0M30.7,506.0h0M31.7,506.2h0M35.1,499.0h0M32.1,512.8h0M34.7,516.3h0M27.5,504.3h0M31.3,510.7h0M35.3,497.2h0M34.2,496.9h0M32.8,514.4h0M31.9,507.8h0M34.5,507.5h0M32.5,520.6h0M33.0,523.0h0M32.8,525.4h0M32.4,527.8h0M33.3,530.2h0M40.7,512.5h0M43.2,507.5h0M45.9,508.0h0M45.7,496.7h0M39.7,510.6h0M41.2,499.9h0M39.8,514.8h0M46.0,516.2h0M41.3,506.6h0M40.7,511.6h0M48.4,500.8h0M48.3,513.0h0M43.4,493.8h0M47.8,506.0h0M42.2,509.2h0M45.0,516.3h0M41.0,514.0h0M48.1,516.0h0M43.4,501.8h0M46.8,507.3h0M44.2,515.9h0M42.8,494.5h0M46.2,508.7h0M42.2,506.5h0M46.2,507.1h0M47.6,506.2h0M46.8,516.3h0M48.4,502.2h0M46.4,494.4h0M40.9,493.8h0M46.9,498.6h0M43.9,505.4h0M43.8,502.8h0M44.6,518.2h0M44.0,510.1h0M46.7,505.3h0M40.4,503.0h0M46.9,495.9h0M42.2,513.1h0M46.1,506.6h0M46.2,507.7h0M40.6,496.4h0M42.1,512.6h0M42.3,500.7h0M41.7,496.6h0M43.6,498.9h0M44.8,502.4h0M41.4,508.5h0M42.6,511.7h0M46.0,510.9h0M44.8,515.3h0M45.7,509.5h0M47.6,504.7h0M42.6,519.2h0M39.0,509.6h0M45.8,518.9h0M43.6,510.2h0M46.4,500.7h0M43.7,508.5h0M46.2,506.4h0M43.4,500.0h0M42.9,512.4h0M44.2,501.1h0M47.1,510.7h0M45.2,517.5h0M45.1,506.2h0M45.4,494.0h0M46.8,508.7h0M41.9,515.2h0M49.0,497.5h0M42.0,508.5h0M44.4,504.0h0M44.4,520.6h0M43.7,523.0h0M43.7,525.4h0M44.6,527.8h0M44.4,530.2h0M60.7,511.9h0M53.2,508.3h0M55.4,510.0h0M53.6,505.8h0M56.9,509.0h0M57.4,508.0h0M54.7,511.7h0M55.7,501.2h0M53.8,506.6h0M55.3,507.6h0M55.6,507.7h0M55.2,498.4h0M56.8,513.4h0M56.8,505.4h0M56.9,500.3h0M50.3,507.0h0M53.0,511.4h0M52.7,516.9h0M54.5,497.7h0M53.5,510.0h0M57.0,507.7h0M59.8,511.2h0M55.5,510.5h0M60.2,512.9h0M58.5,499.6h0M55.2,511.3h0M54.8,513.5h0M57.3,512.5h0M59.1,505.2h0M54.6,512.3h0M58.3,506.6h0M52.3,507.8h0M56.6,513.9h0M57.8,506.8h0M58.0,510.1h0M56.2,507.0h0M54.9,511.1h0M52.6,502.5h0M55.6,497.1h0M53.7,510.3h0M57.2,506.2h0M55.0,497.4h0M60.7,510.0h0M58.7,500.9h0M55.1,494.8h0M57.8,512.7h0M50.3,506.3h0M57.4,495.1h0M50.5,499.7h0M53.8,497.5h0M55.7,508.2h0M57.4,511.2h0M59.8,514.2h0M51.9,503.3h0M52.6,499.6h0M55.4,506.6h0M57.0,496.3h0M52.1,506.4h0M55.0,504.6h0M55.4,501.7h0M57.6,508.9h0M55.4,502.2h0M52.9,506.8h0M51.4,507.9h0M56.0,497.6h0M54.9,504.6h0M56.9,510.6h0M55.5,501.1h0M55.2,506.2h0M57.7,508.5h0M53.6,497.8h0M54.6,501.8h0M52.5,505.8h0M54.2,507.3h0M57.1,503.9h0M56.5,520.6h0M55.7,523.0h0M56.1,525.4h0M55.8,527.8h0M56.1,530.2h0M68.6,510.5h0M71.5,511.6h0M70.6,509.9h0M67.5,509.9h0M64.9,514.3h0M65.1,508.2h0M68.0,514.2h0M68.0,501.4h0M68.6,510.4h0M69.9,501.6h0M72.8,517.4h0M68.0,508.3h0M66.7,515.8h0M65.9,511.0h0M66.6,502.1h0M69.9,515.3h0M67.9,502.2h0M70.2,506.3h0M68.8,516.5h0M71.1,503.2h0M70.1,502.4h0M67.8,495.2h0M72.9,515.5h0M64.5,496.8h0M63.4,514.2h0M66.6,506.2h0M67.0,505.8h0M64.9,506.8h0M63.9,506.1h0M68.8,509.6h0M67.3,500.7h0M68.3,503.4h0M72.3,511.6h0M67.6,503.5h0M65.9,500.5h0M66.9,508.5h0M69.3,510.3h0M62.7,503.2h0M68.4,507.6h0M69.0,505.0h0M68.9,506.9h0M70.1,494.3h0M65.4,506.6h0M65.0,499.8h0M69.7,502.4h0M69.7,511.4h0M68.8,509.9h0M67.6,497.4h0M67.8,509.6h0M66.4,506.0h0M70.0,500.9h0M69.7,518.7h0M66.3,507.6h0M67.5,516.6h0M68.8,512.4h0M66.0,506.5h0M67.9,495.1h0M71.9,512.4h0M63.0,511.4h0M67.5,509.5h0M68.9,496.9h0M67.3,516.3h0M66.3,500.0h0M64.1,498.7h0M68.8,517.6h0M69.1,508.2h0M66.0,510.0h0M69.4,500.0h0M64.6,508.5h0M68.6,498.1h0M67.3,503.1h0M69.2,505.8h0M67.7,504.3h0M70.8,515.6h0M68.0,520.6h0M68.4,523.0h0M67.9,525.4h0M68.1,527.8h0M68.3,530.2h0M87.9,504.1h0M83.5,507.9h0M79.5,506.7h0M81.8,509.0h0M80.5,493.8h0M83.8,508.3h0M82.2,512.4h0M82.9,502.7h0M85.0,496.4h0M81.8,506.5h0M86.1,505.5h0M84.6,502.3h0M84.5,517.4h0M81.9,506.7h0M84.2,513.3h0M85.4,511.8h0M84.3,508.3h0M86.3,509.0h0M88.4,498.6h0M86.0,504.2h0M83.7,504.9h0M82.3,501.2h0M81.9,510.8h0M83.8,507.0h0M83.2,512.5h0M85.1,505.7h0M85.6,505.6h0M80.5,516.1h0M85.0,500.4h0M86.7,508.8h0M79.3,517.1h0M84.6,512.4h0M84.3,505.6h0M79.4,512.9h0M83.8,504.7h0M84.7,507.1h0M85.6,504.2h0M82.5,511.0h0M87.4,504.2h0M83.4,516.9h0M82.8,511.4h0M88.4,506.9h0M87.1,502.0h0M84.3,506.1h0M84.0,513.9h0M82.1,509.8h0M80.7,509.8h0M85.3,504.8h0M85.2,496.5h0M85.8,496.6h0M81.7,503.0h0M82.6,512.2h0M83.9,504.0h0M85.2,516.9h0M83.7,509.0h0M87.2,508.3h0M83.6,509.3h0M86.4,510.9h0M82.9,499.8h0M84.0,513.3h0M80.6,499.9h0M83.6,494.0h0M83.0,503.8h0M85.0,502.0h0M81.2,504.0h0M83.6,502.3h0M83.7,511.5h0M87.0,517.7h0M81.5,503.9h0M81.7,506.4h0M85.2,497.8h0M84.0,520.6h0M83.9,523.0h0M83.4,525.4h0M84.0,527.8h0M84.3,530.2h0M27.6,497.6h0M33.0,493.2h0M90.9,509.5h0M88.0,500.8h0M83.6,504.0h0M42.5,517.6h0M89.0,489.8h0M65.3,511.1h0M39.7,500.7h0M34.5,493.8h0M42.2,510.2h0M69.1,493.8h0M25.7,498.9h0M70.9,493.1h0M46.1,493.8h0M78.8,508.1h0M29.2,489.6h0M51.7,508.2h0M68.2,489.2h0M36.0,514.2h0M52.7,497.1h0M45.8,524.9h0M46.1,508.9h0M49.1,502.6h0M83.5,526.7h0M49.6,493.6h0M74.3,493.8h0M25.3,522.7h0M53.6,519.4h0M52.4,521.9h0M56.1,492.1h0M25.9,508.2h0M68.3,523.1h0M30.9,511.2h0M50.0,506.3h0M34.8,497.1h0M60.2,523.7h0M32.3,505.7h0M79.5,525.4h0M38.3,490.6h0" fill="none" stroke="#6426ea" stroke-width="1.1" stroke-linecap="round"/>
<ellipse cx="32.3" cy="506.8" rx="5.0" ry="3.4" fill="url(#gV)"/>
<ellipse cx="43.9" cy="506.6" rx="5.2" ry="3.4" fill="url(#gV)"/>
<ellipse cx="56.4" cy="507.2" rx="4.2" ry="3.0" fill="url(#gV)"/>
<ellipse cx="67.5" cy="506.2" rx="2.6" ry="2.0" fill="url(#gV)"/>
<ellipse cx="84.0" cy="508.8" rx="5.0" ry="5.4" fill="url(#gV)"/>
<ellipse cx="85.6" cy="510.0" rx="2.8" ry="3.2" fill="url(#gb)"/>
<ellipse cx="31.5" cy="498.0" rx="2.4" ry="2.4" fill="url(#gv)"/>
<ellipse cx="44.5" cy="497.0" rx="2.4" ry="2.4" fill="url(#gv)"/>
<ellipse cx="55.0" cy="498.0" rx="2.0" ry="2.0" fill="url(#gv)"/>
<ellipse cx="83.0" cy="499.0" rx="2.2" ry="2.2" fill="url(#gv)"/>
</g></g>
<clipPath id="cb2"><rect x="101" y="485.4" width="76.20" height="41.40"/></clipPath>
<g clip-path="url(#cb2)">
<rect x="101.00" y="485.40" width="76.20" height="41.40" fill="#161616" stroke="none" stroke-width="0.6"/>
<rect x="101.00" y="486.60" width="76.20" height="2.20" fill="#2c2c2c" stroke="none" stroke-width="0.6"/>
<path d="M102.4,488.8v6.2M105.0,488.8v6.8M107.6,488.8v7.4M110.2,488.8v6.2M112.8,488.8v6.8M115.4,488.8v7.4M118.0,488.8v6.2M120.6,488.8v6.8M123.2,488.8v7.4M125.8,488.8v6.2M128.4,488.8v6.8M131.0,488.8v7.4M133.6,488.8v6.2M136.2,488.8v6.8M138.8,488.8v7.4M141.4,488.8v6.2M144.0,488.8v6.8M146.6,488.8v7.4M149.2,488.8v6.2M151.8,488.8v6.8M154.4,488.8v7.4M157.0,488.8v6.2M159.6,488.8v6.8M162.2,488.8v7.4M164.8,488.8v6.2M167.4,488.8v6.8M170.0,488.8v7.4M172.6,488.8v6.2M175.2,488.8v6.8" fill="none" stroke="#333" stroke-width="1.1"/>
<rect x="101.00" y="519.80" width="76.20" height="7.00" fill="#1f1f1f" stroke="none" stroke-width="0.6"/>
<g filter="url(#bl)">
<use href="#ms" transform="translate(107.3,491.2) rotate(-3.8) scale(1.21,0.94)"/>
<use href="#ms" transform="translate(126.0,491.8) rotate(2.1) scale(0.98,0.96)"/>
<use href="#ms" transform="translate(138.9,491.4) rotate(1.6) scale(0.96,0.96)"/>
<use href="#ms" transform="translate(152.3,491.3) rotate(-0.5) scale(1.04,0.96)"/>
<use href="#ms" transform="translate(166.9,491.6) rotate(-1.4) scale(0.99,0.94)"/>
<path d="M102.1,510.1h0M108.8,504.4h0M108.2,506.7h0M106.5,508.3h0M106.1,499.9h0M105.2,502.7h0M105.6,499.1h0M109.1,498.1h0M109.1,500.0h0M108.3,515.5h0M107.9,501.8h0M107.4,507.6h0M102.4,502.7h0M107.8,503.6h0M107.5,511.4h0M109.4,512.5h0M108.9,504.7h0M107.2,504.8h0M106.4,505.4h0M102.5,504.4h0M107.2,500.3h0M107.2,510.0h0M102.2,513.0h0M107.7,510.0h0M106.5,510.2h0M108.3,506.7h0M105.7,510.7h0M105.9,508.1h0M107.2,507.9h0M109.4,500.9h0M107.2,510.6h0M107.7,514.7h0M101.9,512.2h0M111.6,512.6h0M109.6,502.6h0M105.3,512.4h0M104.7,494.8h0M112.7,502.1h0M105.3,508.1h0M105.2,515.1h0M107.1,499.5h0M111.0,502.8h0M107.9,506.5h0M106.4,508.7h0M107.3,520.6h0M106.9,523.0h0M106.8,525.4h0M107.1,527.8h0M107.3,530.2h0M125.9,507.0h0M127.6,507.4h0M123.8,502.0h0M127.4,510.0h0M125.7,505.5h0M128.6,506.7h0M128.1,510.4h0M126.6,515.1h0M124.4,504.3h0M123.7,501.4h0M130.4,518.0h0M126.1,510.3h0M129.3,511.8h0M129.4,498.4h0M124.2,509.5h0M130.0,507.3h0M123.6,504.3h0M124.2,501.0h0M130.2,502.5h0M129.3,508.8h0M124.3,509.3h0M130.5,510.6h0M129.5,507.2h0M127.4,505.3h0M127.2,515.1h0M122.0,506.2h0M126.7,502.9h0M125.1,511.7h0M126.9,496.5h0M131.4,507.1h0M125.9,499.3h0M125.8,499.5h0M126.2,509.6h0M126.1,508.4h0M123.6,515.9h0M124.2,494.8h0M125.5,501.6h0M123.2,504.3h0M126.8,498.9h0M125.6,515.9h0M127.9,505.6h0M126.4,505.8h0M125.9,511.4h0M125.9,500.8h0M127.8,502.6h0M123.1,499.3h0M125.6,520.6h0M126.3,523.0h0M126.0,525.4h0M125.6,527.8h0M125.8,530.2h0M140.6,501.6h0M137.9,508.7h0M142.7,519.2h0M141.8,507.5h0M139.4,518.3h0M142.9,504.6h0M140.2,508.5h0M139.0,503.3h0M135.2,503.1h0M134.6,514.6h0M140.4,498.8h0M142.8,512.4h0M133.6,518.6h0M135.5,510.0h0M140.1,507.9h0M139.4,513.4h0M134.7,498.5h0M135.0,503.0h0M137.2,509.0h0M139.6,506.8h0M137.0,503.7h0M141.6,511.6h0M139.2,504.5h0M143.2,502.7h0M140.7,514.1h0M138.2,512.0h0M135.8,513.2h0M139.5,496.3h0M140.8,500.8h0M142.5,502.2h0M138.4,508.4h0M138.0,508.3h0M137.4,511.0h0M138.9,508.0h0M139.0,495.0h0M139.2,509.6h0M141.9,499.6h0M143.2,505.6h0M140.8,504.2h0M135.8,513.7h0M141.4,516.6h0M141.3,502.9h0M134.2,502.4h0M137.0,501.3h0M140.5,508.7h0M138.1,507.7h0M138.5,508.0h0M141.0,512.8h0M137.0,496.8h0M139.5,520.6h0M139.1,523.0h0M139.4,525.4h0M138.6,527.8h0M139.0,530.2h0M152.4,497.2h0M150.9,511.3h0M155.3,517.0h0M149.9,497.5h0M153.8,512.7h0M152.8,498.1h0M154.5,511.8h0M153.8,503.4h0M153.2,511.7h0M150.7,494.6h0M153.2,509.7h0M152.3,512.4h0M150.7,506.1h0M151.4,510.3h0M156.8,505.0h0M154.5,510.4h0M157.3,505.4h0M152.0,499.7h0M153.6,515.3h0M153.8,509.4h0M151.7,507.7h0M148.3,513.4h0M151.2,499.4h0M150.2,501.2h0M154.7,513.5h0M148.5,512.6h0M154.8,502.8h0M148.1,501.8h0M150.5,508.8h0M153.0,496.6h0M154.8,498.8h0M150.4,501.0h0M150.8,515.0h0M154.7,510.5h0M153.2,496.5h0M150.8,503.0h0M149.6,509.9h0M150.2,502.0h0M154.0,515.3h0M152.8,500.3h0M155.7,508.5h0M154.9,516.2h0M155.5,503.7h0M155.2,511.6h0M148.0,504.0h0M148.3,505.9h0M153.9,499.7h0M152.6,520.6h0M152.9,523.0h0M152.1,525.4h0M152.8,527.8h0M153.1,530.2h0M167.7,505.6h0M169.7,513.3h0M167.1,497.8h0M169.0,503.5h0M168.7,508.3h0M171.4,514.0h0M165.6,508.9h0M171.8,503.1h0M168.1,514.3h0M170.4,510.0h0M163.2,498.4h0M167.6,509.1h0M170.1,511.6h0M162.2,501.3h0M167.4,503.4h0M166.5,509.7h0M164.6,509.6h0M165.1,503.1h0M168.4,502.9h0M167.7,517.0h0M167.0,505.7h0M169.0,504.2h0M169.9,498.3h0M168.6,503.3h0M164.7,518.1h0M164.5,518.0h0M168.7,516.0h0M164.2,514.4h0M171.0,505.8h0M167.4,503.9h0M165.1,509.5h0M167.8,507.8h0M171.7,504.5h0M168.2,516.1h0M164.1,513.4h0M172.0,497.8h0M163.8,499.9h0M161.7,509.5h0M161.7,509.8h0M171.0,496.1h0M166.0,494.1h0M169.1,501.8h0M166.2,507.0h0M168.4,504.3h0M166.9,503.0h0M167.2,499.0h0M167.1,494.0h0M165.5,519.0h0M167.1,498.4h0M167.2,520.6h0M166.8,523.0h0M166.6,525.4h0M166.9,527.8h0M167.3,530.2h0M174.2,488.5h0M149.5,511.7h0M103.2,510.6h0M153.0,524.0h0M126.2,526.0h0M139.9,505.5h0M169.4,486.8h0M155.7,511.3h0M126.8,521.1h0M128.9,505.0h0M141.0,517.3h0M117.1,503.4h0M133.2,508.3h0M164.0,497.5h0M164.1,502.1h0M139.4,496.6h0M139.6,525.8h0M150.9,518.2h0M126.2,498.5h0M123.8,509.7h0M149.4,517.9h0M104.1,515.3h0M168.5,508.0h0M104.8,497.8h0M101.5,493.3h0M171.2,510.6h0" fill="none" stroke="#6426ea" stroke-width="1.1" stroke-linecap="round"/>
<ellipse cx="129.0" cy="510.6" rx="2.7" ry="2.7" fill="url(#gV)"/>
<ellipse cx="139.8" cy="508.6" rx="5.2" ry="4.6" fill="url(#gV)"/>
<ellipse cx="142.0" cy="510.0" rx="2.8" ry="2.8" fill="url(#gb)"/>
<ellipse cx="151.6" cy="509.6" rx="3.8" ry="3.8" fill="url(#gV)"/>
<ellipse cx="156.4" cy="513.6" rx="2.6" ry="2.6" fill="url(#gV)"/>
<ellipse cx="166.0" cy="510.0" rx="3.6" ry="2.8" fill="url(#gV)"/>
<ellipse cx="169.0" cy="510.6" rx="1.8" ry="1.8" fill="url(#gv)"/>
</g></g>
<clipPath id="cb3"><rect x="186.2" y="485.4" width="60.60" height="41.40"/></clipPath>
<g clip-path="url(#cb3)">
<rect x="186.20" y="485.40" width="60.60" height="41.40" fill="#161616" stroke="none" stroke-width="0.6"/>
<rect x="186.20" y="486.60" width="60.60" height="2.20" fill="#2c2c2c" stroke="none" stroke-width="0.6"/>
<path d="M187.6,488.8v6.2M190.2,488.8v6.8M192.8,488.8v7.4M195.4,488.8v6.2M198.0,488.8v6.8M200.6,488.8v7.4M203.2,488.8v6.2M205.8,488.8v6.8M208.4,488.8v7.4M211.0,488.8v6.2M213.6,488.8v6.8M216.2,488.8v7.4M218.8,488.8v6.2M221.4,488.8v6.8M224.0,488.8v7.4M226.6,488.8v6.2M229.2,488.8v6.8M231.8,488.8v7.4M234.4,488.8v6.2M237.0,488.8v6.8M239.6,488.8v7.4M242.2,488.8v6.2M244.8,488.8v6.8" fill="none" stroke="#333" stroke-width="1.1"/>
<rect x="186.20" y="519.80" width="60.60" height="7.00" fill="#1f1f1f" stroke="none" stroke-width="0.6"/>
<g filter="url(#bl)">
<use href="#ms" transform="translate(196.8,491.8) rotate(0.8) scale(1.03,0.96)"/>
<use href="#ms" transform="translate(211.1,491.8) rotate(0.6) scale(1.01,0.95)"/>
<use href="#ms" transform="translate(223.2,491.6) rotate(0.9) scale(0.96,0.95)"/>
<use href="#ms" transform="translate(236.1,491.1) rotate(1.3) scale(0.95,0.92)"/>
<path d="M195.3,501.4h0M199.0,496.3h0M194.8,504.7h0M195.9,513.0h0M195.6,512.9h0M192.7,494.8h0M200.2,509.4h0M198.2,507.4h0M198.2,498.7h0M199.5,503.1h0M199.6,507.2h0M200.0,505.7h0M195.7,508.2h0M195.6,503.1h0M197.1,507.5h0M201.0,506.9h0M202.1,518.3h0M201.6,513.5h0M197.2,507.5h0M196.4,501.8h0M196.6,502.4h0M201.4,510.1h0M195.5,494.1h0M196.7,503.9h0M193.8,499.2h0M196.7,505.6h0M200.8,507.5h0M197.3,504.2h0M195.1,516.3h0M199.6,517.8h0M195.8,506.8h0M194.3,512.9h0M192.9,510.3h0M199.9,515.8h0M196.7,520.6h0M197.3,523.0h0M196.8,525.4h0M196.8,527.8h0M196.6,530.2h0M214.3,517.3h0M209.4,501.7h0M213.9,503.1h0M206.1,502.2h0M214.4,518.7h0M210.4,502.1h0M209.7,494.3h0M213.6,499.5h0M214.1,495.5h0M207.5,508.5h0M209.0,511.7h0M211.1,499.0h0M212.8,512.1h0M205.7,518.5h0M212.5,511.5h0M205.9,501.9h0M210.1,513.6h0M207.0,500.9h0M212.1,495.6h0M209.4,509.9h0M215.5,510.9h0M210.2,498.9h0M208.5,502.3h0M211.5,506.3h0M215.8,508.5h0M208.1,516.6h0M213.8,507.3h0M209.1,494.4h0M208.2,512.5h0M208.9,498.0h0M211.6,508.2h0M212.8,510.9h0M215.0,501.1h0M213.8,500.2h0M213.0,507.8h0M211.8,512.9h0M211.3,520.6h0M211.6,523.0h0M211.6,525.4h0M211.3,527.8h0M211.1,530.2h0M221.1,503.2h0M222.6,506.4h0M225.4,501.0h0M221.2,504.5h0M223.7,499.9h0M227.7,502.9h0M223.2,508.4h0M223.7,510.5h0M224.0,507.7h0M217.9,502.0h0M224.1,505.3h0M220.9,502.8h0M228.4,517.9h0M223.0,515.0h0M218.8,494.0h0M221.8,500.9h0M221.6,507.8h0M223.3,508.4h0M223.1,512.7h0M228.2,498.5h0M223.7,504.9h0M224.2,496.6h0M224.7,507.8h0M222.2,501.7h0M219.2,500.6h0M225.2,510.1h0M223.1,509.9h0M221.5,507.1h0M223.3,510.2h0M223.0,505.7h0M222.8,502.4h0M223.5,520.6h0M224.1,523.0h0M223.8,525.4h0M222.9,527.8h0M223.6,530.2h0M238.4,518.9h0M239.8,511.6h0M232.8,500.9h0M236.9,509.9h0M233.2,504.1h0M235.0,507.0h0M237.0,504.7h0M232.6,514.7h0M240.6,505.9h0M239.0,509.5h0M237.9,509.7h0M234.0,510.3h0M238.9,500.8h0M241.2,519.5h0M238.2,504.4h0M234.4,501.3h0M236.4,506.4h0M236.0,511.0h0M237.4,508.4h0M235.5,505.8h0M233.8,507.8h0M236.0,508.7h0M233.7,506.9h0M236.2,510.5h0M233.1,509.3h0M238.9,510.5h0M235.1,503.4h0M235.4,511.3h0M240.4,505.6h0M234.3,509.0h0M236.7,500.7h0M234.0,505.9h0M238.0,498.8h0M233.2,509.8h0M232.7,507.3h0M236.4,520.6h0M236.3,523.0h0M236.0,525.4h0M236.3,527.8h0M236.2,530.2h0M235.3,499.3h0M237.2,521.2h0M216.1,486.0h0M241.4,505.1h0M239.0,496.4h0M197.5,519.8h0M208.4,492.2h0M208.7,510.0h0M186.5,506.9h0M213.2,506.7h0M193.5,515.0h0M235.7,521.2h0M205.7,514.8h0M209.3,516.5h0M189.9,521.5h0M244.0,505.9h0M217.3,507.4h0M218.8,486.3h0M244.8,494.7h0" fill="none" stroke="#6426ea" stroke-width="1.1" stroke-linecap="round"/>
<ellipse cx="197.6" cy="502.4" rx="2.6" ry="2.6" fill="url(#gv)"/>
<ellipse cx="192.9" cy="515.0" rx="2.4" ry="2.4" fill="url(#gv)"/>
<ellipse cx="206.9" cy="511.5" rx="2.2" ry="2.2" fill="url(#gv)"/>
<ellipse cx="212.7" cy="521.0" rx="2.0" ry="3.4" fill="url(#gv)"/>
<ellipse cx="226.6" cy="510.4" rx="3.8" ry="3.8" fill="url(#gV)"/>
<ellipse cx="224.0" cy="516.0" rx="2.2" ry="2.2" fill="url(#gv)"/>
<ellipse cx="236.3" cy="509.4" rx="4.6" ry="4.6" fill="url(#gV)"/>
<ellipse cx="240.3" cy="510.6" rx="2.6" ry="2.6" fill="url(#gb)"/>
<ellipse cx="197.0" cy="523.0" rx="1.4" ry="3.0" fill="url(#gv)"/>
<ellipse cx="223.4" cy="523.0" rx="1.4" ry="3.0" fill="url(#gv)"/>
</g></g>
<clipPath id="cb4"><rect x="256" y="485.4" width="76.00" height="41.40"/></clipPath>
<g clip-path="url(#cb4)">
<rect x="256.00" y="485.40" width="76.00" height="41.40" fill="#161616" stroke="none" stroke-width="0.6"/>
<rect x="256.00" y="486.60" width="76.00" height="2.20" fill="#2c2c2c" stroke="none" stroke-width="0.6"/>
<path d="M257.4,488.8v6.2M260.0,488.8v6.8M262.6,488.8v7.4M265.2,488.8v6.2M267.8,488.8v6.8M270.4,488.8v7.4M273.0,488.8v6.2M275.6,488.8v6.8M278.2,488.8v7.4M280.8,488.8v6.2M283.4,488.8v6.8M286.0,488.8v7.4M288.6,488.8v6.2M291.2,488.8v6.8M293.8,488.8v7.4M296.4,488.8v6.2M299.0,488.8v6.8M301.6,488.8v7.4M304.2,488.8v6.2M306.8,488.8v6.8M309.4,488.8v7.4M312.0,488.8v6.2M314.6,488.8v6.8M317.2,488.8v7.4M319.8,488.8v6.2M322.4,488.8v6.8M325.0,488.8v7.4M327.6,488.8v6.2M330.2,488.8v6.8" fill="none" stroke="#333" stroke-width="1.1"/>
<rect x="256.00" y="519.80" width="76.00" height="7.00" fill="#1f1f1f" stroke="none" stroke-width="0.6"/>
<g filter="url(#bl)">
<use href="#ms" transform="translate(266.0,492.1) rotate(-1.6) scale(0.95,0.93)"/>
<use href="#ms" transform="translate(278.6,491.3) rotate(-2.3) scale(0.95,0.95)"/>
<use href="#ms" transform="translate(292.1,491.7) rotate(-2.4) scale(1.01,0.94)"/>
<use href="#ms" transform="translate(306.2,492.0) rotate(1.0) scale(0.95,0.96)"/>
<use href="#ms" transform="translate(319.5,491.7) rotate(-2.3) scale(0.95,0.94)"/>
<path d="M265.7,509.9h0M264.7,508.6h0M261.3,499.6h0M268.2,513.4h0M266.0,502.7h0M263.8,511.0h0M267.8,499.9h0M260.7,516.0h0M266.4,500.8h0M266.2,512.5h0M268.2,495.0h0M269.2,509.2h0M266.0,513.4h0M264.2,502.0h0M265.0,506.1h0M263.0,509.7h0M267.5,507.1h0M270.8,504.5h0M269.7,503.0h0M268.1,494.0h0M266.6,505.5h0M264.6,502.6h0M265.0,501.9h0M266.0,520.6h0M266.0,523.0h0M265.9,525.4h0M266.2,527.8h0M266.4,530.2h0M277.9,503.4h0M282.4,513.0h0M281.2,514.1h0M277.7,505.8h0M281.7,503.0h0M278.3,509.1h0M279.6,504.8h0M281.4,505.4h0M280.6,513.6h0M280.4,511.4h0M275.4,498.1h0M276.9,509.7h0M282.8,498.7h0M279.5,501.0h0M276.5,504.8h0M280.5,508.0h0M281.9,500.2h0M281.1,512.6h0M278.8,509.7h0M277.0,499.5h0M277.5,502.4h0M283.2,507.9h0M279.5,511.4h0M276.4,512.6h0M279.7,496.7h0M280.3,510.2h0M279.9,516.9h0M278.7,520.6h0M279.0,523.0h0M279.0,525.4h0M278.5,527.8h0M279.2,530.2h0M288.0,498.1h0M293.6,499.5h0M291.8,495.9h0M292.3,499.2h0M293.1,496.6h0M293.4,504.9h0M292.3,506.2h0M292.5,498.0h0M289.5,503.6h0M293.3,493.7h0M290.0,502.6h0M289.1,508.7h0M291.7,501.3h0M289.3,511.8h0M290.3,510.4h0M293.4,494.3h0M289.1,506.6h0M293.1,511.7h0M294.3,513.3h0M291.1,505.2h0M294.3,503.8h0M295.1,496.3h0M293.9,505.5h0M293.0,506.7h0M289.1,503.6h0M296.3,501.2h0M291.3,520.6h0M292.0,523.0h0M291.9,525.4h0M292.3,527.8h0M292.2,530.2h0M303.6,501.1h0M309.1,497.2h0M303.1,511.7h0M307.8,499.8h0M308.3,494.6h0M303.6,513.9h0M305.5,498.1h0M307.6,512.6h0M306.1,494.9h0M305.2,509.3h0M308.4,518.6h0M305.5,503.5h0M306.1,514.4h0M303.6,515.1h0M304.3,509.6h0M308.1,498.9h0M306.0,508.2h0M307.8,500.6h0M303.4,494.1h0M305.6,496.9h0M308.8,503.1h0M310.2,512.1h0M306.3,511.3h0M303.1,504.5h0M304.6,498.3h0M306.4,520.6h0M306.4,523.0h0M306.8,525.4h0M305.4,527.8h0M306.2,530.2h0M316.9,503.6h0M320.7,509.2h0M319.6,503.5h0M320.9,508.9h0M314.3,504.9h0M315.7,498.9h0M319.9,507.0h0M319.8,500.9h0M318.9,500.7h0M320.6,511.1h0M324.4,514.8h0M317.2,503.6h0M316.9,508.6h0M315.9,509.9h0M319.5,508.5h0M324.5,501.2h0M317.1,519.4h0M320.5,501.5h0M319.6,513.1h0M319.1,502.1h0M317.4,519.0h0M314.6,507.7h0M319.6,510.6h0M318.4,509.8h0M319.9,520.6h0M319.7,523.0h0M319.6,525.4h0M319.6,527.8h0M319.4,530.2h0M286.6,488.1h0M265.4,519.6h0M282.7,495.5h0M270.5,497.1h0M274.0,486.8h0M306.5,499.5h0M267.8,514.6h0M263.0,496.6h0M319.5,490.7h0M289.7,520.0h0M317.2,492.0h0M282.8,515.3h0M284.6,525.1h0M271.8,524.8h0" fill="none" stroke="#6426ea" stroke-width="1.1" stroke-linecap="round"/>
<ellipse cx="265.3" cy="503.4" rx="3.2" ry="3.2" fill="url(#gV)"/>
<ellipse cx="268.4" cy="510.6" rx="3.8" ry="3.8" fill="url(#gV)"/>
<ellipse cx="282.2" cy="510.6" rx="4.4" ry="4.4" fill="url(#gV)"/>
<ellipse cx="283.0" cy="511.0" rx="2.6" ry="2.6" fill="url(#gb)"/>
<ellipse cx="289.7" cy="509.2" rx="3.2" ry="3.2" fill="url(#gV)"/>
<ellipse cx="295.0" cy="510.0" rx="3.0" ry="3.0" fill="url(#gV)"/>
<ellipse cx="319.5" cy="500.0" rx="1.8" ry="1.8" fill="url(#gv)"/>
<ellipse cx="321.4" cy="515.0" rx="1.8" ry="1.8" fill="url(#gv)"/>
<ellipse cx="266.4" cy="523.0" rx="1.4" ry="3.0" fill="url(#gv)"/>
</g></g>
<clipPath id="cb5"><rect x="340.9" y="485.4" width="69.80" height="41.40"/></clipPath>
<g clip-path="url(#cb5)">
<rect x="340.90" y="485.40" width="69.80" height="41.40" fill="#161616" stroke="none" stroke-width="0.6"/>
<rect x="340.90" y="486.60" width="69.80" height="2.20" fill="#2c2c2c" stroke="none" stroke-width="0.6"/>
<path d="M342.3,488.8v6.2M344.9,488.8v6.8M347.5,488.8v7.4M350.1,488.8v6.2M352.7,488.8v6.8M355.3,488.8v7.4M357.9,488.8v6.2M360.5,488.8v6.8M363.1,488.8v7.4M365.7,488.8v6.2M368.3,488.8v6.8M370.9,488.8v7.4M373.5,488.8v6.2M376.1,488.8v6.8M378.7,488.8v7.4M381.3,488.8v6.2M383.9,488.8v6.8M386.5,488.8v7.4M389.1,488.8v6.2M391.7,488.8v6.8M394.3,488.8v7.4M396.9,488.8v6.2M399.5,488.8v6.8M402.1,488.8v7.4M404.7,488.8v6.2M407.3,488.8v6.8" fill="none" stroke="#333" stroke-width="1.1"/>
<rect x="340.90" y="519.80" width="69.80" height="7.00" fill="#1f1f1f" stroke="none" stroke-width="0.6"/>
<g filter="url(#bl)">
<use href="#ms" transform="translate(351.0,491.3) rotate(0.0) scale(0.97,0.94)"/>
<use href="#ms" transform="translate(364.3,491.8) rotate(1.0) scale(0.97,0.96)"/>
<use href="#ms" transform="translate(377.2,491.4) rotate(-0.7) scale(0.97,0.95)"/>
<use href="#ms" transform="translate(390.0,491.8) rotate(1.9) scale(0.95,0.94)"/>
<use href="#ms" transform="translate(402.5,491.9) rotate(-1.1) scale(1.03,0.93)"/>
<path d="M350.4,501.5h0M350.0,504.5h0M351.8,512.2h0M355.9,502.5h0M354.7,513.1h0M353.3,501.7h0M353.5,505.9h0M352.0,504.9h0M352.9,513.8h0M354.2,505.3h0M353.8,516.0h0M348.4,516.2h0M347.3,510.1h0M352.7,516.2h0M351.8,503.5h0M348.8,498.5h0M353.1,505.1h0M349.0,510.1h0M348.9,503.8h0M349.7,517.4h0M355.1,505.6h0M346.6,508.4h0M351.2,508.9h0M352.6,504.5h0M353.6,512.0h0M351.6,504.0h0M349.7,511.1h0M347.9,505.6h0M348.9,497.5h0M352.7,506.4h0M351.1,512.3h0M346.8,506.2h0M351.8,512.0h0M348.0,511.3h0M351.6,515.4h0M354.2,510.2h0M349.8,504.4h0M348.4,506.4h0M345.7,506.1h0M352.2,513.0h0M350.0,515.6h0M349.2,505.7h0M345.7,501.7h0M348.8,516.1h0M352.5,499.6h0M352.5,509.7h0M350.4,506.7h0M350.2,503.2h0M346.2,506.0h0M354.5,515.7h0M350.2,501.9h0M350.4,512.3h0M352.0,502.9h0M352.0,505.3h0M352.4,504.0h0M347.0,507.0h0M353.1,499.6h0M350.7,512.2h0M350.0,502.5h0M353.8,500.6h0M355.5,496.1h0M349.6,511.3h0M354.6,500.7h0M349.2,507.8h0M345.7,510.6h0M352.5,503.8h0M352.5,511.5h0M351.8,509.9h0M355.1,503.6h0M351.4,503.3h0M351.5,520.6h0M351.1,523.0h0M351.3,525.4h0M351.2,527.8h0M351.2,530.2h0M369.0,506.1h0M368.1,511.8h0M367.9,505.6h0M366.8,511.4h0M362.6,508.3h0M364.0,506.4h0M367.8,502.1h0M359.7,495.7h0M363.1,502.6h0M364.3,510.2h0M369.1,508.5h0M365.6,502.0h0M365.9,515.1h0M367.9,494.3h0M366.7,516.5h0M366.5,497.2h0M363.5,510.3h0M365.4,501.5h0M361.9,512.6h0M360.7,515.6h0M364.4,508.5h0M360.7,502.9h0M366.2,497.4h0M361.0,506.9h0M365.6,511.2h0M363.3,505.3h0M363.7,503.0h0M365.0,507.6h0M362.6,508.2h0M364.3,506.1h0M367.3,495.8h0M365.0,499.9h0M363.4,516.0h0M361.4,506.0h0M362.7,512.5h0M361.7,496.1h0M365.7,504.4h0M363.4,513.3h0M361.9,504.3h0M364.7,509.2h0M362.9,513.1h0M368.1,504.5h0M364.7,504.5h0M362.6,498.6h0M363.2,514.7h0M367.4,504.4h0M362.9,502.2h0M361.1,517.9h0M366.1,507.3h0M363.0,500.2h0M367.8,511.5h0M361.7,512.8h0M361.3,510.6h0M361.7,504.0h0M365.6,509.3h0M367.0,501.4h0M368.5,515.0h0M364.3,509.5h0M362.2,505.6h0M360.7,507.2h0M364.8,515.0h0M366.8,511.7h0M363.3,505.2h0M363.4,508.0h0M359.1,511.4h0M360.1,503.4h0M364.4,503.4h0M368.8,506.0h0M365.0,520.6h0M364.8,523.0h0M364.4,525.4h0M364.6,527.8h0M364.9,530.2h0M376.3,507.2h0M375.7,507.0h0M376.2,507.1h0M379.9,515.3h0M377.6,507.9h0M379.5,504.8h0M374.4,513.5h0M374.7,512.4h0M374.6,518.0h0M374.4,511.9h0M381.2,500.6h0M381.2,501.5h0M372.5,511.1h0M379.1,505.3h0M376.4,504.2h0M376.4,495.4h0M375.7,517.8h0M381.4,504.3h0M375.3,509.1h0M380.1,511.1h0M374.1,507.6h0M377.6,515.6h0M380.4,509.9h0M380.5,504.1h0M381.3,503.9h0M378.3,512.3h0M374.7,502.2h0M372.5,507.6h0M377.1,504.6h0M377.1,507.1h0M376.5,511.6h0M381.9,503.8h0M374.7,502.8h0M377.4,510.3h0M374.9,512.8h0M374.4,511.8h0M378.3,509.5h0M376.8,509.6h0M379.5,498.2h0M377.9,502.0h0M378.9,515.1h0M377.3,505.9h0M379.3,510.1h0M377.6,504.1h0M375.2,505.5h0M380.5,506.0h0M376.0,508.3h0M377.2,496.2h0M375.4,514.4h0M373.7,500.4h0M374.3,503.2h0M378.9,510.3h0M375.6,502.9h0M381.7,506.1h0M373.9,502.6h0M375.2,500.3h0M376.3,512.1h0M378.1,498.0h0M377.5,506.8h0M379.2,504.6h0M377.5,499.8h0M378.1,501.6h0M376.2,507.8h0M378.1,504.8h0M377.6,520.6h0M377.3,523.0h0M377.0,525.4h0M377.7,527.8h0M377.3,530.2h0M393.3,502.5h0M391.5,508.6h0M387.0,515.4h0M384.9,512.3h0M392.9,509.7h0M391.8,503.5h0M390.0,508.0h0M391.1,511.0h0M389.4,502.2h0M388.5,509.2h0M385.5,498.8h0M388.9,503.1h0M389.1,505.0h0M392.1,494.2h0M389.2,509.6h0M391.3,514.1h0M392.8,500.0h0M391.7,504.5h0M387.8,516.2h0M388.3,501.3h0M388.9,501.3h0M392.7,509.0h0M393.8,509.2h0M388.3,513.1h0M388.2,503.7h0M389.5,506.8h0M393.2,502.8h0M390.9,506.4h0M386.6,499.8h0M389.4,509.1h0M390.9,509.6h0M390.1,503.8h0M391.1,500.3h0M386.4,504.5h0M386.1,503.4h0M388.0,503.1h0M389.9,501.6h0M388.9,495.9h0M390.4,501.1h0M387.8,508.1h0M390.3,507.2h0M386.0,508.0h0M390.4,500.5h0M392.0,506.3h0M390.1,503.8h0M391.5,507.2h0M393.1,509.4h0M388.3,505.2h0M392.5,504.3h0M391.0,509.9h0M390.4,507.9h0M390.4,501.8h0M393.3,505.8h0M388.3,502.1h0M391.0,499.7h0M387.3,519.2h0M393.5,513.2h0M393.7,510.3h0M385.4,514.1h0M393.4,509.7h0M384.7,514.4h0M393.7,503.5h0M390.3,511.5h0M389.8,513.5h0M390.2,511.0h0M390.2,497.3h0M390.3,520.6h0M390.6,523.0h0M390.5,525.4h0M390.7,527.8h0M390.4,530.2h0M400.9,506.7h0M397.3,505.4h0M403.0,511.8h0M406.1,500.8h0M400.7,494.8h0M399.7,510.0h0M406.2,509.3h0M402.9,512.8h0M406.2,509.8h0M403.5,505.4h0M401.4,498.8h0M407.8,503.8h0M402.4,507.7h0M407.4,505.9h0M401.8,501.9h0M402.4,503.8h0M403.6,501.2h0M407.8,512.1h0M404.7,511.1h0M404.7,510.9h0M406.3,513.0h0M406.2,503.4h0M402.5,502.0h0M405.1,511.9h0M401.2,510.3h0M399.5,506.0h0M404.2,506.4h0M403.6,514.1h0M403.4,499.7h0M404.4,506.0h0M402.8,503.0h0M398.7,498.7h0M401.5,499.8h0M399.3,502.0h0M406.2,501.7h0M404.3,503.6h0M403.3,507.3h0M402.5,495.0h0M398.5,506.3h0M406.3,503.1h0M404.0,507.6h0M403.8,512.9h0M398.4,508.3h0M402.0,504.6h0M400.2,501.6h0M399.7,499.6h0M402.5,511.3h0M397.5,507.5h0M406.4,506.3h0M399.8,505.1h0M399.8,497.8h0M401.9,504.1h0M400.3,501.0h0M400.0,508.1h0M406.3,505.3h0M403.2,499.3h0M402.1,507.2h0M404.0,513.8h0M402.5,520.6h0M402.3,523.0h0M402.6,525.4h0M402.8,527.8h0M402.5,530.2h0M352.9,519.4h0M373.0,511.9h0M398.7,522.4h0M401.5,487.2h0M367.5,519.8h0M398.0,490.5h0M351.6,495.8h0M348.1,500.2h0M397.0,507.0h0M372.5,489.0h0M368.5,526.7h0M389.4,504.0h0M374.3,518.4h0M393.9,491.6h0M388.4,500.6h0M377.2,495.2h0M366.8,499.5h0M367.5,486.1h0M354.9,509.0h0M344.9,492.8h0M391.0,496.8h0M363.5,495.4h0M399.1,489.2h0M385.3,521.0h0M355.0,502.9h0M396.2,511.0h0M366.8,487.2h0M371.8,500.6h0M390.6,497.6h0M369.4,512.2h0M397.5,500.0h0M367.8,509.4h0M405.5,493.3h0M408.7,514.9h0M366.9,513.0h0M363.9,488.3h0" fill="none" stroke="#6426ea" stroke-width="1.1" stroke-linecap="round"/>
<ellipse cx="351.6" cy="507.8" rx="5.6" ry="4.2" fill="url(#gV)"/>
<ellipse cx="364.3" cy="507.6" rx="6.0" ry="5.4" fill="url(#gB)"/>
<ellipse cx="364.3" cy="507.6" rx="5.6" ry="4.8" fill="url(#gV)"/>
<ellipse cx="377.4" cy="508.4" rx="5.8" ry="4.4" fill="url(#gV)"/>
<ellipse cx="377.4" cy="508.4" rx="4.2" ry="2.8" fill="url(#gb)"/>
<ellipse cx="390.0" cy="506.8" rx="5.4" ry="3.8" fill="url(#gV)"/>
<ellipse cx="402.6" cy="507.6" rx="3.8" ry="2.8" fill="url(#gV)"/>
<ellipse cx="390.0" cy="498.0" rx="2.4" ry="2.4" fill="url(#gv)"/>
<ellipse cx="402.0" cy="499.0" rx="2.2" ry="2.2" fill="url(#gv)"/>
<ellipse cx="351.0" cy="498.4" rx="2.0" ry="2.0" fill="url(#gv)"/>
<ellipse cx="377.0" cy="499.0" rx="2.0" ry="2.0" fill="url(#gv)"/>
</g></g>
<clipPath id="cb6"><rect x="24.9" y="536" width="67.80" height="41.30"/></clipPath>
<g clip-path="url(#cb6)">
<rect x="24.90" y="536.00" width="67.80" height="41.30" fill="#161616" stroke="none" stroke-width="0.6"/>
<rect x="24.90" y="537.20" width="67.80" height="2.20" fill="#2c2c2c" stroke="none" stroke-width="0.6"/>
<path d="M26.3,539.4v6.2M28.9,539.4v6.8M31.5,539.4v7.4M34.1,539.4v6.2M36.7,539.4v6.8M39.3,539.4v7.4M41.9,539.4v6.2M44.5,539.4v6.8M47.1,539.4v7.4M49.7,539.4v6.2M52.3,539.4v6.8M54.9,539.4v7.4M57.5,539.4v6.2M60.1,539.4v6.8M62.7,539.4v7.4M65.3,539.4v6.2M67.9,539.4v6.8M70.5,539.4v7.4M73.1,539.4v6.2M75.7,539.4v6.8M78.3,539.4v7.4M80.9,539.4v6.2M83.5,539.4v6.8M86.1,539.4v7.4M88.7,539.4v6.2M91.3,539.4v6.8" fill="none" stroke="#333" stroke-width="1.1"/>
<rect x="24.90" y="570.30" width="67.80" height="7.00" fill="#1f1f1f" stroke="none" stroke-width="0.6"/>
<g filter="url(#bl)">
<use href="#ms" transform="translate(32.2,541.5) rotate(1.3) scale(1.02,0.98)"/>
<use href="#ms" transform="translate(43.7,541.6) rotate(2.0) scale(1.07,0.95)"/>
<use href="#ms" transform="translate(56.7,541.4) rotate(-0.2) scale(1.03,1.00)"/>
<use href="#ms" transform="translate(69.2,541.5) rotate(-0.1) scale(1.08,0.98)"/>
<use href="#ms" transform="translate(82.7,541.8) rotate(0.1) scale(0.97,0.99)"/>
</g></g>
<clipPath id="cb7"><rect x="101" y="536" width="76.20" height="41.30"/></clipPath>
<g clip-path="url(#cb7)">
<rect x="101.00" y="536.00" width="76.20" height="41.30" fill="#161616" stroke="none" stroke-width="0.6"/>
<rect x="101.00" y="537.20" width="76.20" height="2.20" fill="#2c2c2c" stroke="none" stroke-width="0.6"/>
<path d="M102.4,539.4v6.2M105.0,539.4v6.8M107.6,539.4v7.4M110.2,539.4v6.2M112.8,539.4v6.8M115.4,539.4v7.4M118.0,539.4v6.2M120.6,539.4v6.8M123.2,539.4v7.4M125.8,539.4v6.2M128.4,539.4v6.8M131.0,539.4v7.4M133.6,539.4v6.2M136.2,539.4v6.8M138.8,539.4v7.4M141.4,539.4v6.2M144.0,539.4v6.8M146.6,539.4v7.4M149.2,539.4v6.2M151.8,539.4v6.8M154.4,539.4v7.4M157.0,539.4v6.2M159.6,539.4v6.8M162.2,539.4v7.4M164.8,539.4v6.2M167.4,539.4v6.8M170.0,539.4v7.4M172.6,539.4v6.2M175.2,539.4v6.8" fill="none" stroke="#333" stroke-width="1.1"/>
<rect x="101.00" y="570.30" width="76.20" height="7.00" fill="#1f1f1f" stroke="none" stroke-width="0.6"/>
<g filter="url(#bl)">
<use href="#ms" transform="translate(109.9,541.6) rotate(-0.5) scale(0.98,0.99)"/>
<use href="#ms" transform="translate(124.0,541.2) rotate(1.3) scale(1.07,0.96)"/>
<use href="#ms" transform="translate(137.0,541.0) rotate(-2.1) scale(1.08,0.96)"/>
<use href="#ms" transform="translate(150.8,541.7) rotate(1.3) scale(1.05,0.95)"/>
<use href="#ms" transform="translate(165.3,541.7) rotate(1.1) scale(1.04,0.95)"/>
<ellipse cx="122.5" cy="547.3" rx="2.3" ry="2.3" fill="url(#gb)"/>
<ellipse cx="135.9" cy="546.0" rx="1.2" ry="1.2" fill="url(#gv)"/>
<ellipse cx="132.9" cy="555.0" rx="1.3" ry="1.3" fill="url(#gv)"/>
<ellipse cx="138.5" cy="554.6" rx="1.2" ry="1.2" fill="url(#gv)"/>
<ellipse cx="141.6" cy="566.0" rx="2.4" ry="2.4" fill="url(#gb)"/>
<ellipse cx="163.5" cy="548.5" rx="3.0" ry="3.0" fill="url(#gc)"/>
<ellipse cx="122.4" cy="556.0" rx="0.9" ry="0.9" fill="url(#gv)"/>
</g></g>
<clipPath id="cb8"><rect x="186.2" y="536" width="60.60" height="41.30"/></clipPath>
<g clip-path="url(#cb8)">
<rect x="186.20" y="536.00" width="60.60" height="41.30" fill="#161616" stroke="none" stroke-width="0.6"/>
<rect x="186.20" y="537.20" width="60.60" height="2.20" fill="#2c2c2c" stroke="none" stroke-width="0.6"/>
<path d="M187.6,539.4v6.2M190.2,539.4v6.8M192.8,539.4v7.4M195.4,539.4v6.2M198.0,539.4v6.8M200.6,539.4v7.4M203.2,539.4v6.2M205.8,539.4v6.8M208.4,539.4v7.4M211.0,539.4v6.2M213.6,539.4v6.8M216.2,539.4v7.4M218.8,539.4v6.2M221.4,539.4v6.8M224.0,539.4v7.4M226.6,539.4v6.2M229.2,539.4v6.8M231.8,539.4v7.4M234.4,539.4v6.2M237.0,539.4v6.8M239.6,539.4v7.4M242.2,539.4v6.2M244.8,539.4v6.8" fill="none" stroke="#333" stroke-width="1.1"/>
<rect x="186.20" y="570.30" width="60.60" height="7.00" fill="#1f1f1f" stroke="none" stroke-width="0.6"/>
<g filter="url(#bl)">
<use href="#ms" transform="translate(193.9,541.9) rotate(-0.4) scale(1.05,1.01)"/>
<use href="#ms" transform="translate(208.8,541.5) rotate(1.9) scale(1.00,0.97)"/>
<use href="#ms" transform="translate(222.5,541.2) rotate(-2.5) scale(1.10,0.97)"/>
<use href="#ms" transform="translate(235.8,541.6) rotate(-0.9) scale(1.01,1.00)"/>
<ellipse cx="192.7" cy="550.3" rx="4.0" ry="4.0" fill="url(#gv)"/>
<ellipse cx="191.9" cy="547.0" rx="3.6" ry="3.6" fill="url(#gg)"/>
<ellipse cx="195.0" cy="556.2" rx="1.8" ry="1.8" fill="url(#gb)"/>
<ellipse cx="190.0" cy="563.3" rx="3.0" ry="3.0" fill="url(#gb)"/>
<ellipse cx="198.0" cy="562.6" rx="2.4" ry="2.4" fill="url(#gb)"/>
<ellipse cx="208.6" cy="549.0" rx="4.0" ry="5.0" fill="url(#gv)"/>
<ellipse cx="208.3" cy="546.0" rx="4.2" ry="4.2" fill="url(#gr)"/>
<ellipse cx="208.8" cy="551.9" rx="3.2" ry="3.2" fill="url(#gc)"/>
<ellipse cx="204.9" cy="564.1" rx="3.8" ry="3.8" fill="url(#gb)"/>
<ellipse cx="213.3" cy="564.1" rx="2.8" ry="2.8" fill="url(#gb)"/>
<ellipse cx="222.5" cy="548.8" rx="5.2" ry="4.6" fill="url(#gv)"/>
<ellipse cx="225.6" cy="555.0" rx="2.8" ry="2.8" fill="url(#gc)"/>
<ellipse cx="219.5" cy="565.3" rx="4.0" ry="4.0" fill="url(#gg)"/>
<ellipse cx="227.9" cy="564.9" rx="2.2" ry="2.2" fill="url(#gb)"/>
<ellipse cx="221.0" cy="551.0" rx="2.4" ry="2.4" fill="url(#gb)"/>
<ellipse cx="234.8" cy="550.3" rx="4.8" ry="4.4" fill="url(#gv)"/>
<ellipse cx="234.8" cy="557.2" rx="2.8" ry="2.8" fill="url(#gb)"/>
<ellipse cx="239.3" cy="553.4" rx="2.4" ry="2.4" fill="url(#gb)"/>
<ellipse cx="234.3" cy="564.9" rx="2.8" ry="2.8" fill="url(#gb)"/>
<ellipse cx="238.3" cy="568.7" rx="1.6" ry="1.6" fill="url(#gv)"/>
<ellipse cx="233.0" cy="549.0" rx="2.2" ry="2.2" fill="url(#gb)"/>
</g></g>
<clipPath id="cb9"><rect x="256" y="536" width="76.00" height="41.30"/></clipPath>
<g clip-path="url(#cb9)">
<rect x="256.00" y="536.00" width="76.00" height="41.30" fill="#161616" stroke="none" stroke-width="0.6"/>
<rect x="256.00" y="537.20" width="76.00" height="2.20" fill="#2c2c2c" stroke="none" stroke-width="0.6"/>
<path d="M257.4,539.4v6.2M260.0,539.4v6.8M262.6,539.4v7.4M265.2,539.4v6.2M267.8,539.4v6.8M270.4,539.4v7.4M273.0,539.4v6.2M275.6,539.4v6.8M278.2,539.4v7.4M280.8,539.4v6.2M283.4,539.4v6.8M286.0,539.4v7.4M288.6,539.4v6.2M291.2,539.4v6.8M293.8,539.4v7.4M296.4,539.4v6.2M299.0,539.4v6.8M301.6,539.4v7.4M304.2,539.4v6.2M306.8,539.4v6.8M309.4,539.4v7.4M312.0,539.4v6.2M314.6,539.4v6.8M317.2,539.4v7.4M319.8,539.4v6.2M322.4,539.4v6.8M325.0,539.4v7.4M327.6,539.4v6.2M330.2,539.4v6.8" fill="none" stroke="#333" stroke-width="1.1"/>
<rect x="256.00" y="570.30" width="76.00" height="7.00" fill="#1f1f1f" stroke="none" stroke-width="0.6"/>
<g filter="url(#bl)">
<use href="#ms" transform="translate(266.5,541.3) rotate(0.1) scale(1.03,0.95)"/>
<use href="#ms" transform="translate(279.5,541.2) rotate(1.8) scale(1.07,1.00)"/>
<use href="#ms" transform="translate(293.3,541.3) rotate(-1.5) scale(0.99,0.98)"/>
<use href="#ms" transform="translate(306.3,541.3) rotate(-0.2) scale(1.04,0.98)"/>
<use href="#ms" transform="translate(320.0,541.6) rotate(1.5) scale(1.00,1.00)"/>
<ellipse cx="266.0" cy="556.0" rx="5.4" ry="11.0" fill="url(#gv)"/>
<ellipse cx="267.3" cy="548.8" rx="4.2" ry="4.2" fill="url(#gc)"/>
<ellipse cx="264.2" cy="554.9" rx="3.4" ry="3.4" fill="url(#gc)"/>
<ellipse cx="265.0" cy="560.3" rx="2.8" ry="2.8" fill="url(#gb)"/>
<ellipse cx="269.1" cy="565.6" rx="4.4" ry="4.4" fill="url(#gr)"/>
<ellipse cx="261.5" cy="568.4" rx="3.6" ry="3.6" fill="url(#gg)"/>
<ellipse cx="279.5" cy="553.0" rx="4.6" ry="8.0" fill="url(#gv)"/>
<ellipse cx="279.5" cy="548.0" rx="3.6" ry="3.6" fill="url(#gb)"/>
<ellipse cx="280.3" cy="556.5" rx="2.8" ry="2.8" fill="url(#gc)"/>
<ellipse cx="274.9" cy="564.4" rx="2.6" ry="2.6" fill="url(#gc)"/>
<ellipse cx="282.6" cy="564.9" rx="2.2" ry="2.2" fill="url(#gb)"/>
<ellipse cx="293.0" cy="546.5" rx="1.8" ry="1.8" fill="url(#gv)"/>
<ellipse cx="295.6" cy="555.7" rx="2.6" ry="2.6" fill="url(#gb)"/>
<ellipse cx="289.9" cy="565.6" rx="2.8" ry="2.8" fill="url(#gc)"/>
<ellipse cx="305.5" cy="548.0" rx="3.2" ry="3.2" fill="url(#gb)"/>
<ellipse cx="309.8" cy="551.9" rx="2.4" ry="2.4" fill="url(#gb)"/>
<ellipse cx="305.5" cy="557.2" rx="1.8" ry="1.8" fill="url(#gb)"/>
<ellipse cx="320.0" cy="558.0" rx="5.6" ry="12.0" fill="url(#gb)"/>
<ellipse cx="320.5" cy="549.6" rx="4.8" ry="4.8" fill="url(#gr)"/>
<ellipse cx="321.1" cy="554.9" rx="3.2" ry="3.2" fill="url(#gg)"/>
<ellipse cx="317.0" cy="560.3" rx="3.4" ry="3.4" fill="url(#gc)"/>
<ellipse cx="318.5" cy="566.9" rx="5.0" ry="5.0" fill="url(#gr)"/>
<ellipse cx="322.6" cy="568.7" rx="4.0" ry="4.0" fill="url(#gg)"/>
</g></g>
<clipPath id="cb10"><rect x="340.9" y="536" width="69.80" height="41.30"/></clipPath>
<g clip-path="url(#cb10)">
<rect x="340.90" y="536.00" width="69.80" height="41.30" fill="#161616" stroke="none" stroke-width="0.6"/>
<rect x="340.90" y="537.20" width="69.80" height="2.20" fill="#2c2c2c" stroke="none" stroke-width="0.6"/>
<path d="M342.3,539.4v6.2M344.9,539.4v6.8M347.5,539.4v7.4M350.1,539.4v6.2M352.7,539.4v6.8M355.3,539.4v7.4M357.9,539.4v6.2M360.5,539.4v6.8M363.1,539.4v7.4M365.7,539.4v6.2M368.3,539.4v6.8M370.9,539.4v7.4M373.5,539.4v6.2M376.1,539.4v6.8M378.7,539.4v7.4M381.3,539.4v6.2M383.9,539.4v6.8M386.5,539.4v7.4M389.1,539.4v6.2M391.7,539.4v6.8M394.3,539.4v7.4M396.9,539.4v6.2M399.5,539.4v6.8M402.1,539.4v7.4M404.7,539.4v6.2M407.3,539.4v6.8" fill="none" stroke="#333" stroke-width="1.1"/>
<rect x="340.90" y="570.30" width="69.80" height="7.00" fill="#1f1f1f" stroke="none" stroke-width="0.6"/>
<g filter="url(#bl)">
<use href="#ms" transform="translate(351.4,541.4) rotate(-2.2) scale(1.02,0.98)"/>
<use href="#ms" transform="translate(363.8,541.9) rotate(0.3) scale(1.02,0.97)"/>
<use href="#ms" transform="translate(377.9,541.6) rotate(-1.0) scale(1.06,1.00)"/>
<use href="#ms" transform="translate(390.8,542.0) rotate(-0.2) scale(1.09,0.98)"/>
<use href="#ms" transform="translate(403.8,541.0) rotate(-2.2) scale(1.03,0.99)"/>
<ellipse cx="351.4" cy="557.4" rx="6.2" ry="14.0" fill="url(#gB)"/>
<ellipse cx="351.2" cy="556.0" rx="4.6" ry="11.0" fill="url(#gC)"/>
<ellipse cx="350.7" cy="548.3" rx="3.2" ry="3.2" fill="url(#gr)"/>
<ellipse cx="351.0" cy="555.3" rx="3.8" ry="3.8" fill="url(#gr)"/>
<ellipse cx="347.4" cy="566.2" rx="3.4" ry="3.4" fill="url(#gr)"/>
<ellipse cx="355.2" cy="565.5" rx="3.4" ry="3.4" fill="url(#gr)"/>
<ellipse cx="364.0" cy="551.6" rx="5.2" ry="7.6" fill="url(#gB)"/>
<ellipse cx="365.4" cy="553.0" rx="2.4" ry="2.4" fill="url(#gc)"/>
<ellipse cx="362.4" cy="547.0" rx="2.0" ry="2.0" fill="url(#gc)"/>
<ellipse cx="377.9" cy="557.4" rx="6.4" ry="14.0" fill="url(#gB)"/>
<ellipse cx="377.9" cy="557.0" rx="5.2" ry="11.5" fill="url(#gC)"/>
<ellipse cx="377.9" cy="547.5" rx="3.2" ry="3.2" fill="url(#gr)"/>
<ellipse cx="378.0" cy="566.6" rx="3.8" ry="3.8" fill="url(#gg)"/>
<ellipse cx="390.8" cy="557.4" rx="6.2" ry="14.0" fill="url(#gB)"/>
<ellipse cx="390.8" cy="556.0" rx="4.8" ry="11.0" fill="url(#gC)"/>
<ellipse cx="390.8" cy="547.5" rx="3.2" ry="3.2" fill="url(#gr)"/>
<ellipse cx="393.9" cy="553.0" rx="2.8" ry="2.8" fill="url(#gg)"/>
<ellipse cx="389.0" cy="554.0" rx="2.6" ry="2.6" fill="url(#gg)"/>
<ellipse cx="388.2" cy="565.5" rx="3.4" ry="3.4" fill="url(#gr)"/>
<ellipse cx="396.0" cy="563.9" rx="3.0" ry="3.0" fill="url(#gr)"/>
<ellipse cx="404.2" cy="551.0" rx="5.2" ry="7.6" fill="url(#gB)"/>
<ellipse cx="404.1" cy="548.3" rx="2.8" ry="2.8" fill="url(#gr)"/>
<ellipse cx="405.0" cy="555.3" rx="2.6" ry="2.6" fill="url(#gc)"/>
<ellipse cx="407.6" cy="565.4" rx="2.8" ry="4.4" fill="url(#gB)"/>
</g></g>
<ellipse cx="377.9" cy="557.8" rx="5.3" ry="4.2" fill="#f41010"/>
<clipPath id="cb11"><rect x="24.9" y="586.3" width="67.80" height="42.70"/></clipPath>
<g clip-path="url(#cb11)">
<rect x="24.90" y="586.30" width="67.80" height="42.70" fill="#161616" stroke="none" stroke-width="0.6"/>
<rect x="24.90" y="587.50" width="67.80" height="2.20" fill="#2c2c2c" stroke="none" stroke-width="0.6"/>
<path d="M26.3,589.7v6.2M28.9,589.7v6.8M31.5,589.7v7.4M34.1,589.7v6.2M36.7,589.7v6.8M39.3,589.7v7.4M41.9,589.7v6.2M44.5,589.7v6.8M47.1,589.7v7.4M49.7,589.7v6.2M52.3,589.7v6.8M54.9,589.7v7.4M57.5,589.7v6.2M60.1,589.7v6.8M62.7,589.7v7.4M65.3,589.7v6.2M67.9,589.7v6.8M70.5,589.7v7.4M73.1,589.7v6.2M75.7,589.7v6.8M78.3,589.7v7.4M80.9,589.7v6.2M83.5,589.7v6.8M86.1,589.7v7.4M88.7,589.7v6.2M91.3,589.7v6.8" fill="none" stroke="#333" stroke-width="1.1"/>
<rect x="24.90" y="622.00" width="67.80" height="7.00" fill="#1f1f1f" stroke="none" stroke-width="0.6"/>
<g filter="url(#bl)">
<use href="#ms" transform="translate(31.5,591.7) rotate(1.8) scale(0.99,0.99)"/>
<use href="#ms" transform="translate(43.7,592.1) rotate(2.1) scale(1.05,1.00)"/>
<use href="#ms" transform="translate(57.5,591.8) rotate(0.9) scale(1.06,0.97)"/>
<use href="#ms" transform="translate(71.2,591.7) rotate(1.7) scale(1.00,1.00)"/>
<use href="#ms" transform="translate(83.5,592.6) rotate(-2.0) scale(0.99,1.00)"/>
</g></g>
<clipPath id="cb12"><rect x="101" y="586.3" width="76.20" height="42.70"/></clipPath>
<g clip-path="url(#cb12)">
<rect x="101.00" y="586.30" width="76.20" height="42.70" fill="#161616" stroke="none" stroke-width="0.6"/>
<rect x="101.00" y="587.50" width="76.20" height="2.20" fill="#2c2c2c" stroke="none" stroke-width="0.6"/>
<path d="M102.4,589.7v6.2M105.0,589.7v6.8M107.6,589.7v7.4M110.2,589.7v6.2M112.8,589.7v6.8M115.4,589.7v7.4M118.0,589.7v6.2M120.6,589.7v6.8M123.2,589.7v7.4M125.8,589.7v6.2M128.4,589.7v6.8M131.0,589.7v7.4M133.6,589.7v6.2M136.2,589.7v6.8M138.8,589.7v7.4M141.4,589.7v6.2M144.0,589.7v6.8M146.6,589.7v7.4M149.2,589.7v6.2M151.8,589.7v6.8M154.4,589.7v7.4M157.0,589.7v6.2M159.6,589.7v6.8M162.2,589.7v7.4M164.8,589.7v6.2M167.4,589.7v6.8M170.0,589.7v7.4M172.6,589.7v6.2M175.2,589.7v6.8" fill="none" stroke="#333" stroke-width="1.1"/>
<rect x="101.00" y="622.00" width="76.20" height="7.00" fill="#1f1f1f" stroke="none" stroke-width="0.6"/>
<g filter="url(#bl)">
<use href="#ms" transform="translate(108.0,592.0) rotate(-0.4) scale(1.06,0.97)"/>
<use href="#ms" transform="translate(120.2,591.7) rotate(0.9) scale(1.00,0.95)"/>
<use href="#ms" transform="translate(134.7,591.2) rotate(-2.3) scale(1.08,0.97)"/>
<use href="#ms" transform="translate(150.0,591.1) rotate(0.4) scale(1.02,0.98)"/>
<use href="#ms" transform="translate(164.5,591.1) rotate(2.1) scale(1.02,1.00)"/>
<ellipse cx="149.2" cy="594.7" rx="3.0" ry="3.0" fill="url(#gb)"/>
<ellipse cx="151.8" cy="597.7" rx="2.0" ry="2.0" fill="url(#gb)"/>
<ellipse cx="148.5" cy="601.6" rx="1.4" ry="1.4" fill="url(#gv)"/>
<ellipse cx="150.0" cy="613.0" rx="1.7" ry="1.7" fill="url(#gb)"/>
<ellipse cx="163.4" cy="598.0" rx="1.8" ry="1.8" fill="url(#gb)"/>
</g></g>
<clipPath id="cb13"><rect x="186.2" y="586.3" width="60.60" height="42.70"/></clipPath>
<g clip-path="url(#cb13)">
<rect x="186.20" y="586.30" width="60.60" height="42.70" fill="#161616" stroke="none" stroke-width="0.6"/>
<rect x="186.20" y="587.50" width="60.60" height="2.20" fill="#2c2c2c" stroke="none" stroke-width="0.6"/>
<path d="M187.6,589.7v6.2M190.2,589.7v6.8M192.8,589.7v7.4M195.4,589.7v6.2M198.0,589.7v6.8M200.6,589.7v7.4M203.2,589.7v6.2M205.8,589.7v6.8M208.4,589.7v7.4M211.0,589.7v6.2M213.6,589.7v6.8M216.2,589.7v7.4M218.8,589.7v6.2M221.4,589.7v6.8M224.0,589.7v7.4M226.6,589.7v6.2M229.2,589.7v6.8M231.8,589.7v7.4M234.4,589.7v6.2M237.0,589.7v6.8M239.6,589.7v7.4M242.2,589.7v6.2M244.8,589.7v6.8" fill="none" stroke="#333" stroke-width="1.1"/>
<rect x="186.20" y="622.00" width="60.60" height="7.00" fill="#1f1f1f" stroke="none" stroke-width="0.6"/>
<g filter="url(#bl)">
<use href="#ms" transform="translate(194.2,590.5) rotate(1.5) scale(1.10,0.97)"/>
<use href="#ms" transform="translate(211.0,591.2) rotate(-0.6) scale(1.06,0.96)"/>
<use href="#ms" transform="translate(224.8,591.0) rotate(-2.0) scale(1.03,0.99)"/>
<use href="#ms" transform="translate(237.8,590.6) rotate(0.9) scale(0.99,1.00)"/>
<ellipse cx="190.4" cy="602.0" rx="1.9" ry="1.9" fill="url(#gb)"/>
<ellipse cx="199.6" cy="616.9" rx="1.4" ry="1.4" fill="url(#gv)"/>
<ellipse cx="211.0" cy="595.5" rx="3.0" ry="3.0" fill="url(#gb)"/>
<ellipse cx="206.5" cy="600.8" rx="1.7" ry="1.7" fill="url(#gb)"/>
<ellipse cx="208.0" cy="614.6" rx="2.1" ry="2.1" fill="url(#gb)"/>
<ellipse cx="216.9" cy="613.0" rx="1.7" ry="1.7" fill="url(#gb)"/>
<ellipse cx="224.0" cy="598.0" rx="4.4" ry="5.0" fill="url(#gb)"/>
<ellipse cx="221.0" cy="608.5" rx="2.3" ry="2.3" fill="url(#gb)"/>
<ellipse cx="224.8" cy="614.6" rx="4.0" ry="4.0" fill="url(#gb)"/>
<ellipse cx="237.8" cy="608.0" rx="1.1" ry="1.1" fill="url(#gv)"/>
</g></g>
<clipPath id="cb14"><rect x="256" y="586.3" width="76.00" height="42.70"/></clipPath>
<g clip-path="url(#cb14)">
<rect x="256.00" y="586.30" width="76.00" height="42.70" fill="#161616" stroke="none" stroke-width="0.6"/>
<rect x="256.00" y="587.50" width="76.00" height="2.20" fill="#2c2c2c" stroke="none" stroke-width="0.6"/>
<path d="M257.4,589.7v6.2M260.0,589.7v6.8M262.6,589.7v7.4M265.2,589.7v6.2M267.8,589.7v6.8M270.4,589.7v7.4M273.0,589.7v6.2M275.6,589.7v6.8M278.2,589.7v7.4M280.8,589.7v6.2M283.4,589.7v6.8M286.0,589.7v7.4M288.6,589.7v6.2M291.2,589.7v6.8M293.8,589.7v7.4M296.4,589.7v6.2M299.0,589.7v6.8M301.6,589.7v7.4M304.2,589.7v6.2M306.8,589.7v6.8M309.4,589.7v7.4M312.0,589.7v6.2M314.6,589.7v6.8M317.2,589.7v7.4M319.8,589.7v6.2M322.4,589.7v6.8M325.0,589.7v7.4M327.6,589.7v6.2M330.2,589.7v6.8" fill="none" stroke="#333" stroke-width="1.1"/>
<rect x="256.00" y="622.00" width="76.00" height="7.00" fill="#1f1f1f" stroke="none" stroke-width="0.6"/>
<g filter="url(#bl)">
<use href="#ms" transform="translate(265.0,591.1) rotate(2.1) scale(1.10,1.01)"/>
<use href="#ms" transform="translate(277.2,591.1) rotate(-1.0) scale(1.02,0.99)"/>
<use href="#ms" transform="translate(291.8,591.5) rotate(2.1) scale(0.99,0.98)"/>
<use href="#ms" transform="translate(305.5,590.7) rotate(0.5) scale(1.04,0.96)"/>
<use href="#ms" transform="translate(319.3,590.8) rotate(-1.1) scale(1.09,1.00)"/>
<ellipse cx="264.6" cy="606.0" rx="5.2" ry="11.0" fill="url(#gv)"/>
<ellipse cx="263.0" cy="599.3" rx="4.8" ry="4.8" fill="url(#gc)"/>
<ellipse cx="267.3" cy="602.3" rx="2.8" ry="2.8" fill="url(#gb)"/>
<ellipse cx="266.8" cy="607.7" rx="1.7" ry="1.7" fill="url(#gb)"/>
<ellipse cx="264.2" cy="614.6" rx="3.8" ry="3.8" fill="url(#gg)"/>
<ellipse cx="269.1" cy="614.6" rx="3.2" ry="3.2" fill="url(#gc)"/>
<ellipse cx="261.2" cy="611.5" rx="2.1" ry="2.1" fill="url(#gb)"/>
<ellipse cx="276.5" cy="598.5" rx="3.8" ry="3.8" fill="url(#gr)"/>
<ellipse cx="278.0" cy="607.7" rx="1.4" ry="1.4" fill="url(#gb)"/>
<ellipse cx="281.0" cy="615.8" rx="2.4" ry="2.4" fill="url(#gc)"/>
<ellipse cx="292.0" cy="606.0" rx="5.6" ry="12.0" fill="url(#gv)"/>
<ellipse cx="290.5" cy="596.2" rx="4.0" ry="4.0" fill="url(#gc)"/>
<ellipse cx="295.1" cy="606.5" rx="3.8" ry="3.8" fill="url(#gg)"/>
<ellipse cx="289.5" cy="606.9" rx="2.6" ry="2.6" fill="url(#gb)"/>
<ellipse cx="291.4" cy="614.3" rx="3.8" ry="3.8" fill="url(#gg)"/>
<ellipse cx="304.8" cy="599.3" rx="2.3" ry="2.3" fill="url(#gb)"/>
<ellipse cx="305.8" cy="611.5" rx="2.4" ry="1.6" fill="url(#gb)"/>
<ellipse cx="318.5" cy="597.7" rx="3.4" ry="3.4" fill="url(#gc)"/>
<ellipse cx="315.0" cy="602.0" rx="3.2" ry="3.2" fill="url(#gg)"/>
<ellipse cx="323.1" cy="607.7" rx="1.4" ry="1.4" fill="url(#gb)"/>
<ellipse cx="319.3" cy="614.6" rx="2.1" ry="2.1" fill="url(#gb)"/>
<ellipse cx="317.0" cy="607.0" rx="2.4" ry="5.0" fill="url(#gv)"/>
</g></g>
<text x="449.00" y="478.00" font-size="7.6" text-anchor="middle" fill="#111">radiance</text>
<text x="449.00" y="486.00" font-size="7.6" text-anchor="middle" fill="#111">(p/s/cm<tspan baseline-shift="2.2" font-size="5">2</tspan>/sr)</text>
<rect x="434.30" y="493.40" width="3.00" height="107.00" fill="url(#cbar)" stroke="none" stroke-width="0.6"/>
<text x="441.00" y="497.30" font-size="8.1" text-anchor="start" fill="#111">1.0</text>
<text x="441.00" y="519.90" font-size="8.1" text-anchor="start" fill="#111">0.8</text>
<text x="441.00" y="542.80" font-size="8.1" text-anchor="start" fill="#111">0.6</text>
<text x="441.00" y="565.10" font-size="8.1" text-anchor="start" fill="#111">0.4</text>
<text x="441.00" y="587.90" font-size="8.1" text-anchor="start" fill="#111">0.2</text>
<text x="455.60" y="542.80" font-size="8.1" text-anchor="start" fill="#111">x10<tspan baseline-shift="2.8" font-size="5.6">7</tspan></text>
<text x="441.60" y="611.60" font-size="7.4" text-anchor="middle" fill="#111">color scale</text>
<text x="441.60" y="619.40" font-size="7.4" text-anchor="middle" fill="#111">min = 5x10<tspan baseline-shift="2.2" font-size="5">5</tspan></text>
<text x="441.60" y="627.20" font-size="7.4" text-anchor="middle" fill="#111">max = 1x10<tspan baseline-shift="2.2" font-size="5">7</tspan></text>
<text x="505.60" y="549.80" font-size="8.1" text-anchor="middle" fill="#1a1a1a" transform="rotate(-90 505.60 549.80)">abs. count EGFRt<tspan baseline-shift="3" font-size="6.4">+</tspan> [100 µl]</text>
<line x1="522.40" y1="499.70" x2="522.40" y2="601.90" stroke="#1a1a1a" stroke-width="0.8"/>
<line x1="519.40" y1="601.60" x2="522.40" y2="601.60" stroke="#1a1a1a" stroke-width="0.8"/>
<text x="518.80" y="600.99" font-size="7.2" text-anchor="end" fill="#1a1a1a">10<tspan baseline-shift="3.024" font-size="4.6">2</tspan></text>
<line x1="520.60" y1="591.41" x2="522.40" y2="591.41" stroke="#1a1a1a" stroke-width="0.5599999999999999"/>
<line x1="520.60" y1="585.44" x2="522.40" y2="585.44" stroke="#1a1a1a" stroke-width="0.5599999999999999"/>
<line x1="520.60" y1="581.21" x2="522.40" y2="581.21" stroke="#1a1a1a" stroke-width="0.5599999999999999"/>
<line x1="520.60" y1="577.93" x2="522.40" y2="577.93" stroke="#1a1a1a" stroke-width="0.5599999999999999"/>
<line x1="520.60" y1="575.25" x2="522.40" y2="575.25" stroke="#1a1a1a" stroke-width="0.5599999999999999"/>
<line x1="520.60" y1="572.98" x2="522.40" y2="572.98" stroke="#1a1a1a" stroke-width="0.5599999999999999"/>
<line x1="520.60" y1="571.02" x2="522.40" y2="571.02" stroke="#1a1a1a" stroke-width="0.5599999999999999"/>
<line x1="520.60" y1="569.28" x2="522.40" y2="569.28" stroke="#1a1a1a" stroke-width="0.5599999999999999"/>
<line x1="519.40" y1="567.73" x2="522.40" y2="567.73" stroke="#1a1a1a" stroke-width="0.8"/>
<text x="518.80" y="567.13" font-size="7.2" text-anchor="end" fill="#1a1a1a">10<tspan baseline-shift="3.024" font-size="4.6">3</tspan></text>
<line x1="520.60" y1="557.54" x2="522.40" y2="557.54" stroke="#1a1a1a" stroke-width="0.5599999999999999"/>
<line x1="520.60" y1="551.57" x2="522.40" y2="551.57" stroke="#1a1a1a" stroke-width="0.5599999999999999"/>
<line x1="520.60" y1="547.34" x2="522.40" y2="547.34" stroke="#1a1a1a" stroke-width="0.5599999999999999"/>
<line x1="520.60" y1="544.06" x2="522.40" y2="544.06" stroke="#1a1a1a" stroke-width="0.5599999999999999"/>
<line x1="520.60" y1="541.38" x2="522.40" y2="541.38" stroke="#1a1a1a" stroke-width="0.5599999999999999"/>
<line x1="520.60" y1="539.11" x2="522.40" y2="539.11" stroke="#1a1a1a" stroke-width="0.5599999999999999"/>
<line x1="520.60" y1="537.15" x2="522.40" y2="537.15" stroke="#1a1a1a" stroke-width="0.5599999999999999"/>
<line x1="520.60" y1="535.42" x2="522.40" y2="535.42" stroke="#1a1a1a" stroke-width="0.5599999999999999"/>
<line x1="519.40" y1="533.87" x2="522.40" y2="533.87" stroke="#1a1a1a" stroke-width="0.8"/>
<text x="518.80" y="533.26" font-size="7.2" text-anchor="end" fill="#1a1a1a">10<tspan baseline-shift="3.024" font-size="4.6">4</tspan></text>
<line x1="520.60" y1="523.67" x2="522.40" y2="523.67" stroke="#1a1a1a" stroke-width="0.5599999999999999"/>
<line x1="520.60" y1="517.71" x2="522.40" y2="517.71" stroke="#1a1a1a" stroke-width="0.5599999999999999"/>
<line x1="520.60" y1="513.48" x2="522.40" y2="513.48" stroke="#1a1a1a" stroke-width="0.5599999999999999"/>
<line x1="520.60" y1="510.19" x2="522.40" y2="510.19" stroke="#1a1a1a" stroke-width="0.5599999999999999"/>
<line x1="520.60" y1="507.51" x2="522.40" y2="507.51" stroke="#1a1a1a" stroke-width="0.5599999999999999"/>
<line x1="520.60" y1="505.25" x2="522.40" y2="505.25" stroke="#1a1a1a" stroke-width="0.5599999999999999"/>
<line x1="520.60" y1="503.28" x2="522.40" y2="503.28" stroke="#1a1a1a" stroke-width="0.5599999999999999"/>
<line x1="520.60" y1="501.55" x2="522.40" y2="501.55" stroke="#1a1a1a" stroke-width="0.5599999999999999"/>
<line x1="519.40" y1="500.00" x2="522.40" y2="500.00" stroke="#1a1a1a" stroke-width="0.8"/>
<text x="518.80" y="499.39" font-size="7.2" text-anchor="end" fill="#1a1a1a">10<tspan baseline-shift="3.024" font-size="4.6">5</tspan></text>
<line x1="522.10" y1="601.60" x2="563.20" y2="601.60" stroke="#1a1a1a" stroke-width="0.8"/>
<rect x="526.85" y="528.60" width="6.70" height="73.00" fill="#1d6396" stroke="#174f7a" stroke-width="0.7"/>
<line x1="530.20" y1="524.40" x2="530.20" y2="532.40" stroke="#111" stroke-width="0.6"/>
<line x1="528.70" y1="524.40" x2="531.70" y2="524.40" stroke="#111" stroke-width="0.6"/>
<line x1="528.70" y1="532.40" x2="531.70" y2="532.40" stroke="#111" stroke-width="0.6"/>
<circle cx="530.20" cy="525.00" r="1.0" fill="#0a0a0a" stroke="none" stroke-width="0.4"/>
<circle cx="528.90" cy="527.40" r="1.0" fill="#0a0a0a" stroke="none" stroke-width="0.4"/>
<circle cx="531.50" cy="530.00" r="1.0" fill="#0a0a0a" stroke="none" stroke-width="0.4"/>
<circle cx="529.55" cy="532.40" r="1.0" fill="#0a0a0a" stroke="none" stroke-width="0.4"/>
<circle cx="531.11" cy="534.40" r="1.0" fill="#0a0a0a" stroke="none" stroke-width="0.4"/>
<rect x="535.85" y="548.20" width="6.70" height="53.40" fill="#fff" stroke="#2b7bb9" stroke-width="0.7"/>
<line x1="539.20" y1="540.90" x2="539.20" y2="556.00" stroke="#2b7bb9" stroke-width="0.6"/>
<line x1="537.70" y1="540.90" x2="540.70" y2="540.90" stroke="#2b7bb9" stroke-width="0.6"/>
<line x1="537.70" y1="556.00" x2="540.70" y2="556.00" stroke="#2b7bb9" stroke-width="0.6"/>
<circle cx="539.20" cy="541.50" r="1.0" fill="#2b7bb9" stroke="none" stroke-width="0.4"/>
<circle cx="537.90" cy="543.20" r="1.0" fill="#2b7bb9" stroke="none" stroke-width="0.4"/>
<circle cx="540.50" cy="552.60" r="1.0" fill="#2b7bb9" stroke="none" stroke-width="0.4"/>
<circle cx="538.55" cy="597.00" r="1.0" fill="#2b7bb9" stroke="none" stroke-width="0.4"/>
<rect x="544.65" y="562.20" width="6.70" height="39.40" fill="#b2d6f1" stroke="#222" stroke-width="0.7"/>
<line x1="548.00" y1="558.40" x2="548.00" y2="566.00" stroke="#111" stroke-width="0.6"/>
<line x1="546.50" y1="558.40" x2="549.50" y2="558.40" stroke="#111" stroke-width="0.6"/>
<line x1="546.50" y1="566.00" x2="549.50" y2="566.00" stroke="#111" stroke-width="0.6"/>
<circle cx="548.00" cy="560.00" r="1.0" fill="#0a0a0a" stroke="none" stroke-width="0.4"/>
<circle cx="546.70" cy="561.00" r="1.0" fill="#0a0a0a" stroke="none" stroke-width="0.4"/>
<circle cx="549.30" cy="568.60" r="1.0" fill="#0a0a0a" stroke="none" stroke-width="0.4"/>
<rect x="553.35" y="581.80" width="6.70" height="19.80" fill="#fff" stroke="#b7dbf5" stroke-width="0.7"/>
<line x1="556.70" y1="576.60" x2="556.70" y2="588.00" stroke="#b7dbf5" stroke-width="0.6"/>
<line x1="555.20" y1="576.60" x2="558.20" y2="576.60" stroke="#b7dbf5" stroke-width="0.6"/>
<line x1="555.20" y1="588.00" x2="558.20" y2="588.00" stroke="#b7dbf5" stroke-width="0.6"/>
<circle cx="556.70" cy="577.40" r="1.0" fill="#b7dbf5" stroke="none" stroke-width="0.4"/>
<circle cx="555.40" cy="583.20" r="1.0" fill="#b7dbf5" stroke="none" stroke-width="0.4"/>
<circle cx="558.00" cy="595.00" r="1.0" fill="#b7dbf5" stroke="none" stroke-width="0.4"/>
<line x1="539.20" y1="496.50" x2="539.20" y2="539.50" stroke="#6a6a6a" stroke-width="0.7"/>
<line x1="530.30" y1="496.50" x2="530.30" y2="523.40" stroke="#777" stroke-width="0.6"/>
<line x1="530.00" y1="496.50" x2="539.55" y2="496.50" stroke="#111" stroke-width="0.75"/>
<text x="535.95" y="495.40" font-size="4.7" text-anchor="middle" fill="#222"><tspan font-style="italic">p</tspan> = 0.0001</text>
<line x1="548.00" y1="489.20" x2="548.00" y2="557.80" stroke="#6a6a6a" stroke-width="0.7"/>
<line x1="530.10" y1="489.20" x2="530.10" y2="523.40" stroke="#777" stroke-width="0.6"/>
<line x1="529.80" y1="489.20" x2="548.35" y2="489.20" stroke="#111" stroke-width="0.75"/>
<text x="540.25" y="488.10" font-size="4.7" text-anchor="middle" fill="#222"><tspan font-style="italic">p</tspan> &lt; 0.0001</text>
<line x1="556.70" y1="481.90" x2="556.70" y2="574.50" stroke="#6a6a6a" stroke-width="0.7"/>
<line x1="530.30" y1="481.90" x2="530.30" y2="523.40" stroke="#777" stroke-width="0.6"/>
<line x1="530.00" y1="481.90" x2="557.05" y2="481.90" stroke="#111" stroke-width="0.75"/>
<text x="544.70" y="480.80" font-size="4.7" text-anchor="middle" fill="#222"><tspan font-style="italic">p</tspan> &lt; 0.0001</text>
<text x="542.50" y="612.80" font-size="8.1" text-anchor="middle" fill="#1a1a1a">d5</text>
<line x1="573.20" y1="499.70" x2="573.20" y2="601.90" stroke="#1a1a1a" stroke-width="0.8"/>
<line x1="570.20" y1="601.60" x2="573.20" y2="601.60" stroke="#1a1a1a" stroke-width="0.8"/>
<line x1="571.40" y1="591.41" x2="573.20" y2="591.41" stroke="#1a1a1a" stroke-width="0.5599999999999999"/>
<line x1="571.40" y1="585.44" x2="573.20" y2="585.44" stroke="#1a1a1a" stroke-width="0.5599999999999999"/>
<line x1="571.40" y1="581.21" x2="573.20" y2="581.21" stroke="#1a1a1a" stroke-width="0.5599999999999999"/>
<line x1="571.40" y1="577.93" x2="573.20" y2="577.93" stroke="#1a1a1a" stroke-width="0.5599999999999999"/>
<line x1="571.40" y1="575.25" x2="573.20" y2="575.25" stroke="#1a1a1a" stroke-width="0.5599999999999999"/>
<line x1="571.40" y1="572.98" x2="573.20" y2="572.98" stroke="#1a1a1a" stroke-width="0.5599999999999999"/>
<line x1="571.40" y1="571.02" x2="573.20" y2="571.02" stroke="#1a1a1a" stroke-width="0.5599999999999999"/>
<line x1="571.40" y1="569.28" x2="573.20" y2="569.28" stroke="#1a1a1a" stroke-width="0.5599999999999999"/>
<line x1="570.20" y1="567.73" x2="573.20" y2="567.73" stroke="#1a1a1a" stroke-width="0.8"/>
<line x1="571.40" y1="557.54" x2="573.20" y2="557.54" stroke="#1a1a1a" stroke-width="0.5599999999999999"/>
<line x1="571.40" y1="551.57" x2="573.20" y2="551.57" stroke="#1a1a1a" stroke-width="0.5599999999999999"/>
<line x1="571.40" y1="547.34" x2="573.20" y2="547.34" stroke="#1a1a1a" stroke-width="0.5599999999999999"/>
<line x1="571.40" y1="544.06" x2="573.20" y2="544.06" stroke="#1a1a1a" stroke-width="0.5599999999999999"/>
<line x1="571.40" y1="541.38" x2="573.20" y2="541.38" stroke="#1a1a1a" stroke-width="0.5599999999999999"/>
<line x1="571.40" y1="539.11" x2="573.20" y2="539.11" stroke="#1a1a1a" stroke-width="0.5599999999999999"/>
<line x1="571.40" y1="537.15" x2="573.20" y2="537.15" stroke="#1a1a1a" stroke-width="0.5599999999999999"/>
<line x1="571.40" y1="535.42" x2="573.20" y2="535.42" stroke="#1a1a1a" stroke-width="0.5599999999999999"/>
<line x1="570.20" y1="533.87" x2="573.20" y2="533.87" stroke="#1a1a1a" stroke-width="0.8"/>
<line x1="571.40" y1="523.67" x2="573.20" y2="523.67" stroke="#1a1a1a" stroke-width="0.5599999999999999"/>
<line x1="571.40" y1="517.71" x2="573.20" y2="517.71" stroke="#1a1a1a" stroke-width="0.5599999999999999"/>
<line x1="571.40" y1="513.48" x2="573.20" y2="513.48" stroke="#1a1a1a" stroke-width="0.5599999999999999"/>
<line x1="571.40" y1="510.19" x2="573.20" y2="510.19" stroke="#1a1a1a" stroke-width="0.5599999999999999"/>
<line x1="571.40" y1="507.51" x2="573.20" y2="507.51" stroke="#1a1a1a" stroke-width="0.5599999999999999"/>
<line x1="571.40" y1="505.25" x2="573.20" y2="505.25" stroke="#1a1a1a" stroke-width="0.5599999999999999"/>
<line x1="571.40" y1="503.28" x2="573.20" y2="503.28" stroke="#1a1a1a" stroke-width="0.5599999999999999"/>
<line x1="571.40" y1="501.55" x2="573.20" y2="501.55" stroke="#1a1a1a" stroke-width="0.5599999999999999"/>
<line x1="570.20" y1="500.00" x2="573.20" y2="500.00" stroke="#1a1a1a" stroke-width="0.8"/>
<line x1="572.90" y1="601.60" x2="613.50" y2="601.60" stroke="#1a1a1a" stroke-width="0.8"/>
<rect x="577.35" y="515.20" width="6.70" height="86.40" fill="#1d6396" stroke="#174f7a" stroke-width="0.7"/>
<line x1="580.70" y1="512.60" x2="580.70" y2="517.80" stroke="#111" stroke-width="0.6"/>
<line x1="579.20" y1="512.60" x2="582.20" y2="512.60" stroke="#111" stroke-width="0.6"/>
<line x1="579.20" y1="517.80" x2="582.20" y2="517.80" stroke="#111" stroke-width="0.6"/>
<circle cx="580.70" cy="513.00" r="1.0" fill="#0a0a0a" stroke="none" stroke-width="0.4"/>
<circle cx="579.40" cy="514.40" r="1.0" fill="#0a0a0a" stroke="none" stroke-width="0.4"/>
<circle cx="582.00" cy="516.10" r="1.0" fill="#0a0a0a" stroke="none" stroke-width="0.4"/>
<rect x="586.65" y="542.40" width="6.70" height="59.20" fill="#fff" stroke="#2b7bb9" stroke-width="0.7"/>
<line x1="590.00" y1="531.60" x2="590.00" y2="556.60" stroke="#2b7bb9" stroke-width="0.6"/>
<line x1="588.50" y1="531.60" x2="591.50" y2="531.60" stroke="#2b7bb9" stroke-width="0.6"/>
<line x1="588.50" y1="556.60" x2="591.50" y2="556.60" stroke="#2b7bb9" stroke-width="0.6"/>
<circle cx="590.00" cy="531.60" r="1.0" fill="#2b7bb9" stroke="none" stroke-width="0.4"/>
<circle cx="588.70" cy="535.60" r="1.0" fill="#2b7bb9" stroke="none" stroke-width="0.4"/>
<circle cx="591.30" cy="556.00" r="1.0" fill="#2b7bb9" stroke="none" stroke-width="0.4"/>
<circle cx="589.35" cy="583.20" r="1.0" fill="#2b7bb9" stroke="none" stroke-width="0.4"/>
<rect x="595.35" y="549.70" width="6.70" height="51.90" fill="#b2d6f1" stroke="#222" stroke-width="0.7"/>
<line x1="598.70" y1="546.40" x2="598.70" y2="553.00" stroke="#111" stroke-width="0.6"/>
<line x1="597.20" y1="546.40" x2="600.20" y2="546.40" stroke="#111" stroke-width="0.6"/>
<line x1="597.20" y1="553.00" x2="600.20" y2="553.00" stroke="#111" stroke-width="0.6"/>
<circle cx="598.70" cy="546.20" r="1.0" fill="#0a0a0a" stroke="none" stroke-width="0.4"/>
<circle cx="597.40" cy="549.70" r="1.0" fill="#0a0a0a" stroke="none" stroke-width="0.4"/>
<circle cx="600.00" cy="550.30" r="1.0" fill="#0a0a0a" stroke="none" stroke-width="0.4"/>
<rect x="604.15" y="559.00" width="6.70" height="42.60" fill="#fff" stroke="#b7dbf5" stroke-width="0.7"/>
<line x1="607.50" y1="551.00" x2="607.50" y2="568.60" stroke="#b7dbf5" stroke-width="0.6"/>
<line x1="606.00" y1="551.00" x2="609.00" y2="551.00" stroke="#b7dbf5" stroke-width="0.6"/>
<line x1="606.00" y1="568.60" x2="609.00" y2="568.60" stroke="#b7dbf5" stroke-width="0.6"/>
<circle cx="607.50" cy="549.00" r="1.0" fill="#b7dbf5" stroke="none" stroke-width="0.4"/>
<circle cx="606.20" cy="558.40" r="1.0" fill="#b7dbf5" stroke="none" stroke-width="0.4"/>
<circle cx="608.80" cy="564.30" r="1.0" fill="#b7dbf5" stroke="none" stroke-width="0.4"/>
<circle cx="606.85" cy="568.60" r="1.0" fill="#b7dbf5" stroke="none" stroke-width="0.4"/>
<line x1="590.00" y1="496.50" x2="590.00" y2="529.20" stroke="#6a6a6a" stroke-width="0.7"/>
<line x1="580.80" y1="496.50" x2="580.80" y2="511.70" stroke="#777" stroke-width="0.6"/>
<line x1="580.50" y1="496.50" x2="590.35" y2="496.50" stroke="#111" stroke-width="0.75"/>
<text x="586.60" y="495.40" font-size="4.7" text-anchor="middle" fill="#222"><tspan font-style="italic">p</tspan> = 0.0001</text>
<line x1="598.70" y1="489.20" x2="598.70" y2="543.80" stroke="#6a6a6a" stroke-width="0.7"/>
<line x1="580.60" y1="489.20" x2="580.60" y2="511.70" stroke="#777" stroke-width="0.6"/>
<line x1="580.30" y1="489.20" x2="599.05" y2="489.20" stroke="#111" stroke-width="0.75"/>
<text x="590.85" y="488.10" font-size="4.7" text-anchor="middle" fill="#222"><tspan font-style="italic">p</tspan> &lt; 0.0001</text>
<line x1="607.50" y1="481.90" x2="607.50" y2="546.80" stroke="#6a6a6a" stroke-width="0.7"/>
<line x1="580.80" y1="481.90" x2="580.80" y2="511.70" stroke="#777" stroke-width="0.6"/>
<line x1="580.50" y1="481.90" x2="607.85" y2="481.90" stroke="#111" stroke-width="0.75"/>
<text x="595.35" y="480.80" font-size="4.7" text-anchor="middle" fill="#222"><tspan font-style="italic">p</tspan> &lt; 0.0001</text>
<text x="593.60" y="612.80" font-size="8.1" text-anchor="middle" fill="#1a1a1a">d7</text>
<line x1="623.70" y1="499.70" x2="623.70" y2="601.90" stroke="#1a1a1a" stroke-width="0.8"/>
<line x1="620.70" y1="601.60" x2="623.70" y2="601.60" stroke="#1a1a1a" stroke-width="0.8"/>
<line x1="621.90" y1="591.41" x2="623.70" y2="591.41" stroke="#1a1a1a" stroke-width="0.5599999999999999"/>
<line x1="621.90" y1="585.44" x2="623.70" y2="585.44" stroke="#1a1a1a" stroke-width="0.5599999999999999"/>
<line x1="621.90" y1="581.21" x2="623.70" y2="581.21" stroke="#1a1a1a" stroke-width="0.5599999999999999"/>
<line x1="621.90" y1="577.93" x2="623.70" y2="577.93" stroke="#1a1a1a" stroke-width="0.5599999999999999"/>
<line x1="621.90" y1="575.25" x2="623.70" y2="575.25" stroke="#1a1a1a" stroke-width="0.5599999999999999"/>
<line x1="621.90" y1="572.98" x2="623.70" y2="572.98" stroke="#1a1a1a" stroke-width="0.5599999999999999"/>
<line x1="621.90" y1="571.02" x2="623.70" y2="571.02" stroke="#1a1a1a" stroke-width="0.5599999999999999"/>
<line x1="621.90" y1="569.28" x2="623.70" y2="569.28" stroke="#1a1a1a" stroke-width="0.5599999999999999"/>
<line x1="620.70" y1="567.73" x2="623.70" y2="567.73" stroke="#1a1a1a" stroke-width="0.8"/>
<line x1="621.90" y1="557.54" x2="623.70" y2="557.54" stroke="#1a1a1a" stroke-width="0.5599999999999999"/>
<line x1="621.90" y1="551.57" x2="623.70" y2="551.57" stroke="#1a1a1a" stroke-width="0.5599999999999999"/>
<line x1="621.90" y1="547.34" x2="623.70" y2="547.34" stroke="#1a1a1a" stroke-width="0.5599999999999999"/>
<line x1="621.90" y1="544.06" x2="623.70" y2="544.06" stroke="#1a1a1a" stroke-width="0.5599999999999999"/>
<line x1="621.90" y1="541.38" x2="623.70" y2="541.38" stroke="#1a1a1a" stroke-width="0.5599999999999999"/>
<line x1="621.90" y1="539.11" x2="623.70" y2="539.11" stroke="#1a1a1a" stroke-width="0.5599999999999999"/>
<line x1="621.90" y1="537.15" x2="623.70" y2="537.15" stroke="#1a1a1a" stroke-width="0.5599999999999999"/>
<line x1="621.90" y1="535.42" x2="623.70" y2="535.42" stroke="#1a1a1a" stroke-width="0.5599999999999999"/>
<line x1="620.70" y1="533.87" x2="623.70" y2="533.87" stroke="#1a1a1a" stroke-width="0.8"/>
<line x1="621.90" y1="523.67" x2="623.70" y2="523.67" stroke="#1a1a1a" stroke-width="0.5599999999999999"/>
<line x1="621.90" y1="517.71" x2="623.70" y2="517.71" stroke="#1a1a1a" stroke-width="0.5599999999999999"/>
<line x1="621.90" y1="513.48" x2="623.70" y2="513.48" stroke="#1a1a1a" stroke-width="0.5599999999999999"/>
<line x1="621.90" y1="510.19" x2="623.70" y2="510.19" stroke="#1a1a1a" stroke-width="0.5599999999999999"/>
<line x1="621.90" y1="507.51" x2="623.70" y2="507.51" stroke="#1a1a1a" stroke-width="0.5599999999999999"/>
<line x1="621.90" y1="505.25" x2="623.70" y2="505.25" stroke="#1a1a1a" stroke-width="0.5599999999999999"/>
<line x1="621.90" y1="503.28" x2="623.70" y2="503.28" stroke="#1a1a1a" stroke-width="0.5599999999999999"/>
<line x1="621.90" y1="501.55" x2="623.70" y2="501.55" stroke="#1a1a1a" stroke-width="0.5599999999999999"/>
<line x1="620.70" y1="500.00" x2="623.70" y2="500.00" stroke="#1a1a1a" stroke-width="0.8"/>
<line x1="623.40" y1="601.60" x2="663.70" y2="601.60" stroke="#1a1a1a" stroke-width="0.8"/>
<rect x="628.45" y="508.80" width="6.70" height="92.80" fill="#1d6396" stroke="#174f7a" stroke-width="0.7"/>
<line x1="631.80" y1="502.00" x2="631.80" y2="516.00" stroke="#111" stroke-width="0.6"/>
<line x1="630.30" y1="502.00" x2="633.30" y2="502.00" stroke="#111" stroke-width="0.6"/>
<line x1="630.30" y1="516.00" x2="633.30" y2="516.00" stroke="#111" stroke-width="0.6"/>
<circle cx="631.80" cy="503.00" r="1.0" fill="#0a0a0a" stroke="none" stroke-width="0.4"/>
<circle cx="630.50" cy="508.80" r="1.0" fill="#0a0a0a" stroke="none" stroke-width="0.4"/>
<circle cx="633.10" cy="511.70" r="1.0" fill="#0a0a0a" stroke="none" stroke-width="0.4"/>
<circle cx="631.15" cy="516.10" r="1.0" fill="#0a0a0a" stroke="none" stroke-width="0.4"/>
<rect x="637.45" y="526.30" width="6.70" height="75.30" fill="#fff" stroke="#2b7bb9" stroke-width="0.7"/>
<line x1="640.80" y1="519.60" x2="640.80" y2="534.00" stroke="#2b7bb9" stroke-width="0.6"/>
<line x1="639.30" y1="519.60" x2="642.30" y2="519.60" stroke="#2b7bb9" stroke-width="0.6"/>
<line x1="639.30" y1="534.00" x2="642.30" y2="534.00" stroke="#2b7bb9" stroke-width="0.6"/>
<circle cx="640.80" cy="519.90" r="1.0" fill="#2b7bb9" stroke="none" stroke-width="0.4"/>
<circle cx="639.50" cy="521.90" r="1.0" fill="#2b7bb9" stroke="none" stroke-width="0.4"/>
<circle cx="642.10" cy="523.40" r="1.0" fill="#2b7bb9" stroke="none" stroke-width="0.4"/>
<circle cx="640.15" cy="552.60" r="1.0" fill="#2b7bb9" stroke="none" stroke-width="0.4"/>
<rect x="646.55" y="525.40" width="6.70" height="76.20" fill="#b2d6f1" stroke="#222" stroke-width="0.7"/>
<line x1="649.90" y1="517.60" x2="649.90" y2="534.40" stroke="#111" stroke-width="0.6"/>
<line x1="648.40" y1="517.60" x2="651.40" y2="517.60" stroke="#111" stroke-width="0.6"/>
<line x1="648.40" y1="534.40" x2="651.40" y2="534.40" stroke="#111" stroke-width="0.6"/>
<circle cx="649.90" cy="517.00" r="1.0" fill="#0a0a0a" stroke="none" stroke-width="0.4"/>
<circle cx="648.60" cy="520.50" r="1.0" fill="#0a0a0a" stroke="none" stroke-width="0.4"/>
<circle cx="651.20" cy="530.70" r="1.0" fill="#0a0a0a" stroke="none" stroke-width="0.4"/>
<circle cx="649.25" cy="535.10" r="1.0" fill="#0a0a0a" stroke="none" stroke-width="0.4"/>
<circle cx="650.81" cy="539.50" r="1.0" fill="#0a0a0a" stroke="none" stroke-width="0.4"/>
<rect x="655.25" y="517.60" width="6.70" height="84.00" fill="#fff" stroke="#b7dbf5" stroke-width="0.7"/>
<line x1="658.60" y1="509.40" x2="658.60" y2="527.00" stroke="#b7dbf5" stroke-width="0.6"/>
<line x1="657.10" y1="509.40" x2="660.10" y2="509.40" stroke="#b7dbf5" stroke-width="0.6"/>
<line x1="657.10" y1="527.00" x2="660.10" y2="527.00" stroke="#b7dbf5" stroke-width="0.6"/>
<circle cx="658.60" cy="505.90" r="1.0" fill="#b7dbf5" stroke="none" stroke-width="0.4"/>
<circle cx="657.30" cy="517.60" r="1.0" fill="#b7dbf5" stroke="none" stroke-width="0.4"/>
<circle cx="659.90" cy="520.50" r="1.0" fill="#b7dbf5" stroke="none" stroke-width="0.4"/>
<circle cx="657.95" cy="523.40" r="1.0" fill="#b7dbf5" stroke="none" stroke-width="0.4"/>
<circle cx="659.51" cy="527.80" r="1.0" fill="#b7dbf5" stroke="none" stroke-width="0.4"/>
<line x1="640.80" y1="496.50" x2="640.80" y2="519.00" stroke="#6a6a6a" stroke-width="0.7"/>
<line x1="631.90" y1="496.50" x2="631.90" y2="500.60" stroke="#777" stroke-width="0.6"/>
<line x1="631.60" y1="496.50" x2="641.15" y2="496.50" stroke="#111" stroke-width="0.75"/>
<text x="637.55" y="495.40" font-size="4.7" text-anchor="middle" fill="#222"><tspan font-style="italic">p</tspan> = 0.0155</text>
<line x1="649.90" y1="489.20" x2="649.90" y2="515.20" stroke="#6a6a6a" stroke-width="0.7"/>
<line x1="631.70" y1="489.20" x2="631.70" y2="500.60" stroke="#777" stroke-width="0.6"/>
<line x1="631.40" y1="489.20" x2="650.25" y2="489.20" stroke="#111" stroke-width="0.75"/>
<text x="642.00" y="488.10" font-size="4.7" text-anchor="middle" fill="#222"><tspan font-style="italic">p</tspan> = 0.0127</text>
<text x="645.60" y="612.80" font-size="8.1" text-anchor="middle" fill="#1a1a1a">d10</text>
</g>
</svg>
</body></html>
